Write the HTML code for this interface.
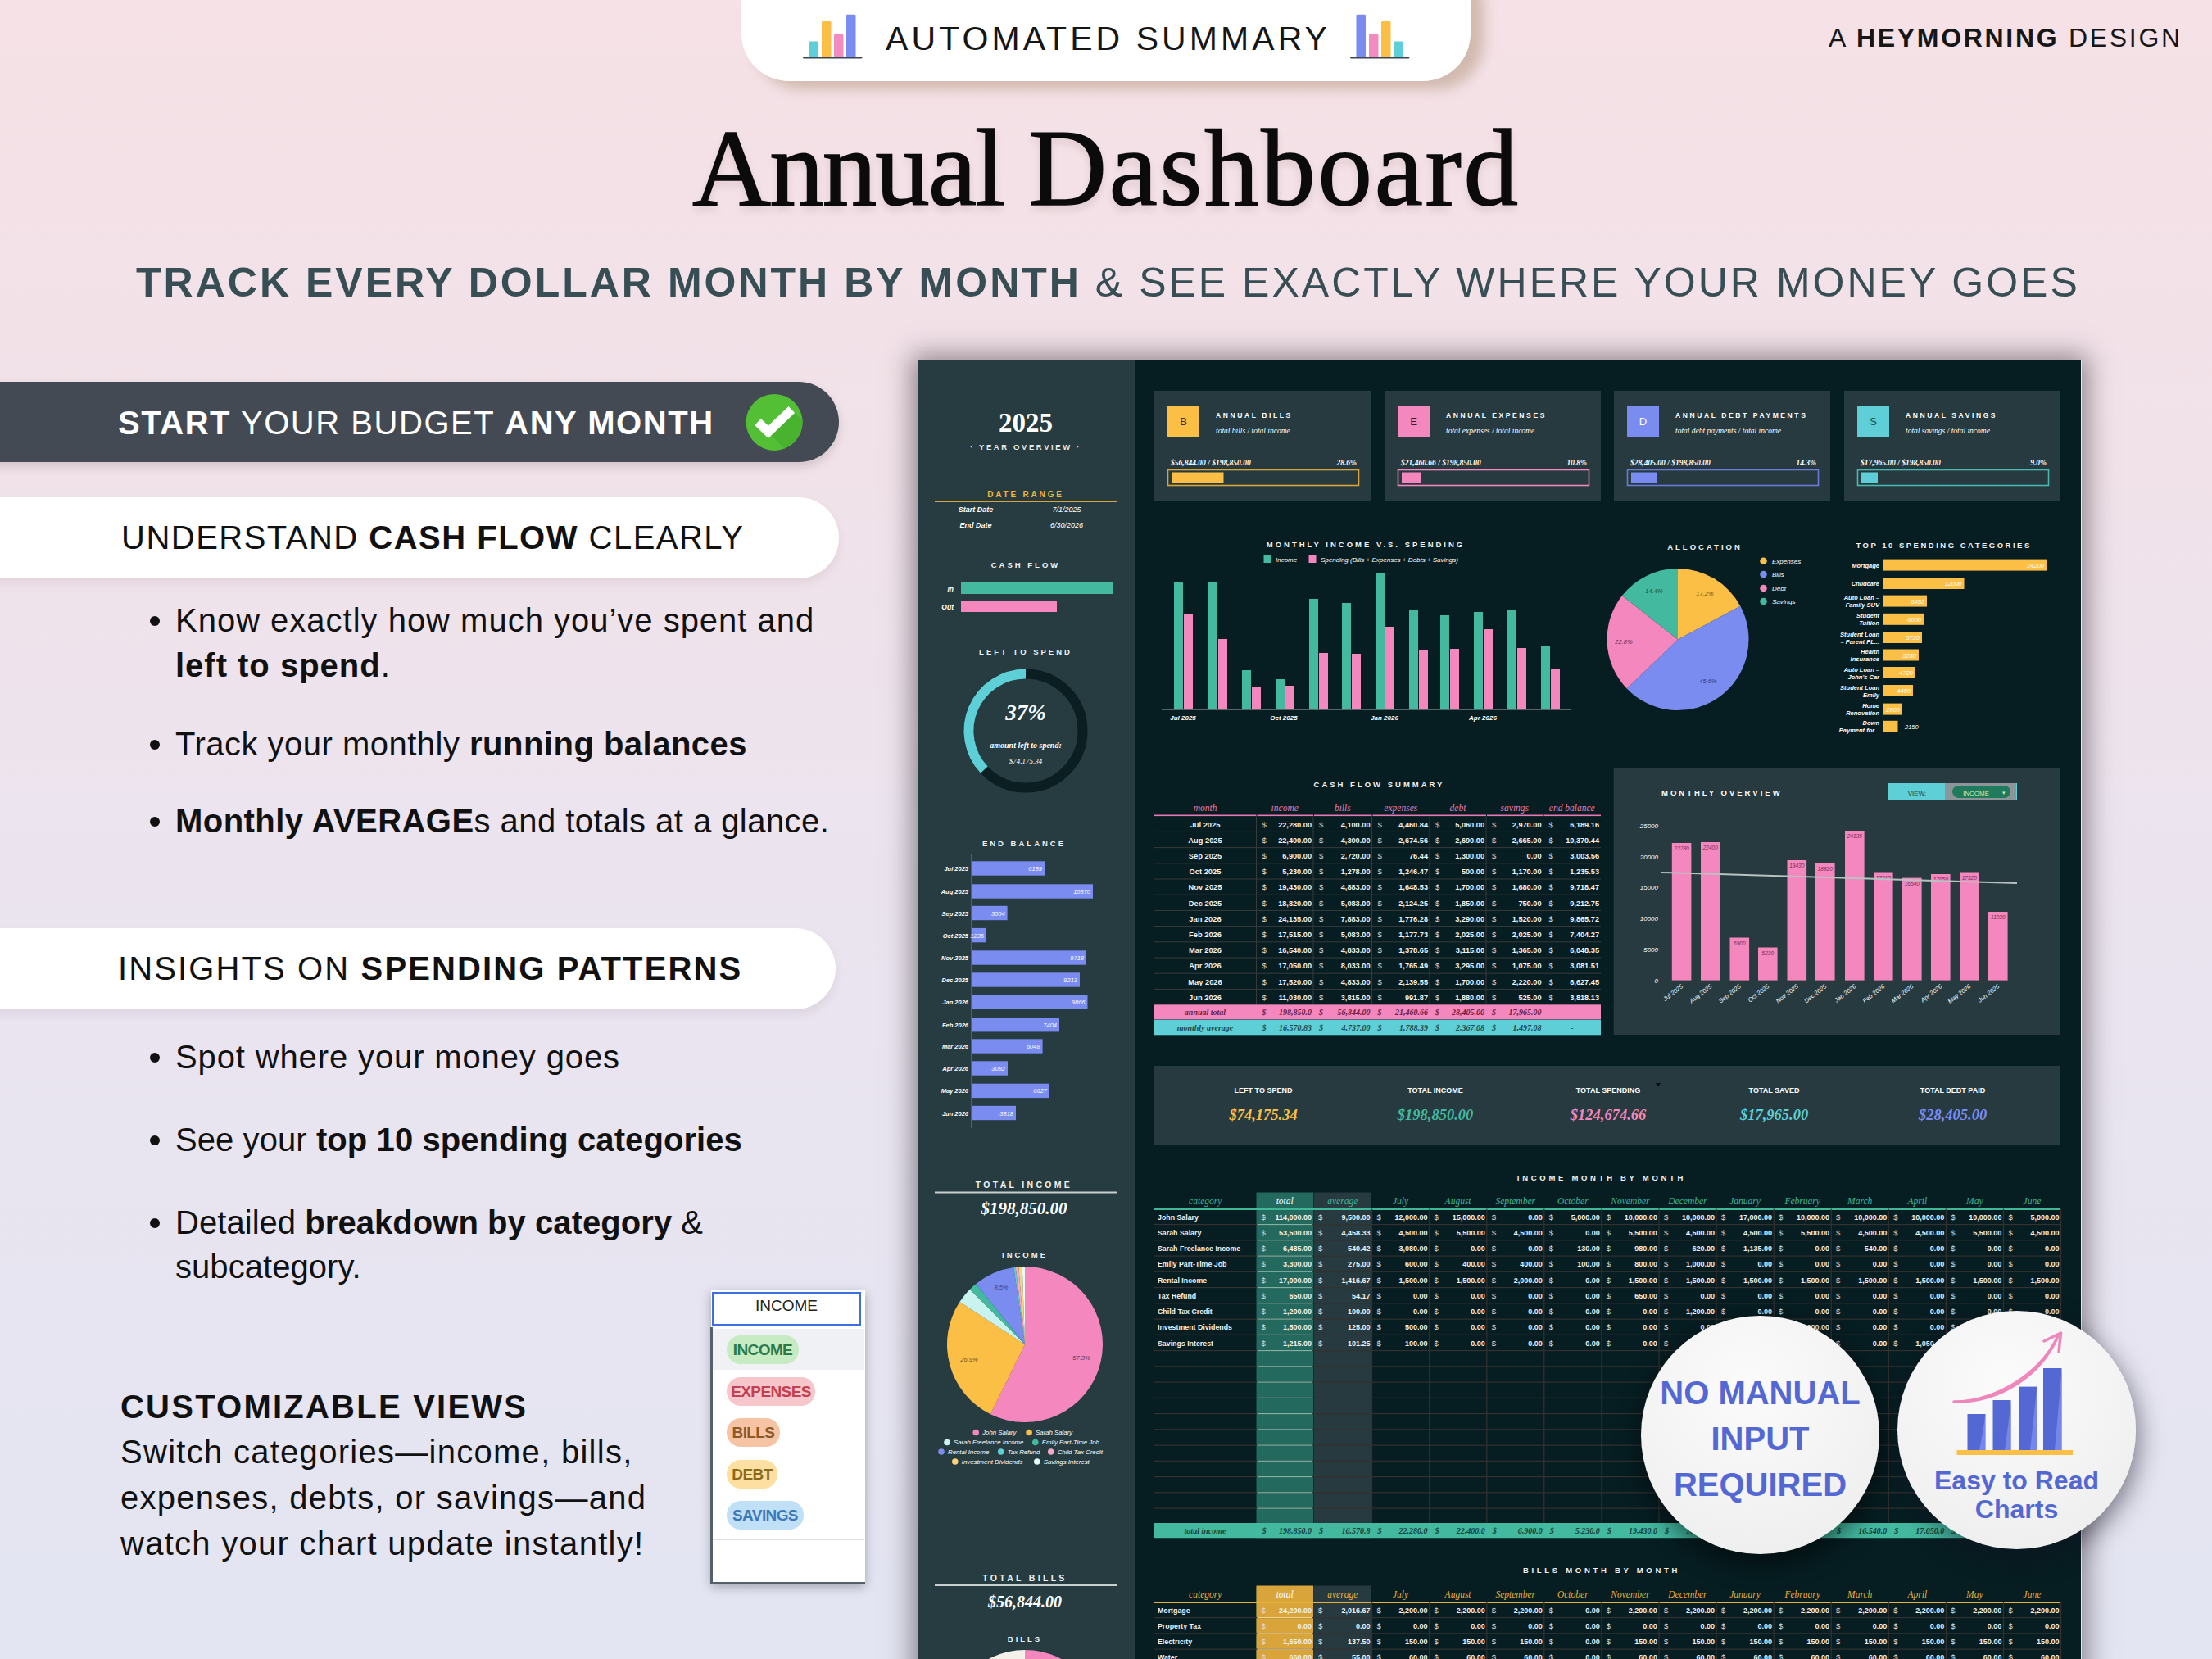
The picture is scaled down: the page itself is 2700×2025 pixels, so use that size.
<!DOCTYPE html>
<html><head><meta charset="utf-8"><title>Annual Dashboard</title>
<style>
*{margin:0;padding:0;box-sizing:border-box}
html,body{width:2700px;height:2025px;overflow:hidden}
body{position:relative;background:linear-gradient(180deg,#f5e1e6 0%,#f1e2e9 28%,#ebe4ef 52%,#e3e5f2 100%);font-family:"Liberation Sans",Arial,sans-serif;color:#111}
.a{position:absolute}
.nw{white-space:nowrap}
</style></head><body>
<div class="a" style="left:905px;top:-60px;width:890px;height:159px;background:#fff;border-radius:58px;box-shadow:16px 10px 16px rgba(160,130,95,0.42)"></div>
<svg class="a" style="left:980px;top:0px" width="74" height="74" viewBox="0 0 74 74"><rect x="7.5" y="50.6" width="11.5" height="18.9" rx="1.2" fill="#5ecfd6"/><rect x="23" y="26" width="11.5" height="43.5" rx="1.2" fill="#fbbf45"/><rect x="38" y="41.5" width="11.5" height="28.0" rx="1.2" fill="#f28cc0"/><rect x="53" y="17.7" width="11.5" height="51.8" rx="1.2" fill="#7b8cf0"/><rect x="0" y="69.2" width="72.5" height="2.2" rx="1.1" fill="#3c4654"/></svg>
<svg class="a" style="left:1648px;top:0px" width="74" height="74" viewBox="0 0 74 74"><rect x="7.5" y="17.7" width="11.5" height="51.8" rx="1.2" fill="#7b8cf0"/><rect x="23" y="41.5" width="11.5" height="28.0" rx="1.2" fill="#f28cc0"/><rect x="38" y="26" width="11.5" height="43.5" rx="1.2" fill="#fbbf45"/><rect x="53" y="50.6" width="11.5" height="18.9" rx="1.2" fill="#5ecfd6"/><rect x="0" y="69.2" width="72.5" height="2.2" rx="1.1" fill="#3c4654"/></svg>
<div id="autosum" class="a nw" style="left:1081px;top:24px;font-size:41px;letter-spacing:4.07px;color:#161616">AUTOMATED SUMMARY</div>
<div id="heym" class="a nw" style="left:2232px;top:28px;font-size:32px;letter-spacing:2.70px;color:#161616">A <b>HEYMORNING</b> DESIGN</div>
<div id="title1" class="a nw" style="left:845px;top:128px;font-family:'Liberation Serif',serif;font-size:133px;-webkit-text-stroke:1.5px #0b0b0b;letter-spacing:-1.90px;color:#0b0b0b;text-shadow:0 6px 10px rgba(120,80,80,0.18)">Annual</div>
<div id="title2" class="a nw" style="left:1255px;top:128px;font-family:'Liberation Serif',serif;font-size:133px;-webkit-text-stroke:1.5px #0b0b0b;letter-spacing:2.73px;color:#0b0b0b;text-shadow:0 6px 10px rgba(120,80,80,0.18)">Dashboard</div>
<div id="sub" class="a nw" style="left:166px;top:316px;font-size:50px;letter-spacing:3.01px;color:#374e55"><b>TRACK EVERY DOLLAR MONTH BY MONTH</b> &amp; SEE EXACTLY WHERE YOUR MONEY GOES</div>
<div class="a" style="left:-60px;top:466px;width:1084px;height:98px;background:#434a53;border-radius:49px;box-shadow:0 6px 12px rgba(80,60,70,0.18)"></div>
<div id="p1" class="a nw" style="left:144px;top:494px;font-size:40px;letter-spacing:1.54px;color:#fff"><b>START</b> YOUR BUDGET <b>ANY MONTH</b></div>
<svg class="a" style="left:910px;top:480px" width="71" height="71" viewBox="0 0 71 71"><defs><clipPath id="cc"><circle cx="35.1" cy="35.4" r="34.5"/></clipPath></defs><circle cx="35.1" cy="35.4" r="34.5" fill="#53bf35"/><polygon clip-path="url(#cc)" points="15,35 27.8,47.3 56.3,20 116,80 87.8,107.3 75,95" fill="#49b330"/><path d="M15 35 L27.8 47.3 L56.3 20" fill="none" stroke="#fff" stroke-width="11" stroke-linejoin="miter"/></svg>
<div class="a" style="left:-60px;top:607px;width:1084px;height:99px;background:#fff;border-radius:50px;box-shadow:0 6px 12px rgba(120,80,90,0.10)"></div>
<div id="p2" class="a nw" style="left:148px;top:633.5px;font-size:40px;letter-spacing:1.49px;color:#111">UNDERSTAND <b>CASH FLOW</b> CLEARLY</div>
<div class="a" style="left:-60px;top:1133px;width:1080px;height:99px;background:#fff;border-radius:50px;box-shadow:0 6px 12px rgba(120,80,90,0.10)"></div>
<div id="p3" class="a nw" style="left:144px;top:1160px;font-size:40px;letter-spacing:2.12px;color:#111">INSIGHTS ON <b>SPENDING PATTERNS</b></div>
<div class="a" style="left:182.8px;top:752.4px;width:12px;height:12px;border-radius:50%;background:#111"></div><div id="b1" class="a nw" style="left:214px;top:729.2px;font-size:40px;letter-spacing:0.99px;color:#111;line-height:56px">Know exactly how much you’ve spent and</div>
<div id="b1b" class="a nw" style="left:214px;top:790px;font-size:40px;letter-spacing:0.99px;color:#111"><b>left to spend</b>.</div>
<div class="a" style="left:182.8px;top:903.4px;width:12px;height:12px;border-radius:50%;background:#111"></div><div id="b2" class="a nw" style="left:214px;top:880.2px;font-size:40px;letter-spacing:0.49px;color:#111;line-height:56px">Track your monthly <b>running balances</b></div>
<div class="a" style="left:182.8px;top:997.4px;width:12px;height:12px;border-radius:50%;background:#111"></div><div id="b3" class="a nw" style="left:214px;top:974.2px;font-size:40px;letter-spacing:0.45px;color:#111;line-height:56px"><b>Monthly AVERAGE</b>s and totals at a glance.</div>
<div class="a" style="left:182.8px;top:1285.4px;width:12px;height:12px;border-radius:50%;background:#111"></div><div id="b4" class="a nw" style="left:214px;top:1262.2px;font-size:40px;letter-spacing:0.87px;color:#111;line-height:56px">Spot where your money goes</div>
<div class="a" style="left:182.8px;top:1386.4px;width:12px;height:12px;border-radius:50%;background:#111"></div><div id="b5" class="a nw" style="left:214px;top:1363.2px;font-size:40px;letter-spacing:0.08px;color:#111;line-height:56px">See your <b>top 10 spending categories</b></div>
<div class="a" style="left:182.8px;top:1487.4px;width:12px;height:12px;border-radius:50%;background:#111"></div><div id="b6" class="a nw" style="left:214px;top:1464.2px;font-size:40px;letter-spacing:0.05px;color:#111;line-height:56px">Detailed <b>breakdown by category</b> &amp;</div>
<div id="b6b" class="a nw" style="left:214px;top:1524px;font-size:40px;letter-spacing:0.05px;color:#111">subcategory.</div>
<div id="cv" class="a nw" style="left:147px;top:1695px;font-size:40px;font-weight:bold;letter-spacing:2.23px;color:#111">CUSTOMIZABLE VIEWS</div>
<div id="cvt" class="a" style="left:147px;top:1744px;font-size:40px;letter-spacing:1.28px;color:#111;line-height:56px;white-space:nowrap">Switch categories—income, bills,<br>expenses, debts, or savings—and<br>watch your chart update instantly!</div>
<div class="a" style="left:868px;top:1575px;width:188px;height:358px;background:#fff;box-shadow:0 4px 12px rgba(40,40,60,0.35)"></div><div class="a" style="left:869px;top:1577px;width:182px;height:42px;border:3px solid #3d6fe0;background:#fff"></div><div class="a nw" style="left:869px;top:1583px;width:182px;text-align:center;font-size:19px;color:#222">INCOME</div><div class="a" style="left:870px;top:1622px;width:185px;height:50px;background:#f0f1f4"></div><div class="a nw" style="left:887px;top:1630px;width:88px;height:35px;border-radius:17px;background:#c7ebc3;color:#2b7a4a;font-size:19px;line-height:35px;text-align:center;font-weight:bold;letter-spacing:-0.6px">INCOME</div><div class="a nw" style="left:887px;top:1681px;width:108px;height:35px;border-radius:17px;background:#f7c6cb;color:#c2404f;font-size:19px;line-height:35px;text-align:center;font-weight:bold;letter-spacing:-0.6px">EXPENSES</div><div class="a nw" style="left:887px;top:1731px;width:65px;height:35px;border-radius:17px;background:#f6c3a4;color:#8a5a2a;font-size:19px;line-height:35px;text-align:center;font-weight:bold;letter-spacing:-0.6px">BILLS</div><div class="a nw" style="left:887px;top:1782px;width:62px;height:35px;border-radius:17px;background:#fde0a1;color:#8a6a1a;font-size:19px;line-height:35px;text-align:center;font-weight:bold;letter-spacing:-0.6px">DEBT</div><div class="a nw" style="left:887px;top:1832px;width:94px;height:35px;border-radius:17px;background:#bfe0f7;color:#3f78b6;font-size:19px;line-height:35px;text-align:center;font-weight:bold;letter-spacing:-0.6px">SAVINGS</div><div class="a" style="left:870px;top:1879px;width:185px;height:1px;background:#ddd"></div><div class="a" style="left:867px;top:1620px;width:2.5px;height:313px;background:#56606a"></div><div class="a" style="left:867px;top:1931px;width:189px;height:2.5px;background:#56606a"></div>
<div class="a" style="left:1120px;top:440px;width:1421px;height:1620px;box-shadow:0 0 30px 7px rgba(50,40,50,0.5)"></div>
<svg class="a" style="left:1120px;top:440px" width="1420" height="1585" viewBox="1120 440 1420 1585">
<rect x="1120" y="440" width="266" height="1600" fill="#263c41"/>
<rect x="1386" y="440" width="1154" height="1600" fill="#061d21"/>
<text x="1252.0" y="527.0" font-size="33" fill="#fff" text-anchor="middle" font-weight="bold" font-style="normal" font-family="'Liberation Serif',serif" >2025</text>
<text x="1252.0" y="549.0" font-size="9.5" fill="#e8e8e8" text-anchor="middle" font-weight="bold" font-style="normal" font-family="'Liberation Sans',Arial,sans-serif" letter-spacing="2.6" >· YEAR OVERVIEW ·</text>
<text x="1252.0" y="607.0" font-size="10" fill="#f0b63a" text-anchor="middle" font-weight="bold" font-style="normal" font-family="'Liberation Sans',Arial,sans-serif" letter-spacing="2.8" >DATE RANGE</text>
<rect x="1141" y="611" width="222" height="2" fill="#d9a53a"/>
<text x="1191.0" y="625.0" font-size="9" fill="#fff" text-anchor="middle" font-weight="bold" font-style="italic" font-family="'Liberation Sans',Arial,sans-serif" >Start Date</text>
<text x="1302.0" y="625.0" font-size="9" fill="#fff" text-anchor="middle" font-weight="normal" font-style="italic" font-family="'Liberation Sans',Arial,sans-serif" >7/1/2025</text>
<text x="1191.0" y="644.0" font-size="9" fill="#fff" text-anchor="middle" font-weight="bold" font-style="italic" font-family="'Liberation Sans',Arial,sans-serif" >End Date</text>
<text x="1302.0" y="644.0" font-size="9" fill="#fff" text-anchor="middle" font-weight="normal" font-style="italic" font-family="'Liberation Sans',Arial,sans-serif" >6/30/2026</text>
<text x="1252.0" y="693.0" font-size="9.5" fill="#f2f2f2" text-anchor="middle" font-weight="bold" font-style="normal" font-family="'Liberation Sans',Arial,sans-serif" letter-spacing="3" >CASH FLOW</text>
<text x="1164.0" y="722.0" font-size="8.5" fill="#fff" text-anchor="end" font-weight="bold" font-style="italic" font-family="'Liberation Sans',Arial,sans-serif" >In</text>
<rect x="1173" y="710" width="186" height="15" fill="#43b9a0"/>
<text x="1164.0" y="744.0" font-size="8.5" fill="#fff" text-anchor="end" font-weight="bold" font-style="italic" font-family="'Liberation Sans',Arial,sans-serif" >Out</text>
<rect x="1173" y="733" width="117" height="14" fill="#f487bd"/>
<text x="1252.0" y="799.0" font-size="9.5" fill="#f2f2f2" text-anchor="middle" font-weight="bold" font-style="normal" font-family="'Liberation Sans',Arial,sans-serif" letter-spacing="3" >LEFT TO SPEND</text>
<circle cx="1252" cy="892" r="69.5" fill="none" stroke="#0b1e22" stroke-width="12"/>
<path d="M1252.0 822.5 A69.5 69.5 0 0 0 1201.3 939.6" fill="none" stroke="#5ecfd6" stroke-width="12"/>
<text x="1252.0" y="879.0" font-size="27" fill="#fff" text-anchor="middle" font-weight="bold" font-style="italic" font-family="'Liberation Serif',serif" >37%</text>
<text x="1252.0" y="913.0" font-size="10" fill="#fff" text-anchor="middle" font-weight="bold" font-style="italic" font-family="'Liberation Serif',serif" >amount left to spend:</text>
<text x="1252.0" y="932.0" font-size="9" fill="#fff" text-anchor="middle" font-weight="normal" font-style="italic" font-family="'Liberation Serif',serif" >$74,175.34</text>
<text x="1250.0" y="1033.0" font-size="9.5" fill="#f2f2f2" text-anchor="middle" font-weight="bold" font-style="normal" font-family="'Liberation Sans',Arial,sans-serif" letter-spacing="3" >END BALANCE</text>
<rect x="1185.5" y="1042" width="1.2" height="335" fill="#7d8a8d"/>
<rect x="1187" y="1051.3" width="88.0" height="17.4" fill="#7b8cf0"/>
<text x="1182.0" y="1063.0" font-size="7.5" fill="#fff" text-anchor="end" font-weight="bold" font-style="italic" font-family="'Liberation Sans',Arial,sans-serif" >Jul 2025</text>
<text x="1272.0" y="1063.0" font-size="7.5" fill="#fff" text-anchor="end" font-weight="normal" font-style="italic" font-family="'Liberation Sans',Arial,sans-serif" >6189</text>
<rect x="1187" y="1079.3" width="147.0" height="17.4" fill="#7b8cf0"/>
<text x="1182.0" y="1091.0" font-size="7.5" fill="#fff" text-anchor="end" font-weight="bold" font-style="italic" font-family="'Liberation Sans',Arial,sans-serif" >Aug 2025</text>
<text x="1331.0" y="1091.0" font-size="7.5" fill="#fff" text-anchor="end" font-weight="normal" font-style="italic" font-family="'Liberation Sans',Arial,sans-serif" >10370</text>
<rect x="1187" y="1105.8" width="42.6" height="17.4" fill="#7b8cf0"/>
<text x="1182.0" y="1117.5" font-size="7.5" fill="#fff" text-anchor="end" font-weight="bold" font-style="italic" font-family="'Liberation Sans',Arial,sans-serif" >Sep 2025</text>
<text x="1226.6" y="1117.5" font-size="7.5" fill="#fff" text-anchor="end" font-weight="normal" font-style="italic" font-family="'Liberation Sans',Arial,sans-serif" >3004</text>
<rect x="1187" y="1132.9" width="17.0" height="17.4" fill="#7b8cf0"/>
<text x="1182.0" y="1144.6" font-size="7.5" fill="#fff" text-anchor="end" font-weight="bold" font-style="italic" font-family="'Liberation Sans',Arial,sans-serif" >Oct 2025</text>
<text x="1201.0" y="1144.6" font-size="7.5" fill="#fff" text-anchor="end" font-weight="normal" font-style="italic" font-family="'Liberation Sans',Arial,sans-serif" >1236</text>
<rect x="1187" y="1160.3" width="139.0" height="17.4" fill="#7b8cf0"/>
<text x="1182.0" y="1172.0" font-size="7.5" fill="#fff" text-anchor="end" font-weight="bold" font-style="italic" font-family="'Liberation Sans',Arial,sans-serif" >Nov 2025</text>
<text x="1323.0" y="1172.0" font-size="7.5" fill="#fff" text-anchor="end" font-weight="normal" font-style="italic" font-family="'Liberation Sans',Arial,sans-serif" >9718</text>
<rect x="1187" y="1187.3" width="131.0" height="17.4" fill="#7b8cf0"/>
<text x="1182.0" y="1199.0" font-size="7.5" fill="#fff" text-anchor="end" font-weight="bold" font-style="italic" font-family="'Liberation Sans',Arial,sans-serif" >Dec 2025</text>
<text x="1315.0" y="1199.0" font-size="7.5" fill="#fff" text-anchor="end" font-weight="normal" font-style="italic" font-family="'Liberation Sans',Arial,sans-serif" >9213</text>
<rect x="1187" y="1214.3" width="140.5" height="17.4" fill="#7b8cf0"/>
<text x="1182.0" y="1226.0" font-size="7.5" fill="#fff" text-anchor="end" font-weight="bold" font-style="italic" font-family="'Liberation Sans',Arial,sans-serif" >Jan 2026</text>
<text x="1324.5" y="1226.0" font-size="7.5" fill="#fff" text-anchor="end" font-weight="normal" font-style="italic" font-family="'Liberation Sans',Arial,sans-serif" >9866</text>
<rect x="1187" y="1242.0" width="106.0" height="17.4" fill="#7b8cf0"/>
<text x="1182.0" y="1253.7" font-size="7.5" fill="#fff" text-anchor="end" font-weight="bold" font-style="italic" font-family="'Liberation Sans',Arial,sans-serif" >Feb 2026</text>
<text x="1290.0" y="1253.7" font-size="7.5" fill="#fff" text-anchor="end" font-weight="normal" font-style="italic" font-family="'Liberation Sans',Arial,sans-serif" >7404</text>
<rect x="1187" y="1268.3" width="85.6" height="17.4" fill="#7b8cf0"/>
<text x="1182.0" y="1280.0" font-size="7.5" fill="#fff" text-anchor="end" font-weight="bold" font-style="italic" font-family="'Liberation Sans',Arial,sans-serif" >Mar 2026</text>
<text x="1269.6" y="1280.0" font-size="7.5" fill="#fff" text-anchor="end" font-weight="normal" font-style="italic" font-family="'Liberation Sans',Arial,sans-serif" >6048</text>
<rect x="1187" y="1295.3" width="43.0" height="17.4" fill="#7b8cf0"/>
<text x="1182.0" y="1307.0" font-size="7.5" fill="#fff" text-anchor="end" font-weight="bold" font-style="italic" font-family="'Liberation Sans',Arial,sans-serif" >Apr 2026</text>
<text x="1227.0" y="1307.0" font-size="7.5" fill="#fff" text-anchor="end" font-weight="normal" font-style="italic" font-family="'Liberation Sans',Arial,sans-serif" >3082</text>
<rect x="1187" y="1322.7" width="94.0" height="17.4" fill="#7b8cf0"/>
<text x="1182.0" y="1334.4" font-size="7.5" fill="#fff" text-anchor="end" font-weight="bold" font-style="italic" font-family="'Liberation Sans',Arial,sans-serif" >May 2026</text>
<text x="1278.0" y="1334.4" font-size="7.5" fill="#fff" text-anchor="end" font-weight="normal" font-style="italic" font-family="'Liberation Sans',Arial,sans-serif" >6627</text>
<rect x="1187" y="1349.8" width="53.0" height="17.4" fill="#7b8cf0"/>
<text x="1182.0" y="1361.5" font-size="7.5" fill="#fff" text-anchor="end" font-weight="bold" font-style="italic" font-family="'Liberation Sans',Arial,sans-serif" >Jun 2026</text>
<text x="1237.0" y="1361.5" font-size="7.5" fill="#fff" text-anchor="end" font-weight="normal" font-style="italic" font-family="'Liberation Sans',Arial,sans-serif" >3818</text>
<text x="1250.0" y="1450.0" font-size="10.5" fill="#f2f2f2" text-anchor="middle" font-weight="bold" font-style="normal" font-family="'Liberation Sans',Arial,sans-serif" letter-spacing="3.3" >TOTAL INCOME</text>
<rect x="1141" y="1454.5" width="223" height="2" fill="#c9cfd0"/>
<text x="1250.0" y="1482.0" font-size="21" fill="#fff" text-anchor="middle" font-weight="bold" font-style="italic" font-family="'Liberation Serif',serif" >$198,850.00</text>
<text x="1251.0" y="1535.0" font-size="9.5" fill="#f2f2f2" text-anchor="middle" font-weight="bold" font-style="normal" font-family="'Liberation Sans',Arial,sans-serif" letter-spacing="3" >INCOME</text>
<path d="M1251 1641 L1251.00 1546.00 A95 95 0 1 1 1208.94 1726.18 Z" fill="#f487bd"/><path d="M1251 1641 L1208.94 1726.18 A95 95 0 0 1 1171.43 1589.09 Z" fill="#fbbf45"/><path d="M1251 1641 L1171.43 1589.09 A95 95 0 0 1 1183.82 1573.82 Z" fill="#c8f3ee"/><path d="M1251 1641 L1183.82 1573.82 A95 95 0 0 1 1191.37 1567.05 Z" fill="#43b9a0"/><path d="M1251 1641 L1191.37 1567.05 A95 95 0 0 1 1237.32 1546.99 Z" fill="#7b8cf0"/><path d="M1251 1641 L1237.32 1546.99 A95 95 0 0 1 1239.69 1546.68 Z" fill="#5ecfd6"/><path d="M1251 1641 L1239.69 1546.68 A95 95 0 0 1 1243.25 1546.32 Z" fill="#f6a8c8"/><path d="M1251 1641 L1243.25 1546.32 A95 95 0 0 1 1247.72 1546.06 Z" fill="#fcd27a"/><path d="M1251 1641 L1247.72 1546.06 A95 95 0 0 1 1251.00 1546.00 Z" fill="#e6fbf6"/>
<text x="1320.0" y="1660.0" font-size="7.5" fill="#5a3a4a" text-anchor="middle" font-weight="normal" font-style="italic" font-family="'Liberation Sans',Arial,sans-serif" >57.3%</text>
<text x="1183.0" y="1662.0" font-size="7.5" fill="#6a5020" text-anchor="middle" font-weight="normal" font-style="italic" font-family="'Liberation Sans',Arial,sans-serif" >26.9%</text>
<text x="1222.0" y="1574.0" font-size="7.5" fill="#3a3f70" text-anchor="middle" font-weight="normal" font-style="italic" font-family="'Liberation Sans',Arial,sans-serif" >8.5%</text>
<circle cx="1191.2" cy="1748.5" r="3.8" fill="#f487bd"/>
<text x="1199.2" y="1751.3" font-size="7.8" fill="#fff" text-anchor="start" font-weight="normal" font-style="italic" font-family="'Liberation Sans',Arial,sans-serif" >John Salary</text>
<circle cx="1256.1" cy="1748.5" r="3.8" fill="#fbbf45"/>
<text x="1264.1" y="1751.3" font-size="7.8" fill="#fff" text-anchor="start" font-weight="normal" font-style="italic" font-family="'Liberation Sans',Arial,sans-serif" >Sarah Salary</text>
<circle cx="1156.0" cy="1760.5" r="3.8" fill="#c8f3ee"/>
<text x="1164.0" y="1763.3" font-size="7.8" fill="#fff" text-anchor="start" font-weight="normal" font-style="italic" font-family="'Liberation Sans',Arial,sans-serif" >Sarah Freelance Income</text>
<circle cx="1263.8" cy="1760.5" r="3.8" fill="#43b9a0"/>
<text x="1271.8" y="1763.3" font-size="7.8" fill="#fff" text-anchor="start" font-weight="normal" font-style="italic" font-family="'Liberation Sans',Arial,sans-serif" >Emily Part-Time Job</text>
<circle cx="1149.0" cy="1772.0" r="3.8" fill="#7b8cf0"/>
<text x="1157.0" y="1774.8" font-size="7.8" fill="#fff" text-anchor="start" font-weight="normal" font-style="italic" font-family="'Liberation Sans',Arial,sans-serif" >Rental Income</text>
<circle cx="1221.7" cy="1772.0" r="3.8" fill="#5ecfd6"/>
<text x="1229.7" y="1774.8" font-size="7.8" fill="#fff" text-anchor="start" font-weight="normal" font-style="italic" font-family="'Liberation Sans',Arial,sans-serif" >Tax Refund</text>
<circle cx="1282.7" cy="1772.0" r="3.8" fill="#f6a8c8"/>
<text x="1290.7" y="1774.8" font-size="7.8" fill="#fff" text-anchor="start" font-weight="normal" font-style="italic" font-family="'Liberation Sans',Arial,sans-serif" >Child Tax Credit</text>
<circle cx="1165.8" cy="1784.0" r="3.8" fill="#fcd27a"/>
<text x="1173.8" y="1786.8" font-size="7.8" fill="#fff" text-anchor="start" font-weight="normal" font-style="italic" font-family="'Liberation Sans',Arial,sans-serif" >Investment Dividends</text>
<circle cx="1265.8" cy="1784.0" r="3.8" fill="#e6fbf6"/>
<text x="1273.8" y="1786.8" font-size="7.8" fill="#fff" text-anchor="start" font-weight="normal" font-style="italic" font-family="'Liberation Sans',Arial,sans-serif" >Savings Interest</text>
<text x="1251.0" y="1930.0" font-size="10.5" fill="#f2f2f2" text-anchor="middle" font-weight="bold" font-style="normal" font-family="'Liberation Sans',Arial,sans-serif" letter-spacing="3.3" >TOTAL BILLS</text>
<rect x="1141" y="1934" width="223" height="2" fill="#c9cfd0"/>
<text x="1251.0" y="1962.0" font-size="20" fill="#fff" text-anchor="middle" font-weight="bold" font-style="italic" font-family="'Liberation Serif',serif" >$56,844.00</text>
<text x="1251.0" y="2004.0" font-size="9.5" fill="#f2f2f2" text-anchor="middle" font-weight="bold" font-style="normal" font-family="'Liberation Sans',Arial,sans-serif" letter-spacing="3" >BILLS</text>
<path d="M1251 2109 L1251.00 2014.00 A95 95 0 0 1 1291.45 2194.96 Z" fill="#f487bd"/><path d="M1251 2109 L1291.45 2194.96 A95 95 0 0 1 1233.20 2202.32 Z" fill="#fbbf45"/><path d="M1251 2109 L1233.20 2202.32 A95 95 0 0 1 1181.75 2174.03 Z" fill="#7b8cf0"/><path d="M1251 2109 L1181.75 2174.03 A95 95 0 0 1 1210.55 2023.04 Z" fill="#f4f1ea"/><path d="M1251 2109 L1210.55 2023.04 A95 95 0 0 1 1251.00 2014.00 Z" fill="#f4f1ea"/>
<rect x="1409" y="477" width="264" height="134" fill="#263a3f"/>
<rect x="1425" y="496" width="39" height="38" fill="#fbbf45"/>
<text x="1444.5" y="519.0" font-size="13" fill="#3a2f10" text-anchor="middle" font-weight="normal" font-style="normal" font-family="'Liberation Sans',Arial,sans-serif" >B</text>
<text x="1484.0" y="510.0" font-size="8.5" fill="#fff" text-anchor="start" font-weight="bold" font-style="normal" font-family="'Liberation Sans',Arial,sans-serif" letter-spacing="2.6" >ANNUAL BILLS</text>
<text x="1484.0" y="529.0" font-size="9.5" fill="#fff" text-anchor="start" font-weight="normal" font-style="italic" font-family="'Liberation Serif',serif" >total bills / total income</text>
<text x="1429.0" y="567.5" font-size="9.5" fill="#fff" text-anchor="start" font-weight="bold" font-style="italic" font-family="'Liberation Serif',serif" >$56,844.00 / $198,850.00</text>
<text x="1656.0" y="567.5" font-size="9.5" fill="#fff" text-anchor="end" font-weight="bold" font-style="italic" font-family="'Liberation Serif',serif" >28.6%</text>
<rect x="1425.5" y="573.5" width="233" height="19" fill="none" stroke="#d9a53a" stroke-width="1.6"/>
<rect x="1430" y="576.5" width="63.5" height="13.5" fill="#fbbf45"/>
<rect x="1690" y="477" width="264" height="134" fill="#263a3f"/>
<rect x="1706" y="496" width="39" height="38" fill="#f487bd"/>
<text x="1725.5" y="519.0" font-size="13" fill="#3a1a2a" text-anchor="middle" font-weight="normal" font-style="normal" font-family="'Liberation Sans',Arial,sans-serif" >E</text>
<text x="1765.0" y="510.0" font-size="8.5" fill="#fff" text-anchor="start" font-weight="bold" font-style="normal" font-family="'Liberation Sans',Arial,sans-serif" letter-spacing="2.6" >ANNUAL EXPENSES</text>
<text x="1765.0" y="529.0" font-size="9.5" fill="#fff" text-anchor="start" font-weight="normal" font-style="italic" font-family="'Liberation Serif',serif" >total expenses / total income</text>
<text x="1710.0" y="567.5" font-size="9.5" fill="#fff" text-anchor="start" font-weight="bold" font-style="italic" font-family="'Liberation Serif',serif" >$21,460.66 / $198,850.00</text>
<text x="1937.0" y="567.5" font-size="9.5" fill="#fff" text-anchor="end" font-weight="bold" font-style="italic" font-family="'Liberation Serif',serif" >10.8%</text>
<rect x="1706.5" y="573.5" width="233" height="19" fill="none" stroke="#f487bd" stroke-width="1.6"/>
<rect x="1711" y="576.5" width="24.0" height="13.5" fill="#f487bd"/>
<rect x="1970" y="477" width="264" height="134" fill="#263a3f"/>
<rect x="1986" y="496" width="39" height="38" fill="#7b8cf0"/>
<text x="2005.5" y="519.0" font-size="13" fill="#fff" text-anchor="middle" font-weight="normal" font-style="normal" font-family="'Liberation Sans',Arial,sans-serif" >D</text>
<text x="2045.0" y="510.0" font-size="8.5" fill="#fff" text-anchor="start" font-weight="bold" font-style="normal" font-family="'Liberation Sans',Arial,sans-serif" letter-spacing="2.6" >ANNUAL DEBT PAYMENTS</text>
<text x="2045.0" y="529.0" font-size="9.5" fill="#fff" text-anchor="start" font-weight="normal" font-style="italic" font-family="'Liberation Serif',serif" >total debt payments / total income</text>
<text x="1990.0" y="567.5" font-size="9.5" fill="#fff" text-anchor="start" font-weight="bold" font-style="italic" font-family="'Liberation Serif',serif" >$28,405.00 / $198,850.00</text>
<text x="2217.0" y="567.5" font-size="9.5" fill="#fff" text-anchor="end" font-weight="bold" font-style="italic" font-family="'Liberation Serif',serif" >14.3%</text>
<rect x="1986.5" y="573.5" width="233" height="19" fill="none" stroke="#6a7ad8" stroke-width="1.6"/>
<rect x="1991" y="576.5" width="31.7" height="13.5" fill="#7b8cf0"/>
<rect x="2251" y="477" width="264" height="134" fill="#263a3f"/>
<rect x="2267" y="496" width="39" height="38" fill="#5ecfd6"/>
<text x="2286.5" y="519.0" font-size="13" fill="#1f4a4e" text-anchor="middle" font-weight="normal" font-style="normal" font-family="'Liberation Sans',Arial,sans-serif" >S</text>
<text x="2326.0" y="510.0" font-size="8.5" fill="#fff" text-anchor="start" font-weight="bold" font-style="normal" font-family="'Liberation Sans',Arial,sans-serif" letter-spacing="2.6" >ANNUAL SAVINGS</text>
<text x="2326.0" y="529.0" font-size="9.5" fill="#fff" text-anchor="start" font-weight="normal" font-style="italic" font-family="'Liberation Serif',serif" >total savings / total income</text>
<text x="2271.0" y="567.5" font-size="9.5" fill="#fff" text-anchor="start" font-weight="bold" font-style="italic" font-family="'Liberation Serif',serif" >$17,965.00 / $198,850.00</text>
<text x="2498.0" y="567.5" font-size="9.5" fill="#fff" text-anchor="end" font-weight="bold" font-style="italic" font-family="'Liberation Serif',serif" >9.0%</text>
<rect x="2267.5" y="573.5" width="233" height="19" fill="none" stroke="#4ab8b0" stroke-width="1.6"/>
<rect x="2272" y="576.5" width="20.0" height="13.5" fill="#5ecfd6"/>
<text x="1667.0" y="668.0" font-size="9.5" fill="#f2f2f2" text-anchor="middle" font-weight="bold" font-style="normal" font-family="'Liberation Sans',Arial,sans-serif" letter-spacing="3" >MONTHLY INCOME V.S. SPENDING</text>
<rect x="1542.5" y="678" width="9" height="9" fill="#43b9a0"/>
<text x="1557.0" y="686.0" font-size="8" fill="#fff" text-anchor="start" font-weight="normal" font-style="italic" font-family="'Liberation Sans',Arial,sans-serif" >Income</text>
<rect x="1597.5" y="678" width="9" height="9" fill="#f487bd"/>
<text x="1612.0" y="686.0" font-size="8" fill="#fff" text-anchor="start" font-weight="normal" font-style="italic" font-family="'Liberation Sans',Arial,sans-serif" >Spending (Bills + Expenses + Debts + Savings)</text>
<rect x="1433" y="711" width="11" height="155" fill="#43b9a0"/>
<rect x="1445" y="750" width="11" height="116" fill="#f487bd"/>
<rect x="1475" y="710" width="11" height="156" fill="#43b9a0"/>
<rect x="1487" y="780" width="11" height="86" fill="#f487bd"/>
<rect x="1516" y="818" width="11" height="48" fill="#43b9a0"/>
<rect x="1528" y="838" width="11" height="28" fill="#f487bd"/>
<rect x="1557" y="829" width="11" height="37" fill="#43b9a0"/>
<rect x="1569" y="837" width="11" height="29" fill="#f487bd"/>
<rect x="1598" y="731" width="11" height="135" fill="#43b9a0"/>
<rect x="1610" y="797" width="11" height="69" fill="#f487bd"/>
<rect x="1638" y="736" width="11" height="130" fill="#43b9a0"/>
<rect x="1650" y="798" width="11" height="68" fill="#f487bd"/>
<rect x="1679" y="699" width="11" height="167" fill="#43b9a0"/>
<rect x="1691" y="765" width="11" height="101" fill="#f487bd"/>
<rect x="1720" y="744" width="11" height="122" fill="#43b9a0"/>
<rect x="1732" y="794" width="11" height="72" fill="#f487bd"/>
<rect x="1758" y="751" width="11" height="115" fill="#43b9a0"/>
<rect x="1770" y="792" width="11" height="74" fill="#f487bd"/>
<rect x="1799" y="747" width="11" height="119" fill="#43b9a0"/>
<rect x="1811" y="768" width="11" height="98" fill="#f487bd"/>
<rect x="1840" y="744" width="11" height="122" fill="#43b9a0"/>
<rect x="1852" y="791" width="11" height="75" fill="#f487bd"/>
<rect x="1881" y="789" width="11" height="77" fill="#43b9a0"/>
<rect x="1893" y="816" width="11" height="50" fill="#f487bd"/>
<rect x="1418" y="865.5" width="500" height="1.5" fill="#55666b"/>
<text x="1444.0" y="879.0" font-size="8" fill="#fff" text-anchor="middle" font-weight="bold" font-style="italic" font-family="'Liberation Sans',Arial,sans-serif" >Jul 2025</text>
<text x="1567.0" y="879.0" font-size="8" fill="#fff" text-anchor="middle" font-weight="bold" font-style="italic" font-family="'Liberation Sans',Arial,sans-serif" >Oct 2025</text>
<text x="1690.0" y="879.0" font-size="8" fill="#fff" text-anchor="middle" font-weight="bold" font-style="italic" font-family="'Liberation Sans',Arial,sans-serif" >Jan 2026</text>
<text x="1810.0" y="879.0" font-size="8" fill="#fff" text-anchor="middle" font-weight="bold" font-style="italic" font-family="'Liberation Sans',Arial,sans-serif" >Apr 2026</text>
<text x="2081.0" y="670.5" font-size="9.5" fill="#f2f2f2" text-anchor="middle" font-weight="bold" font-style="normal" font-family="'Liberation Sans',Arial,sans-serif" letter-spacing="3" >ALLOCATION</text>
<path d="M2048 780.5 L2048.00 694.00 A86.5 86.5 0 0 1 2124.32 739.78 Z" fill="#fbbf45"/><path d="M2048 780.5 L2124.32 739.78 A86.5 86.5 0 0 1 1985.69 840.50 Z" fill="#7b8cf0"/><path d="M2048 780.5 L1985.69 840.50 A86.5 86.5 0 0 1 1979.99 727.06 Z" fill="#f487bd"/><path d="M2048 780.5 L1979.99 727.06 A86.5 86.5 0 0 1 2048.00 694.00 Z" fill="#43b9a0"/>
<text x="2081.0" y="727.0" font-size="7.5" fill="#6a5020" text-anchor="middle" font-weight="normal" font-style="italic" font-family="'Liberation Sans',Arial,sans-serif" >17.2%</text>
<text x="2085.0" y="834.0" font-size="7.5" fill="#303a80" text-anchor="middle" font-weight="normal" font-style="italic" font-family="'Liberation Sans',Arial,sans-serif" >45.6%</text>
<text x="1982.0" y="786.0" font-size="7.5" fill="#6a2a4a" text-anchor="middle" font-weight="normal" font-style="italic" font-family="'Liberation Sans',Arial,sans-serif" >22.8%</text>
<text x="2019.0" y="724.0" font-size="7.5" fill="#1a5048" text-anchor="middle" font-weight="normal" font-style="italic" font-family="'Liberation Sans',Arial,sans-serif" >14.4%</text>
<circle cx="2152.5" cy="684.7" r="4.3" fill="#fbbf45"/>
<text x="2163.0" y="687.7" font-size="8" fill="#fff" text-anchor="start" font-weight="normal" font-style="italic" font-family="'Liberation Sans',Arial,sans-serif" >Expenses</text>
<circle cx="2152.5" cy="701" r="4.3" fill="#7b8cf0"/>
<text x="2163.0" y="704.0" font-size="8" fill="#fff" text-anchor="start" font-weight="normal" font-style="italic" font-family="'Liberation Sans',Arial,sans-serif" >Bills</text>
<circle cx="2152.5" cy="718" r="4.3" fill="#f487bd"/>
<text x="2163.0" y="721.0" font-size="8" fill="#fff" text-anchor="start" font-weight="normal" font-style="italic" font-family="'Liberation Sans',Arial,sans-serif" >Debt</text>
<circle cx="2152.5" cy="734" r="4.3" fill="#43b9a0"/>
<text x="2163.0" y="737.0" font-size="8" fill="#fff" text-anchor="start" font-weight="normal" font-style="italic" font-family="'Liberation Sans',Arial,sans-serif" >Savings</text>
<text x="2372.6" y="669.0" font-size="9.5" fill="#f2f2f2" text-anchor="middle" font-weight="bold" font-style="normal" font-family="'Liberation Sans',Arial,sans-serif" letter-spacing="2.5" >TOP 10 SPENDING  CATEGORIES</text>
<rect x="2298" y="682.6" width="200.0" height="14" fill="#fbbf45"/>
<text x="2294.0" y="692.6" font-size="7.5" fill="#fff" text-anchor="end" font-weight="bold" font-style="italic" font-family="'Liberation Sans',Arial,sans-serif" >Mortgage</text>
<text x="2495.0" y="692.6" font-size="7.5" fill="#fff" text-anchor="end" font-weight="normal" font-style="italic" font-family="'Liberation Sans',Arial,sans-serif" >24200</text>
<rect x="2298" y="705" width="99.5" height="14" fill="#fbbf45"/>
<text x="2294.0" y="715.0" font-size="7.5" fill="#fff" text-anchor="end" font-weight="bold" font-style="italic" font-family="'Liberation Sans',Arial,sans-serif" >Childcare</text>
<text x="2394.5" y="715.0" font-size="7.5" fill="#fff" text-anchor="end" font-weight="normal" font-style="italic" font-family="'Liberation Sans',Arial,sans-serif" >12000</text>
<rect x="2298" y="726.6" width="54.0" height="14" fill="#fbbf45"/>
<text x="2294.0" y="732.1" font-size="7.5" fill="#fff" text-anchor="end" font-weight="bold" font-style="italic" font-family="'Liberation Sans',Arial,sans-serif" >Auto Loan –</text>
<text x="2294.0" y="741.1" font-size="7.5" fill="#fff" text-anchor="end" font-weight="bold" font-style="italic" font-family="'Liberation Sans',Arial,sans-serif" >Family SUV</text>
<text x="2349.0" y="736.6" font-size="7.5" fill="#fff" text-anchor="end" font-weight="normal" font-style="italic" font-family="'Liberation Sans',Arial,sans-serif" >6492</text>
<rect x="2298" y="748.8" width="50.0" height="14" fill="#fbbf45"/>
<text x="2294.0" y="754.3" font-size="7.5" fill="#fff" text-anchor="end" font-weight="bold" font-style="italic" font-family="'Liberation Sans',Arial,sans-serif" >Student</text>
<text x="2294.0" y="763.3" font-size="7.5" fill="#fff" text-anchor="end" font-weight="bold" font-style="italic" font-family="'Liberation Sans',Arial,sans-serif" >Tuition</text>
<text x="2345.0" y="758.8" font-size="7.5" fill="#fff" text-anchor="end" font-weight="normal" font-style="italic" font-family="'Liberation Sans',Arial,sans-serif" >6000</text>
<rect x="2298" y="771" width="48.0" height="14" fill="#fbbf45"/>
<text x="2294.0" y="776.5" font-size="7.5" fill="#fff" text-anchor="end" font-weight="bold" font-style="italic" font-family="'Liberation Sans',Arial,sans-serif" >Student Loan</text>
<text x="2294.0" y="785.5" font-size="7.5" fill="#fff" text-anchor="end" font-weight="bold" font-style="italic" font-family="'Liberation Sans',Arial,sans-serif" >– Parent PL...</text>
<text x="2343.0" y="781.0" font-size="7.5" fill="#fff" text-anchor="end" font-weight="normal" font-style="italic" font-family="'Liberation Sans',Arial,sans-serif" >5720</text>
<rect x="2298" y="792.5" width="44.0" height="14" fill="#fbbf45"/>
<text x="2294.0" y="798.0" font-size="7.5" fill="#fff" text-anchor="end" font-weight="bold" font-style="italic" font-family="'Liberation Sans',Arial,sans-serif" >Health</text>
<text x="2294.0" y="807.0" font-size="7.5" fill="#fff" text-anchor="end" font-weight="bold" font-style="italic" font-family="'Liberation Sans',Arial,sans-serif" >Insurance</text>
<text x="2339.0" y="802.5" font-size="7.5" fill="#fff" text-anchor="end" font-weight="normal" font-style="italic" font-family="'Liberation Sans',Arial,sans-serif" >5280</text>
<rect x="2298" y="814" width="40.0" height="14" fill="#fbbf45"/>
<text x="2294.0" y="819.5" font-size="7.5" fill="#fff" text-anchor="end" font-weight="bold" font-style="italic" font-family="'Liberation Sans',Arial,sans-serif" >Auto Loan –</text>
<text x="2294.0" y="828.5" font-size="7.5" fill="#fff" text-anchor="end" font-weight="bold" font-style="italic" font-family="'Liberation Sans',Arial,sans-serif" >John's Car</text>
<text x="2335.0" y="824.0" font-size="7.5" fill="#fff" text-anchor="end" font-weight="normal" font-style="italic" font-family="'Liberation Sans',Arial,sans-serif" >4720</text>
<rect x="2298" y="836" width="37.0" height="14" fill="#fbbf45"/>
<text x="2294.0" y="841.5" font-size="7.5" fill="#fff" text-anchor="end" font-weight="bold" font-style="italic" font-family="'Liberation Sans',Arial,sans-serif" >Student Loan</text>
<text x="2294.0" y="850.5" font-size="7.5" fill="#fff" text-anchor="end" font-weight="bold" font-style="italic" font-family="'Liberation Sans',Arial,sans-serif" >– Emily</text>
<text x="2332.0" y="846.0" font-size="7.5" fill="#fff" text-anchor="end" font-weight="normal" font-style="italic" font-family="'Liberation Sans',Arial,sans-serif" >4450</text>
<rect x="2298" y="858.6" width="24.0" height="14" fill="#fbbf45"/>
<text x="2294.0" y="864.1" font-size="7.5" fill="#fff" text-anchor="end" font-weight="bold" font-style="italic" font-family="'Liberation Sans',Arial,sans-serif" >Home</text>
<text x="2294.0" y="873.1" font-size="7.5" fill="#fff" text-anchor="end" font-weight="bold" font-style="italic" font-family="'Liberation Sans',Arial,sans-serif" >Renovation</text>
<text x="2319.0" y="868.6" font-size="7.5" fill="#fff" text-anchor="end" font-weight="normal" font-style="italic" font-family="'Liberation Sans',Arial,sans-serif" >2800</text>
<rect x="2298" y="879.8" width="18.5" height="14" fill="#fbbf45"/>
<text x="2294.0" y="885.3" font-size="7.5" fill="#fff" text-anchor="end" font-weight="bold" font-style="italic" font-family="'Liberation Sans',Arial,sans-serif" >Down</text>
<text x="2294.0" y="894.3" font-size="7.5" fill="#fff" text-anchor="end" font-weight="bold" font-style="italic" font-family="'Liberation Sans',Arial,sans-serif" >Payment for...</text>
<text x="2325.0" y="889.8" font-size="7.5" fill="#fff" text-anchor="start" font-weight="normal" font-style="italic" font-family="'Liberation Sans',Arial,sans-serif" >2150</text>
<text x="1683.5" y="961.0" font-size="9.5" fill="#f2f2f2" text-anchor="middle" font-weight="bold" font-style="normal" font-family="'Liberation Sans',Arial,sans-serif" letter-spacing="3" >CASH FLOW SUMMARY</text>
<text x="1471.2" y="990.0" font-size="11.5" fill="#e979b4" text-anchor="middle" font-weight="normal" font-style="italic" font-family="'Liberation Serif',serif" >month</text>
<text x="1568.2" y="990.0" font-size="11.5" fill="#e979b4" text-anchor="middle" font-weight="normal" font-style="italic" font-family="'Liberation Serif',serif" >income</text>
<text x="1638.8" y="990.0" font-size="11.5" fill="#e979b4" text-anchor="middle" font-weight="normal" font-style="italic" font-family="'Liberation Serif',serif" >bills</text>
<text x="1709.8" y="990.0" font-size="11.5" fill="#e979b4" text-anchor="middle" font-weight="normal" font-style="italic" font-family="'Liberation Serif',serif" >expenses</text>
<text x="1779.5" y="990.0" font-size="11.5" fill="#e979b4" text-anchor="middle" font-weight="normal" font-style="italic" font-family="'Liberation Serif',serif" >debt</text>
<text x="1848.8" y="990.0" font-size="11.5" fill="#e979b4" text-anchor="middle" font-weight="normal" font-style="italic" font-family="'Liberation Serif',serif" >savings</text>
<text x="1918.8" y="990.0" font-size="11.5" fill="#e979b4" text-anchor="middle" font-weight="normal" font-style="italic" font-family="'Liberation Serif',serif" >end balance</text>
<rect x="1409" y="994.5" width="124.5" height="1.6" fill="#e979b4"/>
<rect x="1534.5" y="994.5" width="68.5" height="1.6" fill="#e979b4"/>
<rect x="1604" y="994.5" width="70.5" height="1.6" fill="#e979b4"/>
<rect x="1675.5" y="994.5" width="69.5" height="1.6" fill="#e979b4"/>
<rect x="1746" y="994.5" width="68" height="1.6" fill="#e979b4"/>
<rect x="1815" y="994.5" width="68.5" height="1.6" fill="#e979b4"/>
<rect x="1884.5" y="994.5" width="69.5" height="1.6" fill="#e979b4"/>
<text x="1471.0" y="1009.6" font-size="9.3" fill="#f2f2f2" text-anchor="middle" font-weight="bold" font-style="normal" font-family="'Liberation Sans',Arial,sans-serif" >Jul 2025</text>
<text x="1540.5" y="1009.6" font-size="9.5" fill="#ddd" text-anchor="start" font-weight="normal" font-style="normal" font-family="'Liberation Sans',Arial,sans-serif" >$</text>
<text x="1601.0" y="1009.6" font-size="9.2" fill="#f2f2f2" text-anchor="end" font-weight="bold" font-style="normal" font-family="'Liberation Sans',Arial,sans-serif" >22,280.00</text>
<text x="1610.0" y="1009.6" font-size="9.5" fill="#ddd" text-anchor="start" font-weight="normal" font-style="normal" font-family="'Liberation Sans',Arial,sans-serif" >$</text>
<text x="1672.5" y="1009.6" font-size="9.2" fill="#f2f2f2" text-anchor="end" font-weight="bold" font-style="normal" font-family="'Liberation Sans',Arial,sans-serif" >4,100.00</text>
<text x="1681.5" y="1009.6" font-size="9.5" fill="#ddd" text-anchor="start" font-weight="normal" font-style="normal" font-family="'Liberation Sans',Arial,sans-serif" >$</text>
<text x="1743.0" y="1009.6" font-size="9.2" fill="#f2f2f2" text-anchor="end" font-weight="bold" font-style="normal" font-family="'Liberation Sans',Arial,sans-serif" >4,460.84</text>
<text x="1752.0" y="1009.6" font-size="9.5" fill="#ddd" text-anchor="start" font-weight="normal" font-style="normal" font-family="'Liberation Sans',Arial,sans-serif" >$</text>
<text x="1812.0" y="1009.6" font-size="9.2" fill="#f2f2f2" text-anchor="end" font-weight="bold" font-style="normal" font-family="'Liberation Sans',Arial,sans-serif" >5,060.00</text>
<text x="1821.0" y="1009.6" font-size="9.5" fill="#ddd" text-anchor="start" font-weight="normal" font-style="normal" font-family="'Liberation Sans',Arial,sans-serif" >$</text>
<text x="1881.5" y="1009.6" font-size="9.2" fill="#f2f2f2" text-anchor="end" font-weight="bold" font-style="normal" font-family="'Liberation Sans',Arial,sans-serif" >2,970.00</text>
<text x="1890.5" y="1009.6" font-size="9.5" fill="#ddd" text-anchor="start" font-weight="normal" font-style="normal" font-family="'Liberation Sans',Arial,sans-serif" >$</text>
<text x="1952.0" y="1009.6" font-size="9.2" fill="#f2f2f2" text-anchor="end" font-weight="bold" font-style="normal" font-family="'Liberation Sans',Arial,sans-serif" >6,189.16</text>
<rect x="1409" y="1014.9" width="545" height="1" fill="#3a3a3a"/>
<text x="1471.0" y="1028.8" font-size="9.3" fill="#f2f2f2" text-anchor="middle" font-weight="bold" font-style="normal" font-family="'Liberation Sans',Arial,sans-serif" >Aug 2025</text>
<text x="1540.5" y="1028.8" font-size="9.5" fill="#ddd" text-anchor="start" font-weight="normal" font-style="normal" font-family="'Liberation Sans',Arial,sans-serif" >$</text>
<text x="1601.0" y="1028.8" font-size="9.2" fill="#f2f2f2" text-anchor="end" font-weight="bold" font-style="normal" font-family="'Liberation Sans',Arial,sans-serif" >22,400.00</text>
<text x="1610.0" y="1028.8" font-size="9.5" fill="#ddd" text-anchor="start" font-weight="normal" font-style="normal" font-family="'Liberation Sans',Arial,sans-serif" >$</text>
<text x="1672.5" y="1028.8" font-size="9.2" fill="#f2f2f2" text-anchor="end" font-weight="bold" font-style="normal" font-family="'Liberation Sans',Arial,sans-serif" >4,300.00</text>
<text x="1681.5" y="1028.8" font-size="9.5" fill="#ddd" text-anchor="start" font-weight="normal" font-style="normal" font-family="'Liberation Sans',Arial,sans-serif" >$</text>
<text x="1743.0" y="1028.8" font-size="9.2" fill="#f2f2f2" text-anchor="end" font-weight="bold" font-style="normal" font-family="'Liberation Sans',Arial,sans-serif" >2,674.56</text>
<text x="1752.0" y="1028.8" font-size="9.5" fill="#ddd" text-anchor="start" font-weight="normal" font-style="normal" font-family="'Liberation Sans',Arial,sans-serif" >$</text>
<text x="1812.0" y="1028.8" font-size="9.2" fill="#f2f2f2" text-anchor="end" font-weight="bold" font-style="normal" font-family="'Liberation Sans',Arial,sans-serif" >2,690.00</text>
<text x="1821.0" y="1028.8" font-size="9.5" fill="#ddd" text-anchor="start" font-weight="normal" font-style="normal" font-family="'Liberation Sans',Arial,sans-serif" >$</text>
<text x="1881.5" y="1028.8" font-size="9.2" fill="#f2f2f2" text-anchor="end" font-weight="bold" font-style="normal" font-family="'Liberation Sans',Arial,sans-serif" >2,665.00</text>
<text x="1890.5" y="1028.8" font-size="9.5" fill="#ddd" text-anchor="start" font-weight="normal" font-style="normal" font-family="'Liberation Sans',Arial,sans-serif" >$</text>
<text x="1952.0" y="1028.8" font-size="9.2" fill="#f2f2f2" text-anchor="end" font-weight="bold" font-style="normal" font-family="'Liberation Sans',Arial,sans-serif" >10,370.44</text>
<rect x="1409" y="1034.1" width="545" height="1" fill="#3a3a3a"/>
<text x="1471.0" y="1048.0" font-size="9.3" fill="#f2f2f2" text-anchor="middle" font-weight="bold" font-style="normal" font-family="'Liberation Sans',Arial,sans-serif" >Sep 2025</text>
<text x="1540.5" y="1048.0" font-size="9.5" fill="#ddd" text-anchor="start" font-weight="normal" font-style="normal" font-family="'Liberation Sans',Arial,sans-serif" >$</text>
<text x="1601.0" y="1048.0" font-size="9.2" fill="#f2f2f2" text-anchor="end" font-weight="bold" font-style="normal" font-family="'Liberation Sans',Arial,sans-serif" >6,900.00</text>
<text x="1610.0" y="1048.0" font-size="9.5" fill="#ddd" text-anchor="start" font-weight="normal" font-style="normal" font-family="'Liberation Sans',Arial,sans-serif" >$</text>
<text x="1672.5" y="1048.0" font-size="9.2" fill="#f2f2f2" text-anchor="end" font-weight="bold" font-style="normal" font-family="'Liberation Sans',Arial,sans-serif" >2,720.00</text>
<text x="1681.5" y="1048.0" font-size="9.5" fill="#ddd" text-anchor="start" font-weight="normal" font-style="normal" font-family="'Liberation Sans',Arial,sans-serif" >$</text>
<text x="1743.0" y="1048.0" font-size="9.2" fill="#f2f2f2" text-anchor="end" font-weight="bold" font-style="normal" font-family="'Liberation Sans',Arial,sans-serif" >76.44</text>
<text x="1752.0" y="1048.0" font-size="9.5" fill="#ddd" text-anchor="start" font-weight="normal" font-style="normal" font-family="'Liberation Sans',Arial,sans-serif" >$</text>
<text x="1812.0" y="1048.0" font-size="9.2" fill="#f2f2f2" text-anchor="end" font-weight="bold" font-style="normal" font-family="'Liberation Sans',Arial,sans-serif" >1,300.00</text>
<text x="1821.0" y="1048.0" font-size="9.5" fill="#ddd" text-anchor="start" font-weight="normal" font-style="normal" font-family="'Liberation Sans',Arial,sans-serif" >$</text>
<text x="1881.5" y="1048.0" font-size="9.2" fill="#f2f2f2" text-anchor="end" font-weight="bold" font-style="normal" font-family="'Liberation Sans',Arial,sans-serif" >0.00</text>
<text x="1890.5" y="1048.0" font-size="9.5" fill="#ddd" text-anchor="start" font-weight="normal" font-style="normal" font-family="'Liberation Sans',Arial,sans-serif" >$</text>
<text x="1952.0" y="1048.0" font-size="9.2" fill="#f2f2f2" text-anchor="end" font-weight="bold" font-style="normal" font-family="'Liberation Sans',Arial,sans-serif" >3,003.56</text>
<rect x="1409" y="1053.3" width="545" height="1" fill="#3a3a3a"/>
<text x="1471.0" y="1067.2" font-size="9.3" fill="#f2f2f2" text-anchor="middle" font-weight="bold" font-style="normal" font-family="'Liberation Sans',Arial,sans-serif" >Oct 2025</text>
<text x="1540.5" y="1067.2" font-size="9.5" fill="#ddd" text-anchor="start" font-weight="normal" font-style="normal" font-family="'Liberation Sans',Arial,sans-serif" >$</text>
<text x="1601.0" y="1067.2" font-size="9.2" fill="#f2f2f2" text-anchor="end" font-weight="bold" font-style="normal" font-family="'Liberation Sans',Arial,sans-serif" >5,230.00</text>
<text x="1610.0" y="1067.2" font-size="9.5" fill="#ddd" text-anchor="start" font-weight="normal" font-style="normal" font-family="'Liberation Sans',Arial,sans-serif" >$</text>
<text x="1672.5" y="1067.2" font-size="9.2" fill="#f2f2f2" text-anchor="end" font-weight="bold" font-style="normal" font-family="'Liberation Sans',Arial,sans-serif" >1,278.00</text>
<text x="1681.5" y="1067.2" font-size="9.5" fill="#ddd" text-anchor="start" font-weight="normal" font-style="normal" font-family="'Liberation Sans',Arial,sans-serif" >$</text>
<text x="1743.0" y="1067.2" font-size="9.2" fill="#f2f2f2" text-anchor="end" font-weight="bold" font-style="normal" font-family="'Liberation Sans',Arial,sans-serif" >1,246.47</text>
<text x="1752.0" y="1067.2" font-size="9.5" fill="#ddd" text-anchor="start" font-weight="normal" font-style="normal" font-family="'Liberation Sans',Arial,sans-serif" >$</text>
<text x="1812.0" y="1067.2" font-size="9.2" fill="#f2f2f2" text-anchor="end" font-weight="bold" font-style="normal" font-family="'Liberation Sans',Arial,sans-serif" >500.00</text>
<text x="1821.0" y="1067.2" font-size="9.5" fill="#ddd" text-anchor="start" font-weight="normal" font-style="normal" font-family="'Liberation Sans',Arial,sans-serif" >$</text>
<text x="1881.5" y="1067.2" font-size="9.2" fill="#f2f2f2" text-anchor="end" font-weight="bold" font-style="normal" font-family="'Liberation Sans',Arial,sans-serif" >1,170.00</text>
<text x="1890.5" y="1067.2" font-size="9.5" fill="#ddd" text-anchor="start" font-weight="normal" font-style="normal" font-family="'Liberation Sans',Arial,sans-serif" >$</text>
<text x="1952.0" y="1067.2" font-size="9.2" fill="#f2f2f2" text-anchor="end" font-weight="bold" font-style="normal" font-family="'Liberation Sans',Arial,sans-serif" >1,235.53</text>
<rect x="1409" y="1072.5" width="545" height="1" fill="#3a3a3a"/>
<text x="1471.0" y="1086.4" font-size="9.3" fill="#f2f2f2" text-anchor="middle" font-weight="bold" font-style="normal" font-family="'Liberation Sans',Arial,sans-serif" >Nov 2025</text>
<text x="1540.5" y="1086.4" font-size="9.5" fill="#ddd" text-anchor="start" font-weight="normal" font-style="normal" font-family="'Liberation Sans',Arial,sans-serif" >$</text>
<text x="1601.0" y="1086.4" font-size="9.2" fill="#f2f2f2" text-anchor="end" font-weight="bold" font-style="normal" font-family="'Liberation Sans',Arial,sans-serif" >19,430.00</text>
<text x="1610.0" y="1086.4" font-size="9.5" fill="#ddd" text-anchor="start" font-weight="normal" font-style="normal" font-family="'Liberation Sans',Arial,sans-serif" >$</text>
<text x="1672.5" y="1086.4" font-size="9.2" fill="#f2f2f2" text-anchor="end" font-weight="bold" font-style="normal" font-family="'Liberation Sans',Arial,sans-serif" >4,883.00</text>
<text x="1681.5" y="1086.4" font-size="9.5" fill="#ddd" text-anchor="start" font-weight="normal" font-style="normal" font-family="'Liberation Sans',Arial,sans-serif" >$</text>
<text x="1743.0" y="1086.4" font-size="9.2" fill="#f2f2f2" text-anchor="end" font-weight="bold" font-style="normal" font-family="'Liberation Sans',Arial,sans-serif" >1,648.53</text>
<text x="1752.0" y="1086.4" font-size="9.5" fill="#ddd" text-anchor="start" font-weight="normal" font-style="normal" font-family="'Liberation Sans',Arial,sans-serif" >$</text>
<text x="1812.0" y="1086.4" font-size="9.2" fill="#f2f2f2" text-anchor="end" font-weight="bold" font-style="normal" font-family="'Liberation Sans',Arial,sans-serif" >1,700.00</text>
<text x="1821.0" y="1086.4" font-size="9.5" fill="#ddd" text-anchor="start" font-weight="normal" font-style="normal" font-family="'Liberation Sans',Arial,sans-serif" >$</text>
<text x="1881.5" y="1086.4" font-size="9.2" fill="#f2f2f2" text-anchor="end" font-weight="bold" font-style="normal" font-family="'Liberation Sans',Arial,sans-serif" >1,680.00</text>
<text x="1890.5" y="1086.4" font-size="9.5" fill="#ddd" text-anchor="start" font-weight="normal" font-style="normal" font-family="'Liberation Sans',Arial,sans-serif" >$</text>
<text x="1952.0" y="1086.4" font-size="9.2" fill="#f2f2f2" text-anchor="end" font-weight="bold" font-style="normal" font-family="'Liberation Sans',Arial,sans-serif" >9,718.47</text>
<rect x="1409" y="1091.7" width="545" height="1" fill="#3a3a3a"/>
<text x="1471.0" y="1105.6" font-size="9.3" fill="#f2f2f2" text-anchor="middle" font-weight="bold" font-style="normal" font-family="'Liberation Sans',Arial,sans-serif" >Dec 2025</text>
<text x="1540.5" y="1105.6" font-size="9.5" fill="#ddd" text-anchor="start" font-weight="normal" font-style="normal" font-family="'Liberation Sans',Arial,sans-serif" >$</text>
<text x="1601.0" y="1105.6" font-size="9.2" fill="#f2f2f2" text-anchor="end" font-weight="bold" font-style="normal" font-family="'Liberation Sans',Arial,sans-serif" >18,820.00</text>
<text x="1610.0" y="1105.6" font-size="9.5" fill="#ddd" text-anchor="start" font-weight="normal" font-style="normal" font-family="'Liberation Sans',Arial,sans-serif" >$</text>
<text x="1672.5" y="1105.6" font-size="9.2" fill="#f2f2f2" text-anchor="end" font-weight="bold" font-style="normal" font-family="'Liberation Sans',Arial,sans-serif" >5,083.00</text>
<text x="1681.5" y="1105.6" font-size="9.5" fill="#ddd" text-anchor="start" font-weight="normal" font-style="normal" font-family="'Liberation Sans',Arial,sans-serif" >$</text>
<text x="1743.0" y="1105.6" font-size="9.2" fill="#f2f2f2" text-anchor="end" font-weight="bold" font-style="normal" font-family="'Liberation Sans',Arial,sans-serif" >2,124.25</text>
<text x="1752.0" y="1105.6" font-size="9.5" fill="#ddd" text-anchor="start" font-weight="normal" font-style="normal" font-family="'Liberation Sans',Arial,sans-serif" >$</text>
<text x="1812.0" y="1105.6" font-size="9.2" fill="#f2f2f2" text-anchor="end" font-weight="bold" font-style="normal" font-family="'Liberation Sans',Arial,sans-serif" >1,850.00</text>
<text x="1821.0" y="1105.6" font-size="9.5" fill="#ddd" text-anchor="start" font-weight="normal" font-style="normal" font-family="'Liberation Sans',Arial,sans-serif" >$</text>
<text x="1881.5" y="1105.6" font-size="9.2" fill="#f2f2f2" text-anchor="end" font-weight="bold" font-style="normal" font-family="'Liberation Sans',Arial,sans-serif" >750.00</text>
<text x="1890.5" y="1105.6" font-size="9.5" fill="#ddd" text-anchor="start" font-weight="normal" font-style="normal" font-family="'Liberation Sans',Arial,sans-serif" >$</text>
<text x="1952.0" y="1105.6" font-size="9.2" fill="#f2f2f2" text-anchor="end" font-weight="bold" font-style="normal" font-family="'Liberation Sans',Arial,sans-serif" >9,212.75</text>
<rect x="1409" y="1110.9" width="545" height="1" fill="#3a3a3a"/>
<text x="1471.0" y="1124.8" font-size="9.3" fill="#f2f2f2" text-anchor="middle" font-weight="bold" font-style="normal" font-family="'Liberation Sans',Arial,sans-serif" >Jan 2026</text>
<text x="1540.5" y="1124.8" font-size="9.5" fill="#ddd" text-anchor="start" font-weight="normal" font-style="normal" font-family="'Liberation Sans',Arial,sans-serif" >$</text>
<text x="1601.0" y="1124.8" font-size="9.2" fill="#f2f2f2" text-anchor="end" font-weight="bold" font-style="normal" font-family="'Liberation Sans',Arial,sans-serif" >24,135.00</text>
<text x="1610.0" y="1124.8" font-size="9.5" fill="#ddd" text-anchor="start" font-weight="normal" font-style="normal" font-family="'Liberation Sans',Arial,sans-serif" >$</text>
<text x="1672.5" y="1124.8" font-size="9.2" fill="#f2f2f2" text-anchor="end" font-weight="bold" font-style="normal" font-family="'Liberation Sans',Arial,sans-serif" >7,883.00</text>
<text x="1681.5" y="1124.8" font-size="9.5" fill="#ddd" text-anchor="start" font-weight="normal" font-style="normal" font-family="'Liberation Sans',Arial,sans-serif" >$</text>
<text x="1743.0" y="1124.8" font-size="9.2" fill="#f2f2f2" text-anchor="end" font-weight="bold" font-style="normal" font-family="'Liberation Sans',Arial,sans-serif" >1,776.28</text>
<text x="1752.0" y="1124.8" font-size="9.5" fill="#ddd" text-anchor="start" font-weight="normal" font-style="normal" font-family="'Liberation Sans',Arial,sans-serif" >$</text>
<text x="1812.0" y="1124.8" font-size="9.2" fill="#f2f2f2" text-anchor="end" font-weight="bold" font-style="normal" font-family="'Liberation Sans',Arial,sans-serif" >3,290.00</text>
<text x="1821.0" y="1124.8" font-size="9.5" fill="#ddd" text-anchor="start" font-weight="normal" font-style="normal" font-family="'Liberation Sans',Arial,sans-serif" >$</text>
<text x="1881.5" y="1124.8" font-size="9.2" fill="#f2f2f2" text-anchor="end" font-weight="bold" font-style="normal" font-family="'Liberation Sans',Arial,sans-serif" >1,520.00</text>
<text x="1890.5" y="1124.8" font-size="9.5" fill="#ddd" text-anchor="start" font-weight="normal" font-style="normal" font-family="'Liberation Sans',Arial,sans-serif" >$</text>
<text x="1952.0" y="1124.8" font-size="9.2" fill="#f2f2f2" text-anchor="end" font-weight="bold" font-style="normal" font-family="'Liberation Sans',Arial,sans-serif" >9,865.72</text>
<rect x="1409" y="1130.1" width="545" height="1" fill="#3a3a3a"/>
<text x="1471.0" y="1144.0" font-size="9.3" fill="#f2f2f2" text-anchor="middle" font-weight="bold" font-style="normal" font-family="'Liberation Sans',Arial,sans-serif" >Feb 2026</text>
<text x="1540.5" y="1144.0" font-size="9.5" fill="#ddd" text-anchor="start" font-weight="normal" font-style="normal" font-family="'Liberation Sans',Arial,sans-serif" >$</text>
<text x="1601.0" y="1144.0" font-size="9.2" fill="#f2f2f2" text-anchor="end" font-weight="bold" font-style="normal" font-family="'Liberation Sans',Arial,sans-serif" >17,515.00</text>
<text x="1610.0" y="1144.0" font-size="9.5" fill="#ddd" text-anchor="start" font-weight="normal" font-style="normal" font-family="'Liberation Sans',Arial,sans-serif" >$</text>
<text x="1672.5" y="1144.0" font-size="9.2" fill="#f2f2f2" text-anchor="end" font-weight="bold" font-style="normal" font-family="'Liberation Sans',Arial,sans-serif" >5,083.00</text>
<text x="1681.5" y="1144.0" font-size="9.5" fill="#ddd" text-anchor="start" font-weight="normal" font-style="normal" font-family="'Liberation Sans',Arial,sans-serif" >$</text>
<text x="1743.0" y="1144.0" font-size="9.2" fill="#f2f2f2" text-anchor="end" font-weight="bold" font-style="normal" font-family="'Liberation Sans',Arial,sans-serif" >1,177.73</text>
<text x="1752.0" y="1144.0" font-size="9.5" fill="#ddd" text-anchor="start" font-weight="normal" font-style="normal" font-family="'Liberation Sans',Arial,sans-serif" >$</text>
<text x="1812.0" y="1144.0" font-size="9.2" fill="#f2f2f2" text-anchor="end" font-weight="bold" font-style="normal" font-family="'Liberation Sans',Arial,sans-serif" >2,025.00</text>
<text x="1821.0" y="1144.0" font-size="9.5" fill="#ddd" text-anchor="start" font-weight="normal" font-style="normal" font-family="'Liberation Sans',Arial,sans-serif" >$</text>
<text x="1881.5" y="1144.0" font-size="9.2" fill="#f2f2f2" text-anchor="end" font-weight="bold" font-style="normal" font-family="'Liberation Sans',Arial,sans-serif" >2,025.00</text>
<text x="1890.5" y="1144.0" font-size="9.5" fill="#ddd" text-anchor="start" font-weight="normal" font-style="normal" font-family="'Liberation Sans',Arial,sans-serif" >$</text>
<text x="1952.0" y="1144.0" font-size="9.2" fill="#f2f2f2" text-anchor="end" font-weight="bold" font-style="normal" font-family="'Liberation Sans',Arial,sans-serif" >7,404.27</text>
<rect x="1409" y="1149.3" width="545" height="1" fill="#3a3a3a"/>
<text x="1471.0" y="1163.2" font-size="9.3" fill="#f2f2f2" text-anchor="middle" font-weight="bold" font-style="normal" font-family="'Liberation Sans',Arial,sans-serif" >Mar 2026</text>
<text x="1540.5" y="1163.2" font-size="9.5" fill="#ddd" text-anchor="start" font-weight="normal" font-style="normal" font-family="'Liberation Sans',Arial,sans-serif" >$</text>
<text x="1601.0" y="1163.2" font-size="9.2" fill="#f2f2f2" text-anchor="end" font-weight="bold" font-style="normal" font-family="'Liberation Sans',Arial,sans-serif" >16,540.00</text>
<text x="1610.0" y="1163.2" font-size="9.5" fill="#ddd" text-anchor="start" font-weight="normal" font-style="normal" font-family="'Liberation Sans',Arial,sans-serif" >$</text>
<text x="1672.5" y="1163.2" font-size="9.2" fill="#f2f2f2" text-anchor="end" font-weight="bold" font-style="normal" font-family="'Liberation Sans',Arial,sans-serif" >4,833.00</text>
<text x="1681.5" y="1163.2" font-size="9.5" fill="#ddd" text-anchor="start" font-weight="normal" font-style="normal" font-family="'Liberation Sans',Arial,sans-serif" >$</text>
<text x="1743.0" y="1163.2" font-size="9.2" fill="#f2f2f2" text-anchor="end" font-weight="bold" font-style="normal" font-family="'Liberation Sans',Arial,sans-serif" >1,378.65</text>
<text x="1752.0" y="1163.2" font-size="9.5" fill="#ddd" text-anchor="start" font-weight="normal" font-style="normal" font-family="'Liberation Sans',Arial,sans-serif" >$</text>
<text x="1812.0" y="1163.2" font-size="9.2" fill="#f2f2f2" text-anchor="end" font-weight="bold" font-style="normal" font-family="'Liberation Sans',Arial,sans-serif" >3,115.00</text>
<text x="1821.0" y="1163.2" font-size="9.5" fill="#ddd" text-anchor="start" font-weight="normal" font-style="normal" font-family="'Liberation Sans',Arial,sans-serif" >$</text>
<text x="1881.5" y="1163.2" font-size="9.2" fill="#f2f2f2" text-anchor="end" font-weight="bold" font-style="normal" font-family="'Liberation Sans',Arial,sans-serif" >1,365.00</text>
<text x="1890.5" y="1163.2" font-size="9.5" fill="#ddd" text-anchor="start" font-weight="normal" font-style="normal" font-family="'Liberation Sans',Arial,sans-serif" >$</text>
<text x="1952.0" y="1163.2" font-size="9.2" fill="#f2f2f2" text-anchor="end" font-weight="bold" font-style="normal" font-family="'Liberation Sans',Arial,sans-serif" >6,048.35</text>
<rect x="1409" y="1168.5" width="545" height="1" fill="#3a3a3a"/>
<text x="1471.0" y="1182.4" font-size="9.3" fill="#f2f2f2" text-anchor="middle" font-weight="bold" font-style="normal" font-family="'Liberation Sans',Arial,sans-serif" >Apr 2026</text>
<text x="1540.5" y="1182.4" font-size="9.5" fill="#ddd" text-anchor="start" font-weight="normal" font-style="normal" font-family="'Liberation Sans',Arial,sans-serif" >$</text>
<text x="1601.0" y="1182.4" font-size="9.2" fill="#f2f2f2" text-anchor="end" font-weight="bold" font-style="normal" font-family="'Liberation Sans',Arial,sans-serif" >17,050.00</text>
<text x="1610.0" y="1182.4" font-size="9.5" fill="#ddd" text-anchor="start" font-weight="normal" font-style="normal" font-family="'Liberation Sans',Arial,sans-serif" >$</text>
<text x="1672.5" y="1182.4" font-size="9.2" fill="#f2f2f2" text-anchor="end" font-weight="bold" font-style="normal" font-family="'Liberation Sans',Arial,sans-serif" >8,033.00</text>
<text x="1681.5" y="1182.4" font-size="9.5" fill="#ddd" text-anchor="start" font-weight="normal" font-style="normal" font-family="'Liberation Sans',Arial,sans-serif" >$</text>
<text x="1743.0" y="1182.4" font-size="9.2" fill="#f2f2f2" text-anchor="end" font-weight="bold" font-style="normal" font-family="'Liberation Sans',Arial,sans-serif" >1,765.49</text>
<text x="1752.0" y="1182.4" font-size="9.5" fill="#ddd" text-anchor="start" font-weight="normal" font-style="normal" font-family="'Liberation Sans',Arial,sans-serif" >$</text>
<text x="1812.0" y="1182.4" font-size="9.2" fill="#f2f2f2" text-anchor="end" font-weight="bold" font-style="normal" font-family="'Liberation Sans',Arial,sans-serif" >3,295.00</text>
<text x="1821.0" y="1182.4" font-size="9.5" fill="#ddd" text-anchor="start" font-weight="normal" font-style="normal" font-family="'Liberation Sans',Arial,sans-serif" >$</text>
<text x="1881.5" y="1182.4" font-size="9.2" fill="#f2f2f2" text-anchor="end" font-weight="bold" font-style="normal" font-family="'Liberation Sans',Arial,sans-serif" >1,075.00</text>
<text x="1890.5" y="1182.4" font-size="9.5" fill="#ddd" text-anchor="start" font-weight="normal" font-style="normal" font-family="'Liberation Sans',Arial,sans-serif" >$</text>
<text x="1952.0" y="1182.4" font-size="9.2" fill="#f2f2f2" text-anchor="end" font-weight="bold" font-style="normal" font-family="'Liberation Sans',Arial,sans-serif" >3,081.51</text>
<rect x="1409" y="1187.7" width="545" height="1" fill="#3a3a3a"/>
<text x="1471.0" y="1201.6" font-size="9.3" fill="#f2f2f2" text-anchor="middle" font-weight="bold" font-style="normal" font-family="'Liberation Sans',Arial,sans-serif" >May 2026</text>
<text x="1540.5" y="1201.6" font-size="9.5" fill="#ddd" text-anchor="start" font-weight="normal" font-style="normal" font-family="'Liberation Sans',Arial,sans-serif" >$</text>
<text x="1601.0" y="1201.6" font-size="9.2" fill="#f2f2f2" text-anchor="end" font-weight="bold" font-style="normal" font-family="'Liberation Sans',Arial,sans-serif" >17,520.00</text>
<text x="1610.0" y="1201.6" font-size="9.5" fill="#ddd" text-anchor="start" font-weight="normal" font-style="normal" font-family="'Liberation Sans',Arial,sans-serif" >$</text>
<text x="1672.5" y="1201.6" font-size="9.2" fill="#f2f2f2" text-anchor="end" font-weight="bold" font-style="normal" font-family="'Liberation Sans',Arial,sans-serif" >4,833.00</text>
<text x="1681.5" y="1201.6" font-size="9.5" fill="#ddd" text-anchor="start" font-weight="normal" font-style="normal" font-family="'Liberation Sans',Arial,sans-serif" >$</text>
<text x="1743.0" y="1201.6" font-size="9.2" fill="#f2f2f2" text-anchor="end" font-weight="bold" font-style="normal" font-family="'Liberation Sans',Arial,sans-serif" >2,139.55</text>
<text x="1752.0" y="1201.6" font-size="9.5" fill="#ddd" text-anchor="start" font-weight="normal" font-style="normal" font-family="'Liberation Sans',Arial,sans-serif" >$</text>
<text x="1812.0" y="1201.6" font-size="9.2" fill="#f2f2f2" text-anchor="end" font-weight="bold" font-style="normal" font-family="'Liberation Sans',Arial,sans-serif" >1,700.00</text>
<text x="1821.0" y="1201.6" font-size="9.5" fill="#ddd" text-anchor="start" font-weight="normal" font-style="normal" font-family="'Liberation Sans',Arial,sans-serif" >$</text>
<text x="1881.5" y="1201.6" font-size="9.2" fill="#f2f2f2" text-anchor="end" font-weight="bold" font-style="normal" font-family="'Liberation Sans',Arial,sans-serif" >2,220.00</text>
<text x="1890.5" y="1201.6" font-size="9.5" fill="#ddd" text-anchor="start" font-weight="normal" font-style="normal" font-family="'Liberation Sans',Arial,sans-serif" >$</text>
<text x="1952.0" y="1201.6" font-size="9.2" fill="#f2f2f2" text-anchor="end" font-weight="bold" font-style="normal" font-family="'Liberation Sans',Arial,sans-serif" >6,627.45</text>
<rect x="1409" y="1206.9" width="545" height="1" fill="#3a3a3a"/>
<text x="1471.0" y="1220.8" font-size="9.3" fill="#f2f2f2" text-anchor="middle" font-weight="bold" font-style="normal" font-family="'Liberation Sans',Arial,sans-serif" >Jun 2026</text>
<text x="1540.5" y="1220.8" font-size="9.5" fill="#ddd" text-anchor="start" font-weight="normal" font-style="normal" font-family="'Liberation Sans',Arial,sans-serif" >$</text>
<text x="1601.0" y="1220.8" font-size="9.2" fill="#f2f2f2" text-anchor="end" font-weight="bold" font-style="normal" font-family="'Liberation Sans',Arial,sans-serif" >11,030.00</text>
<text x="1610.0" y="1220.8" font-size="9.5" fill="#ddd" text-anchor="start" font-weight="normal" font-style="normal" font-family="'Liberation Sans',Arial,sans-serif" >$</text>
<text x="1672.5" y="1220.8" font-size="9.2" fill="#f2f2f2" text-anchor="end" font-weight="bold" font-style="normal" font-family="'Liberation Sans',Arial,sans-serif" >3,815.00</text>
<text x="1681.5" y="1220.8" font-size="9.5" fill="#ddd" text-anchor="start" font-weight="normal" font-style="normal" font-family="'Liberation Sans',Arial,sans-serif" >$</text>
<text x="1743.0" y="1220.8" font-size="9.2" fill="#f2f2f2" text-anchor="end" font-weight="bold" font-style="normal" font-family="'Liberation Sans',Arial,sans-serif" >991.87</text>
<text x="1752.0" y="1220.8" font-size="9.5" fill="#ddd" text-anchor="start" font-weight="normal" font-style="normal" font-family="'Liberation Sans',Arial,sans-serif" >$</text>
<text x="1812.0" y="1220.8" font-size="9.2" fill="#f2f2f2" text-anchor="end" font-weight="bold" font-style="normal" font-family="'Liberation Sans',Arial,sans-serif" >1,880.00</text>
<text x="1821.0" y="1220.8" font-size="9.5" fill="#ddd" text-anchor="start" font-weight="normal" font-style="normal" font-family="'Liberation Sans',Arial,sans-serif" >$</text>
<text x="1881.5" y="1220.8" font-size="9.2" fill="#f2f2f2" text-anchor="end" font-weight="bold" font-style="normal" font-family="'Liberation Sans',Arial,sans-serif" >525.00</text>
<text x="1890.5" y="1220.8" font-size="9.5" fill="#ddd" text-anchor="start" font-weight="normal" font-style="normal" font-family="'Liberation Sans',Arial,sans-serif" >$</text>
<text x="1952.0" y="1220.8" font-size="9.2" fill="#f2f2f2" text-anchor="end" font-weight="bold" font-style="normal" font-family="'Liberation Sans',Arial,sans-serif" >3,818.13</text>
<rect x="1409" y="1226.1" width="545" height="1" fill="#3a3a3a"/>
<rect x="1533.0" y="996.5" width="1" height="230.39999999999998" fill="#3a3a3a"/>
<rect x="1602.5" y="996.5" width="1" height="230.39999999999998" fill="#3a3a3a"/>
<rect x="1674.0" y="996.5" width="1" height="230.39999999999998" fill="#3a3a3a"/>
<rect x="1744.5" y="996.5" width="1" height="230.39999999999998" fill="#3a3a3a"/>
<rect x="1813.5" y="996.5" width="1" height="230.39999999999998" fill="#3a3a3a"/>
<rect x="1883.0" y="996.5" width="1" height="230.39999999999998" fill="#3a3a3a"/>
<rect x="1409" y="1226.4" width="545" height="18" fill="#f487bd"/>
<rect x="1409" y="1244.8" width="545" height="18.5" fill="#5ecfd6"/>
<text x="1471.0" y="1239.0" font-size="10" fill="#6a2048" text-anchor="middle" font-weight="bold" font-style="italic" font-family="'Liberation Serif',serif" >annual total</text>
<text x="1540.5" y="1239.0" font-size="10" fill="#6a2048" text-anchor="start" font-weight="bold" font-style="italic" font-family="'Liberation Serif',serif" >$</text>
<text x="1601.0" y="1239.0" font-size="10" fill="#6a2048" text-anchor="end" font-weight="bold" font-style="italic" font-family="'Liberation Serif',serif" >198,850.0</text>
<text x="1610.0" y="1239.0" font-size="10" fill="#6a2048" text-anchor="start" font-weight="bold" font-style="italic" font-family="'Liberation Serif',serif" >$</text>
<text x="1672.5" y="1239.0" font-size="10" fill="#6a2048" text-anchor="end" font-weight="bold" font-style="italic" font-family="'Liberation Serif',serif" >56,844.00</text>
<text x="1681.5" y="1239.0" font-size="10" fill="#6a2048" text-anchor="start" font-weight="bold" font-style="italic" font-family="'Liberation Serif',serif" >$</text>
<text x="1743.0" y="1239.0" font-size="10" fill="#6a2048" text-anchor="end" font-weight="bold" font-style="italic" font-family="'Liberation Serif',serif" >21,460.66</text>
<text x="1752.0" y="1239.0" font-size="10" fill="#6a2048" text-anchor="start" font-weight="bold" font-style="italic" font-family="'Liberation Serif',serif" >$</text>
<text x="1812.0" y="1239.0" font-size="10" fill="#6a2048" text-anchor="end" font-weight="bold" font-style="italic" font-family="'Liberation Serif',serif" >28,405.00</text>
<text x="1821.0" y="1239.0" font-size="10" fill="#6a2048" text-anchor="start" font-weight="bold" font-style="italic" font-family="'Liberation Serif',serif" >$</text>
<text x="1881.5" y="1239.0" font-size="10" fill="#6a2048" text-anchor="end" font-weight="bold" font-style="italic" font-family="'Liberation Serif',serif" >17,965.00</text>
<text x="1918.8" y="1239.0" font-size="10" fill="#6a2048" text-anchor="middle" font-weight="normal" font-style="italic" font-family="'Liberation Serif',serif" >-</text>
<text x="1471.0" y="1257.5" font-size="10" fill="#1c4a4e" text-anchor="middle" font-weight="bold" font-style="italic" font-family="'Liberation Serif',serif" >monthly average</text>
<text x="1540.5" y="1257.5" font-size="10" fill="#1c4a4e" text-anchor="start" font-weight="bold" font-style="italic" font-family="'Liberation Serif',serif" >$</text>
<text x="1601.0" y="1257.5" font-size="10" fill="#1c4a4e" text-anchor="end" font-weight="bold" font-style="italic" font-family="'Liberation Serif',serif" >16,570.83</text>
<text x="1610.0" y="1257.5" font-size="10" fill="#1c4a4e" text-anchor="start" font-weight="bold" font-style="italic" font-family="'Liberation Serif',serif" >$</text>
<text x="1672.5" y="1257.5" font-size="10" fill="#1c4a4e" text-anchor="end" font-weight="bold" font-style="italic" font-family="'Liberation Serif',serif" >4,737.00</text>
<text x="1681.5" y="1257.5" font-size="10" fill="#1c4a4e" text-anchor="start" font-weight="bold" font-style="italic" font-family="'Liberation Serif',serif" >$</text>
<text x="1743.0" y="1257.5" font-size="10" fill="#1c4a4e" text-anchor="end" font-weight="bold" font-style="italic" font-family="'Liberation Serif',serif" >1,788.39</text>
<text x="1752.0" y="1257.5" font-size="10" fill="#1c4a4e" text-anchor="start" font-weight="bold" font-style="italic" font-family="'Liberation Serif',serif" >$</text>
<text x="1812.0" y="1257.5" font-size="10" fill="#1c4a4e" text-anchor="end" font-weight="bold" font-style="italic" font-family="'Liberation Serif',serif" >2,367.08</text>
<text x="1821.0" y="1257.5" font-size="10" fill="#1c4a4e" text-anchor="start" font-weight="bold" font-style="italic" font-family="'Liberation Serif',serif" >$</text>
<text x="1881.5" y="1257.5" font-size="10" fill="#1c4a4e" text-anchor="end" font-weight="bold" font-style="italic" font-family="'Liberation Serif',serif" >1,497.08</text>
<text x="1918.8" y="1257.5" font-size="10" fill="#1c4a4e" text-anchor="middle" font-weight="normal" font-style="italic" font-family="'Liberation Serif',serif" >-</text>
<rect x="1969.7" y="937" width="545" height="326" fill="#263a3f"/>
<text x="2028.0" y="970.5" font-size="9.5" fill="#fff" text-anchor="start" font-weight="bold" font-style="normal" font-family="'Liberation Sans',Arial,sans-serif" letter-spacing="3" >MONTHLY OVERVIEW</text>
<rect x="2305" y="956" width="157" height="21" fill="#5ecfd6"/>
<rect x="2374" y="956" width="87" height="21" fill="#8c9698"/>
<rect x="2383" y="959" width="71" height="15" rx="7.5" fill="#1f7a5e"/>
<text x="2340.0" y="970.5" font-size="8" fill="#1d3a3e" text-anchor="middle" font-weight="normal" font-style="normal" font-family="'Liberation Sans',Arial,sans-serif" >VIEW:</text>
<text x="2412.0" y="970.5" font-size="8" fill="#c9f2a8" text-anchor="middle" font-weight="normal" font-style="normal" font-family="'Liberation Sans',Arial,sans-serif" >INCOME</text>
<text x="2446.0" y="970.0" font-size="7" fill="#c9f2a8" text-anchor="middle" font-weight="normal" font-style="normal" font-family="'Liberation Sans',Arial,sans-serif" >▾</text>
<text x="2024.0" y="1011.0" font-size="8" fill="#fff" text-anchor="end" font-weight="normal" font-style="italic" font-family="'Liberation Sans',Arial,sans-serif" >25000</text>
<text x="2024.0" y="1048.5" font-size="8" fill="#fff" text-anchor="end" font-weight="normal" font-style="italic" font-family="'Liberation Sans',Arial,sans-serif" >20000</text>
<text x="2024.0" y="1086.0" font-size="8" fill="#fff" text-anchor="end" font-weight="normal" font-style="italic" font-family="'Liberation Sans',Arial,sans-serif" >15000</text>
<text x="2024.0" y="1124.0" font-size="8" fill="#fff" text-anchor="end" font-weight="normal" font-style="italic" font-family="'Liberation Sans',Arial,sans-serif" >10000</text>
<text x="2024.0" y="1162.0" font-size="8" fill="#fff" text-anchor="end" font-weight="normal" font-style="italic" font-family="'Liberation Sans',Arial,sans-serif" >5000</text>
<text x="2024.0" y="1199.6" font-size="8" fill="#fff" text-anchor="end" font-weight="normal" font-style="italic" font-family="'Liberation Sans',Arial,sans-serif" >0</text>
<rect x="2040.8" y="1029" width="23.6" height="167.6" fill="#f487bd"/>
<text x="2052.6" y="1038.0" font-size="6.5" fill="#7a2a55" text-anchor="middle" font-weight="normal" font-style="italic" font-family="'Liberation Sans',Arial,sans-serif" >22280</text>
<text x="2054.8" y="1205.0" font-size="7.5" fill="#fff" text-anchor="end" font-weight="normal" font-style="italic" font-family="'Liberation Sans',Arial,sans-serif" transform="rotate(-38 2054.8 1205)">Jul 2025</text>
<rect x="2076" y="1028" width="23.6" height="168.6" fill="#f487bd"/>
<text x="2087.8" y="1037.0" font-size="6.5" fill="#7a2a55" text-anchor="middle" font-weight="normal" font-style="italic" font-family="'Liberation Sans',Arial,sans-serif" >22400</text>
<text x="2090.0" y="1205.0" font-size="7.5" fill="#fff" text-anchor="end" font-weight="normal" font-style="italic" font-family="'Liberation Sans',Arial,sans-serif" transform="rotate(-38 2090 1205)">Aug 2025</text>
<rect x="2111.5" y="1144.5" width="23.6" height="52.1" fill="#f487bd"/>
<text x="2123.3" y="1153.5" font-size="6.5" fill="#7a2a55" text-anchor="middle" font-weight="normal" font-style="italic" font-family="'Liberation Sans',Arial,sans-serif" >6900</text>
<text x="2125.5" y="1205.0" font-size="7.5" fill="#fff" text-anchor="end" font-weight="normal" font-style="italic" font-family="'Liberation Sans',Arial,sans-serif" transform="rotate(-38 2125.5 1205)">Sep 2025</text>
<rect x="2146" y="1156.5" width="23.6" height="40.1" fill="#f487bd"/>
<text x="2157.8" y="1165.5" font-size="6.5" fill="#7a2a55" text-anchor="middle" font-weight="normal" font-style="italic" font-family="'Liberation Sans',Arial,sans-serif" >5230</text>
<text x="2160.0" y="1205.0" font-size="7.5" fill="#fff" text-anchor="end" font-weight="normal" font-style="italic" font-family="'Liberation Sans',Arial,sans-serif" transform="rotate(-38 2160 1205)">Oct 2025</text>
<rect x="2181.5" y="1050" width="23.6" height="146.6" fill="#f487bd"/>
<text x="2193.3" y="1059.0" font-size="6.5" fill="#7a2a55" text-anchor="middle" font-weight="normal" font-style="italic" font-family="'Liberation Sans',Arial,sans-serif" >19430</text>
<text x="2195.5" y="1205.0" font-size="7.5" fill="#fff" text-anchor="end" font-weight="normal" font-style="italic" font-family="'Liberation Sans',Arial,sans-serif" transform="rotate(-38 2195.5 1205)">Nov 2025</text>
<rect x="2216" y="1054" width="23.6" height="142.6" fill="#f487bd"/>
<text x="2227.8" y="1063.0" font-size="6.5" fill="#7a2a55" text-anchor="middle" font-weight="normal" font-style="italic" font-family="'Liberation Sans',Arial,sans-serif" >18820</text>
<text x="2230.0" y="1205.0" font-size="7.5" fill="#fff" text-anchor="end" font-weight="normal" font-style="italic" font-family="'Liberation Sans',Arial,sans-serif" transform="rotate(-38 2230 1205)">Dec 2025</text>
<rect x="2252" y="1014" width="23.6" height="182.6" fill="#f487bd"/>
<text x="2263.8" y="1023.0" font-size="6.5" fill="#7a2a55" text-anchor="middle" font-weight="normal" font-style="italic" font-family="'Liberation Sans',Arial,sans-serif" >24135</text>
<text x="2266.0" y="1205.0" font-size="7.5" fill="#fff" text-anchor="end" font-weight="normal" font-style="italic" font-family="'Liberation Sans',Arial,sans-serif" transform="rotate(-38 2266 1205)">Jan 2026</text>
<rect x="2287" y="1064.5" width="23.6" height="132.1" fill="#f487bd"/>
<text x="2298.8" y="1073.5" font-size="6.5" fill="#7a2a55" text-anchor="middle" font-weight="normal" font-style="italic" font-family="'Liberation Sans',Arial,sans-serif" >17515</text>
<text x="2301.0" y="1205.0" font-size="7.5" fill="#fff" text-anchor="end" font-weight="normal" font-style="italic" font-family="'Liberation Sans',Arial,sans-serif" transform="rotate(-38 2301 1205)">Feb 2026</text>
<rect x="2322" y="1071.6" width="23.6" height="125.0" fill="#f487bd"/>
<text x="2333.8" y="1080.6" font-size="6.5" fill="#7a2a55" text-anchor="middle" font-weight="normal" font-style="italic" font-family="'Liberation Sans',Arial,sans-serif" >16540</text>
<text x="2336.0" y="1205.0" font-size="7.5" fill="#fff" text-anchor="end" font-weight="normal" font-style="italic" font-family="'Liberation Sans',Arial,sans-serif" transform="rotate(-38 2336 1205)">Mar 2026</text>
<rect x="2357" y="1067" width="23.6" height="129.6" fill="#f487bd"/>
<text x="2368.8" y="1076.0" font-size="6.5" fill="#7a2a55" text-anchor="middle" font-weight="normal" font-style="italic" font-family="'Liberation Sans',Arial,sans-serif" >17050</text>
<text x="2371.0" y="1205.0" font-size="7.5" fill="#fff" text-anchor="end" font-weight="normal" font-style="italic" font-family="'Liberation Sans',Arial,sans-serif" transform="rotate(-38 2371 1205)">Apr 2026</text>
<rect x="2392" y="1064.5" width="23.6" height="132.1" fill="#f487bd"/>
<text x="2403.8" y="1073.5" font-size="6.5" fill="#7a2a55" text-anchor="middle" font-weight="normal" font-style="italic" font-family="'Liberation Sans',Arial,sans-serif" >17520</text>
<text x="2406.0" y="1205.0" font-size="7.5" fill="#fff" text-anchor="end" font-weight="normal" font-style="italic" font-family="'Liberation Sans',Arial,sans-serif" transform="rotate(-38 2406 1205)">May 2026</text>
<rect x="2427" y="1113" width="23.6" height="83.6" fill="#f487bd"/>
<text x="2438.8" y="1122.0" font-size="6.5" fill="#7a2a55" text-anchor="middle" font-weight="normal" font-style="italic" font-family="'Liberation Sans',Arial,sans-serif" >11030</text>
<text x="2441.0" y="1205.0" font-size="7.5" fill="#fff" text-anchor="end" font-weight="normal" font-style="italic" font-family="'Liberation Sans',Arial,sans-serif" transform="rotate(-38 2441 1205)">Jun 2026</text>
<line x1="2028" y1="1065" x2="2462" y2="1078" stroke="#b9c2c2" stroke-width="2"/>
<rect x="1409" y="1301" width="1106" height="96" fill="#263a3f"/>
<path d="M2021 1322 L2027 1322 L2024 1326 Z" fill="#0a0a0a"/>
<text x="1542.0" y="1334.0" font-size="9" fill="#fff" text-anchor="middle" font-weight="bold" font-style="normal" font-family="'Liberation Sans',Arial,sans-serif" >LEFT TO SPEND</text>
<text x="1542.0" y="1366.5" font-size="18.5" fill="#fbbf45" text-anchor="middle" font-weight="bold" font-style="italic" font-family="'Liberation Serif',serif" >$74,175.34</text>
<text x="1752.0" y="1334.0" font-size="9" fill="#fff" text-anchor="middle" font-weight="bold" font-style="normal" font-family="'Liberation Sans',Arial,sans-serif" >TOTAL INCOME</text>
<text x="1752.0" y="1366.5" font-size="18.5" fill="#43b9a0" text-anchor="middle" font-weight="bold" font-style="italic" font-family="'Liberation Serif',serif" >$198,850.00</text>
<text x="1963.0" y="1334.0" font-size="9" fill="#fff" text-anchor="middle" font-weight="bold" font-style="normal" font-family="'Liberation Sans',Arial,sans-serif" >TOTAL SPENDING</text>
<text x="1963.0" y="1366.5" font-size="18.5" fill="#f487bd" text-anchor="middle" font-weight="bold" font-style="italic" font-family="'Liberation Serif',serif" >$124,674.66</text>
<text x="2165.5" y="1334.0" font-size="9" fill="#fff" text-anchor="middle" font-weight="bold" font-style="normal" font-family="'Liberation Sans',Arial,sans-serif" >TOTAL SAVED</text>
<text x="2165.5" y="1366.5" font-size="18.5" fill="#5ecfd6" text-anchor="middle" font-weight="bold" font-style="italic" font-family="'Liberation Serif',serif" >$17,965.00</text>
<text x="2383.5" y="1334.0" font-size="9" fill="#fff" text-anchor="middle" font-weight="bold" font-style="normal" font-family="'Liberation Sans',Arial,sans-serif" >TOTAL DEBT PAID</text>
<text x="2383.5" y="1366.5" font-size="18.5" fill="#7b8cf0" text-anchor="middle" font-weight="bold" font-style="italic" font-family="'Liberation Serif',serif" >$28,405.00</text>
<g><text x="1955.0" y="1441.0" font-size="9.5" fill="#f2f2f2" text-anchor="middle" font-weight="bold" font-style="normal" font-family="'Liberation Sans',Arial,sans-serif" letter-spacing="3.7" >INCOME MONTH BY MONTH</text><rect x="1533.5" y="1455.5" width="69.5" height="1000" fill="#24695e"/><rect x="1603.5" y="1455.5" width="70.5" height="1000" fill="#263a3f"/><text x="1471.2" y="1470.0" font-size="11.5" fill="#3fb898" text-anchor="middle" font-weight="normal" font-style="italic" font-family="'Liberation Serif',serif" >category</text><text x="1568.2" y="1470.0" font-size="11.5" fill="#fff" text-anchor="middle" font-weight="normal" font-style="italic" font-family="'Liberation Serif',serif" >total</text><text x="1638.8" y="1470.0" font-size="11.5" fill="#3fb898" text-anchor="middle" font-weight="normal" font-style="italic" font-family="'Liberation Serif',serif" >average</text><text x="1709.5" y="1470.0" font-size="11.5" fill="#3fb898" text-anchor="middle" font-weight="normal" font-style="italic" font-family="'Liberation Serif',serif" >July</text><text x="1779.6" y="1470.0" font-size="11.5" fill="#3fb898" text-anchor="middle" font-weight="normal" font-style="italic" font-family="'Liberation Serif',serif" >August</text><text x="1849.7" y="1470.0" font-size="11.5" fill="#3fb898" text-anchor="middle" font-weight="normal" font-style="italic" font-family="'Liberation Serif',serif" >September</text><text x="1919.8" y="1470.0" font-size="11.5" fill="#3fb898" text-anchor="middle" font-weight="normal" font-style="italic" font-family="'Liberation Serif',serif" >October</text><text x="1989.9" y="1470.0" font-size="11.5" fill="#3fb898" text-anchor="middle" font-weight="normal" font-style="italic" font-family="'Liberation Serif',serif" >November</text><text x="2059.9" y="1470.0" font-size="11.5" fill="#3fb898" text-anchor="middle" font-weight="normal" font-style="italic" font-family="'Liberation Serif',serif" >December</text><text x="2130.0" y="1470.0" font-size="11.5" fill="#3fb898" text-anchor="middle" font-weight="normal" font-style="italic" font-family="'Liberation Serif',serif" >January</text><text x="2200.1" y="1470.0" font-size="11.5" fill="#3fb898" text-anchor="middle" font-weight="normal" font-style="italic" font-family="'Liberation Serif',serif" >February</text><text x="2270.2" y="1470.0" font-size="11.5" fill="#3fb898" text-anchor="middle" font-weight="normal" font-style="italic" font-family="'Liberation Serif',serif" >March</text><text x="2340.3" y="1470.0" font-size="11.5" fill="#3fb898" text-anchor="middle" font-weight="normal" font-style="italic" font-family="'Liberation Serif',serif" >April</text><text x="2410.3" y="1470.0" font-size="11.5" fill="#3fb898" text-anchor="middle" font-weight="normal" font-style="italic" font-family="'Liberation Serif',serif" >May</text><text x="2480.4" y="1470.0" font-size="11.5" fill="#3fb898" text-anchor="middle" font-weight="normal" font-style="italic" font-family="'Liberation Serif',serif" >June</text><rect x="1409" y="1475" width="1106" height="2" fill="#3fb898"/><text x="1413.0" y="1488.6" font-size="8.8" fill="#f2f2f2" text-anchor="start" font-weight="bold" font-style="normal" font-family="'Liberation Sans',Arial,sans-serif" >John Salary</text><text x="1539.5" y="1488.6" font-size="9.5" fill="#ddd" text-anchor="start" font-weight="normal" font-style="normal" font-family="'Liberation Sans',Arial,sans-serif" >$</text><text x="1601.0" y="1488.6" font-size="9" fill="#f2f2f2" text-anchor="end" font-weight="bold" font-style="normal" font-family="'Liberation Sans',Arial,sans-serif" >114,000.00</text><text x="1609.0" y="1488.6" font-size="9.5" fill="#ddd" text-anchor="start" font-weight="normal" font-style="normal" font-family="'Liberation Sans',Arial,sans-serif" >$</text><text x="1672.5" y="1488.6" font-size="9" fill="#f2f2f2" text-anchor="end" font-weight="bold" font-style="normal" font-family="'Liberation Sans',Arial,sans-serif" >9,500.00</text><text x="1680.5" y="1488.6" font-size="9.5" fill="#ddd" text-anchor="start" font-weight="normal" font-style="normal" font-family="'Liberation Sans',Arial,sans-serif" >$</text><text x="1742.6" y="1488.6" font-size="9" fill="#f2f2f2" text-anchor="end" font-weight="bold" font-style="normal" font-family="'Liberation Sans',Arial,sans-serif" >12,000.00</text><text x="1750.6" y="1488.6" font-size="9.5" fill="#ddd" text-anchor="start" font-weight="normal" font-style="normal" font-family="'Liberation Sans',Arial,sans-serif" >$</text><text x="1812.7" y="1488.6" font-size="9" fill="#f2f2f2" text-anchor="end" font-weight="bold" font-style="normal" font-family="'Liberation Sans',Arial,sans-serif" >15,000.00</text><text x="1820.7" y="1488.6" font-size="9.5" fill="#ddd" text-anchor="start" font-weight="normal" font-style="normal" font-family="'Liberation Sans',Arial,sans-serif" >$</text><text x="1882.7" y="1488.6" font-size="9" fill="#f2f2f2" text-anchor="end" font-weight="bold" font-style="normal" font-family="'Liberation Sans',Arial,sans-serif" >0.00</text><text x="1890.7" y="1488.6" font-size="9.5" fill="#ddd" text-anchor="start" font-weight="normal" font-style="normal" font-family="'Liberation Sans',Arial,sans-serif" >$</text><text x="1952.8" y="1488.6" font-size="9" fill="#f2f2f2" text-anchor="end" font-weight="bold" font-style="normal" font-family="'Liberation Sans',Arial,sans-serif" >5,000.00</text><text x="1960.8" y="1488.6" font-size="9.5" fill="#ddd" text-anchor="start" font-weight="normal" font-style="normal" font-family="'Liberation Sans',Arial,sans-serif" >$</text><text x="2022.9" y="1488.6" font-size="9" fill="#f2f2f2" text-anchor="end" font-weight="bold" font-style="normal" font-family="'Liberation Sans',Arial,sans-serif" >10,000.00</text><text x="2030.9" y="1488.6" font-size="9.5" fill="#ddd" text-anchor="start" font-weight="normal" font-style="normal" font-family="'Liberation Sans',Arial,sans-serif" >$</text><text x="2093.0" y="1488.6" font-size="9" fill="#f2f2f2" text-anchor="end" font-weight="bold" font-style="normal" font-family="'Liberation Sans',Arial,sans-serif" >10,000.00</text><text x="2101.0" y="1488.6" font-size="9.5" fill="#ddd" text-anchor="start" font-weight="normal" font-style="normal" font-family="'Liberation Sans',Arial,sans-serif" >$</text><text x="2163.1" y="1488.6" font-size="9" fill="#f2f2f2" text-anchor="end" font-weight="bold" font-style="normal" font-family="'Liberation Sans',Arial,sans-serif" >17,000.00</text><text x="2171.1" y="1488.6" font-size="9.5" fill="#ddd" text-anchor="start" font-weight="normal" font-style="normal" font-family="'Liberation Sans',Arial,sans-serif" >$</text><text x="2233.1" y="1488.6" font-size="9" fill="#f2f2f2" text-anchor="end" font-weight="bold" font-style="normal" font-family="'Liberation Sans',Arial,sans-serif" >10,000.00</text><text x="2241.1" y="1488.6" font-size="9.5" fill="#ddd" text-anchor="start" font-weight="normal" font-style="normal" font-family="'Liberation Sans',Arial,sans-serif" >$</text><text x="2303.2" y="1488.6" font-size="9" fill="#f2f2f2" text-anchor="end" font-weight="bold" font-style="normal" font-family="'Liberation Sans',Arial,sans-serif" >10,000.00</text><text x="2311.2" y="1488.6" font-size="9.5" fill="#ddd" text-anchor="start" font-weight="normal" font-style="normal" font-family="'Liberation Sans',Arial,sans-serif" >$</text><text x="2373.3" y="1488.6" font-size="9" fill="#f2f2f2" text-anchor="end" font-weight="bold" font-style="normal" font-family="'Liberation Sans',Arial,sans-serif" >10,000.00</text><text x="2381.3" y="1488.6" font-size="9.5" fill="#ddd" text-anchor="start" font-weight="normal" font-style="normal" font-family="'Liberation Sans',Arial,sans-serif" >$</text><text x="2443.4" y="1488.6" font-size="9" fill="#f2f2f2" text-anchor="end" font-weight="bold" font-style="normal" font-family="'Liberation Sans',Arial,sans-serif" >10,000.00</text><text x="2451.4" y="1488.6" font-size="9.5" fill="#ddd" text-anchor="start" font-weight="normal" font-style="normal" font-family="'Liberation Sans',Arial,sans-serif" >$</text><text x="2513.5" y="1488.6" font-size="9" fill="#f2f2f2" text-anchor="end" font-weight="bold" font-style="normal" font-family="'Liberation Sans',Arial,sans-serif" >5,000.00</text><rect x="1409" y="1494.0" width="1106" height="1.2" fill="#353131"/><rect x="1534.5" y="1494.0" width="67.5" height="1.2" fill="#7fb3a6"/><text x="1413.0" y="1507.8" font-size="8.8" fill="#f2f2f2" text-anchor="start" font-weight="bold" font-style="normal" font-family="'Liberation Sans',Arial,sans-serif" >Sarah Salary</text><text x="1539.5" y="1507.8" font-size="9.5" fill="#ddd" text-anchor="start" font-weight="normal" font-style="normal" font-family="'Liberation Sans',Arial,sans-serif" >$</text><text x="1601.0" y="1507.8" font-size="9" fill="#f2f2f2" text-anchor="end" font-weight="bold" font-style="normal" font-family="'Liberation Sans',Arial,sans-serif" >53,500.00</text><text x="1609.0" y="1507.8" font-size="9.5" fill="#ddd" text-anchor="start" font-weight="normal" font-style="normal" font-family="'Liberation Sans',Arial,sans-serif" >$</text><text x="1672.5" y="1507.8" font-size="9" fill="#f2f2f2" text-anchor="end" font-weight="bold" font-style="normal" font-family="'Liberation Sans',Arial,sans-serif" >4,458.33</text><text x="1680.5" y="1507.8" font-size="9.5" fill="#ddd" text-anchor="start" font-weight="normal" font-style="normal" font-family="'Liberation Sans',Arial,sans-serif" >$</text><text x="1742.6" y="1507.8" font-size="9" fill="#f2f2f2" text-anchor="end" font-weight="bold" font-style="normal" font-family="'Liberation Sans',Arial,sans-serif" >4,500.00</text><text x="1750.6" y="1507.8" font-size="9.5" fill="#ddd" text-anchor="start" font-weight="normal" font-style="normal" font-family="'Liberation Sans',Arial,sans-serif" >$</text><text x="1812.7" y="1507.8" font-size="9" fill="#f2f2f2" text-anchor="end" font-weight="bold" font-style="normal" font-family="'Liberation Sans',Arial,sans-serif" >5,500.00</text><text x="1820.7" y="1507.8" font-size="9.5" fill="#ddd" text-anchor="start" font-weight="normal" font-style="normal" font-family="'Liberation Sans',Arial,sans-serif" >$</text><text x="1882.7" y="1507.8" font-size="9" fill="#f2f2f2" text-anchor="end" font-weight="bold" font-style="normal" font-family="'Liberation Sans',Arial,sans-serif" >4,500.00</text><text x="1890.7" y="1507.8" font-size="9.5" fill="#ddd" text-anchor="start" font-weight="normal" font-style="normal" font-family="'Liberation Sans',Arial,sans-serif" >$</text><text x="1952.8" y="1507.8" font-size="9" fill="#f2f2f2" text-anchor="end" font-weight="bold" font-style="normal" font-family="'Liberation Sans',Arial,sans-serif" >0.00</text><text x="1960.8" y="1507.8" font-size="9.5" fill="#ddd" text-anchor="start" font-weight="normal" font-style="normal" font-family="'Liberation Sans',Arial,sans-serif" >$</text><text x="2022.9" y="1507.8" font-size="9" fill="#f2f2f2" text-anchor="end" font-weight="bold" font-style="normal" font-family="'Liberation Sans',Arial,sans-serif" >5,500.00</text><text x="2030.9" y="1507.8" font-size="9.5" fill="#ddd" text-anchor="start" font-weight="normal" font-style="normal" font-family="'Liberation Sans',Arial,sans-serif" >$</text><text x="2093.0" y="1507.8" font-size="9" fill="#f2f2f2" text-anchor="end" font-weight="bold" font-style="normal" font-family="'Liberation Sans',Arial,sans-serif" >4,500.00</text><text x="2101.0" y="1507.8" font-size="9.5" fill="#ddd" text-anchor="start" font-weight="normal" font-style="normal" font-family="'Liberation Sans',Arial,sans-serif" >$</text><text x="2163.1" y="1507.8" font-size="9" fill="#f2f2f2" text-anchor="end" font-weight="bold" font-style="normal" font-family="'Liberation Sans',Arial,sans-serif" >4,500.00</text><text x="2171.1" y="1507.8" font-size="9.5" fill="#ddd" text-anchor="start" font-weight="normal" font-style="normal" font-family="'Liberation Sans',Arial,sans-serif" >$</text><text x="2233.1" y="1507.8" font-size="9" fill="#f2f2f2" text-anchor="end" font-weight="bold" font-style="normal" font-family="'Liberation Sans',Arial,sans-serif" >5,500.00</text><text x="2241.1" y="1507.8" font-size="9.5" fill="#ddd" text-anchor="start" font-weight="normal" font-style="normal" font-family="'Liberation Sans',Arial,sans-serif" >$</text><text x="2303.2" y="1507.8" font-size="9" fill="#f2f2f2" text-anchor="end" font-weight="bold" font-style="normal" font-family="'Liberation Sans',Arial,sans-serif" >4,500.00</text><text x="2311.2" y="1507.8" font-size="9.5" fill="#ddd" text-anchor="start" font-weight="normal" font-style="normal" font-family="'Liberation Sans',Arial,sans-serif" >$</text><text x="2373.3" y="1507.8" font-size="9" fill="#f2f2f2" text-anchor="end" font-weight="bold" font-style="normal" font-family="'Liberation Sans',Arial,sans-serif" >4,500.00</text><text x="2381.3" y="1507.8" font-size="9.5" fill="#ddd" text-anchor="start" font-weight="normal" font-style="normal" font-family="'Liberation Sans',Arial,sans-serif" >$</text><text x="2443.4" y="1507.8" font-size="9" fill="#f2f2f2" text-anchor="end" font-weight="bold" font-style="normal" font-family="'Liberation Sans',Arial,sans-serif" >5,500.00</text><text x="2451.4" y="1507.8" font-size="9.5" fill="#ddd" text-anchor="start" font-weight="normal" font-style="normal" font-family="'Liberation Sans',Arial,sans-serif" >$</text><text x="2513.5" y="1507.8" font-size="9" fill="#f2f2f2" text-anchor="end" font-weight="bold" font-style="normal" font-family="'Liberation Sans',Arial,sans-serif" >4,500.00</text><rect x="1409" y="1513.2" width="1106" height="1.2" fill="#353131"/><rect x="1534.5" y="1513.2" width="67.5" height="1.2" fill="#7fb3a6"/><text x="1413.0" y="1527.1" font-size="8.8" fill="#f2f2f2" text-anchor="start" font-weight="bold" font-style="normal" font-family="'Liberation Sans',Arial,sans-serif" >Sarah Freelance Income</text><text x="1539.5" y="1527.1" font-size="9.5" fill="#ddd" text-anchor="start" font-weight="normal" font-style="normal" font-family="'Liberation Sans',Arial,sans-serif" >$</text><text x="1601.0" y="1527.1" font-size="9" fill="#f2f2f2" text-anchor="end" font-weight="bold" font-style="normal" font-family="'Liberation Sans',Arial,sans-serif" >6,485.00</text><text x="1609.0" y="1527.1" font-size="9.5" fill="#ddd" text-anchor="start" font-weight="normal" font-style="normal" font-family="'Liberation Sans',Arial,sans-serif" >$</text><text x="1672.5" y="1527.1" font-size="9" fill="#f2f2f2" text-anchor="end" font-weight="bold" font-style="normal" font-family="'Liberation Sans',Arial,sans-serif" >540.42</text><text x="1680.5" y="1527.1" font-size="9.5" fill="#ddd" text-anchor="start" font-weight="normal" font-style="normal" font-family="'Liberation Sans',Arial,sans-serif" >$</text><text x="1742.6" y="1527.1" font-size="9" fill="#f2f2f2" text-anchor="end" font-weight="bold" font-style="normal" font-family="'Liberation Sans',Arial,sans-serif" >3,080.00</text><text x="1750.6" y="1527.1" font-size="9.5" fill="#ddd" text-anchor="start" font-weight="normal" font-style="normal" font-family="'Liberation Sans',Arial,sans-serif" >$</text><text x="1812.7" y="1527.1" font-size="9" fill="#f2f2f2" text-anchor="end" font-weight="bold" font-style="normal" font-family="'Liberation Sans',Arial,sans-serif" >0.00</text><text x="1820.7" y="1527.1" font-size="9.5" fill="#ddd" text-anchor="start" font-weight="normal" font-style="normal" font-family="'Liberation Sans',Arial,sans-serif" >$</text><text x="1882.7" y="1527.1" font-size="9" fill="#f2f2f2" text-anchor="end" font-weight="bold" font-style="normal" font-family="'Liberation Sans',Arial,sans-serif" >0.00</text><text x="1890.7" y="1527.1" font-size="9.5" fill="#ddd" text-anchor="start" font-weight="normal" font-style="normal" font-family="'Liberation Sans',Arial,sans-serif" >$</text><text x="1952.8" y="1527.1" font-size="9" fill="#f2f2f2" text-anchor="end" font-weight="bold" font-style="normal" font-family="'Liberation Sans',Arial,sans-serif" >130.00</text><text x="1960.8" y="1527.1" font-size="9.5" fill="#ddd" text-anchor="start" font-weight="normal" font-style="normal" font-family="'Liberation Sans',Arial,sans-serif" >$</text><text x="2022.9" y="1527.1" font-size="9" fill="#f2f2f2" text-anchor="end" font-weight="bold" font-style="normal" font-family="'Liberation Sans',Arial,sans-serif" >980.00</text><text x="2030.9" y="1527.1" font-size="9.5" fill="#ddd" text-anchor="start" font-weight="normal" font-style="normal" font-family="'Liberation Sans',Arial,sans-serif" >$</text><text x="2093.0" y="1527.1" font-size="9" fill="#f2f2f2" text-anchor="end" font-weight="bold" font-style="normal" font-family="'Liberation Sans',Arial,sans-serif" >620.00</text><text x="2101.0" y="1527.1" font-size="9.5" fill="#ddd" text-anchor="start" font-weight="normal" font-style="normal" font-family="'Liberation Sans',Arial,sans-serif" >$</text><text x="2163.1" y="1527.1" font-size="9" fill="#f2f2f2" text-anchor="end" font-weight="bold" font-style="normal" font-family="'Liberation Sans',Arial,sans-serif" >1,135.00</text><text x="2171.1" y="1527.1" font-size="9.5" fill="#ddd" text-anchor="start" font-weight="normal" font-style="normal" font-family="'Liberation Sans',Arial,sans-serif" >$</text><text x="2233.1" y="1527.1" font-size="9" fill="#f2f2f2" text-anchor="end" font-weight="bold" font-style="normal" font-family="'Liberation Sans',Arial,sans-serif" >0.00</text><text x="2241.1" y="1527.1" font-size="9.5" fill="#ddd" text-anchor="start" font-weight="normal" font-style="normal" font-family="'Liberation Sans',Arial,sans-serif" >$</text><text x="2303.2" y="1527.1" font-size="9" fill="#f2f2f2" text-anchor="end" font-weight="bold" font-style="normal" font-family="'Liberation Sans',Arial,sans-serif" >540.00</text><text x="2311.2" y="1527.1" font-size="9.5" fill="#ddd" text-anchor="start" font-weight="normal" font-style="normal" font-family="'Liberation Sans',Arial,sans-serif" >$</text><text x="2373.3" y="1527.1" font-size="9" fill="#f2f2f2" text-anchor="end" font-weight="bold" font-style="normal" font-family="'Liberation Sans',Arial,sans-serif" >0.00</text><text x="2381.3" y="1527.1" font-size="9.5" fill="#ddd" text-anchor="start" font-weight="normal" font-style="normal" font-family="'Liberation Sans',Arial,sans-serif" >$</text><text x="2443.4" y="1527.1" font-size="9" fill="#f2f2f2" text-anchor="end" font-weight="bold" font-style="normal" font-family="'Liberation Sans',Arial,sans-serif" >0.00</text><text x="2451.4" y="1527.1" font-size="9.5" fill="#ddd" text-anchor="start" font-weight="normal" font-style="normal" font-family="'Liberation Sans',Arial,sans-serif" >$</text><text x="2513.5" y="1527.1" font-size="9" fill="#f2f2f2" text-anchor="end" font-weight="bold" font-style="normal" font-family="'Liberation Sans',Arial,sans-serif" >0.00</text><rect x="1409" y="1532.5" width="1106" height="1.2" fill="#353131"/><rect x="1534.5" y="1532.5" width="67.5" height="1.2" fill="#7fb3a6"/><text x="1413.0" y="1546.3" font-size="8.8" fill="#f2f2f2" text-anchor="start" font-weight="bold" font-style="normal" font-family="'Liberation Sans',Arial,sans-serif" >Emily Part-Time Job</text><text x="1539.5" y="1546.3" font-size="9.5" fill="#ddd" text-anchor="start" font-weight="normal" font-style="normal" font-family="'Liberation Sans',Arial,sans-serif" >$</text><text x="1601.0" y="1546.3" font-size="9" fill="#f2f2f2" text-anchor="end" font-weight="bold" font-style="normal" font-family="'Liberation Sans',Arial,sans-serif" >3,300.00</text><text x="1609.0" y="1546.3" font-size="9.5" fill="#ddd" text-anchor="start" font-weight="normal" font-style="normal" font-family="'Liberation Sans',Arial,sans-serif" >$</text><text x="1672.5" y="1546.3" font-size="9" fill="#f2f2f2" text-anchor="end" font-weight="bold" font-style="normal" font-family="'Liberation Sans',Arial,sans-serif" >275.00</text><text x="1680.5" y="1546.3" font-size="9.5" fill="#ddd" text-anchor="start" font-weight="normal" font-style="normal" font-family="'Liberation Sans',Arial,sans-serif" >$</text><text x="1742.6" y="1546.3" font-size="9" fill="#f2f2f2" text-anchor="end" font-weight="bold" font-style="normal" font-family="'Liberation Sans',Arial,sans-serif" >600.00</text><text x="1750.6" y="1546.3" font-size="9.5" fill="#ddd" text-anchor="start" font-weight="normal" font-style="normal" font-family="'Liberation Sans',Arial,sans-serif" >$</text><text x="1812.7" y="1546.3" font-size="9" fill="#f2f2f2" text-anchor="end" font-weight="bold" font-style="normal" font-family="'Liberation Sans',Arial,sans-serif" >400.00</text><text x="1820.7" y="1546.3" font-size="9.5" fill="#ddd" text-anchor="start" font-weight="normal" font-style="normal" font-family="'Liberation Sans',Arial,sans-serif" >$</text><text x="1882.7" y="1546.3" font-size="9" fill="#f2f2f2" text-anchor="end" font-weight="bold" font-style="normal" font-family="'Liberation Sans',Arial,sans-serif" >400.00</text><text x="1890.7" y="1546.3" font-size="9.5" fill="#ddd" text-anchor="start" font-weight="normal" font-style="normal" font-family="'Liberation Sans',Arial,sans-serif" >$</text><text x="1952.8" y="1546.3" font-size="9" fill="#f2f2f2" text-anchor="end" font-weight="bold" font-style="normal" font-family="'Liberation Sans',Arial,sans-serif" >100.00</text><text x="1960.8" y="1546.3" font-size="9.5" fill="#ddd" text-anchor="start" font-weight="normal" font-style="normal" font-family="'Liberation Sans',Arial,sans-serif" >$</text><text x="2022.9" y="1546.3" font-size="9" fill="#f2f2f2" text-anchor="end" font-weight="bold" font-style="normal" font-family="'Liberation Sans',Arial,sans-serif" >800.00</text><text x="2030.9" y="1546.3" font-size="9.5" fill="#ddd" text-anchor="start" font-weight="normal" font-style="normal" font-family="'Liberation Sans',Arial,sans-serif" >$</text><text x="2093.0" y="1546.3" font-size="9" fill="#f2f2f2" text-anchor="end" font-weight="bold" font-style="normal" font-family="'Liberation Sans',Arial,sans-serif" >1,000.00</text><text x="2101.0" y="1546.3" font-size="9.5" fill="#ddd" text-anchor="start" font-weight="normal" font-style="normal" font-family="'Liberation Sans',Arial,sans-serif" >$</text><text x="2163.1" y="1546.3" font-size="9" fill="#f2f2f2" text-anchor="end" font-weight="bold" font-style="normal" font-family="'Liberation Sans',Arial,sans-serif" >0.00</text><text x="2171.1" y="1546.3" font-size="9.5" fill="#ddd" text-anchor="start" font-weight="normal" font-style="normal" font-family="'Liberation Sans',Arial,sans-serif" >$</text><text x="2233.1" y="1546.3" font-size="9" fill="#f2f2f2" text-anchor="end" font-weight="bold" font-style="normal" font-family="'Liberation Sans',Arial,sans-serif" >0.00</text><text x="2241.1" y="1546.3" font-size="9.5" fill="#ddd" text-anchor="start" font-weight="normal" font-style="normal" font-family="'Liberation Sans',Arial,sans-serif" >$</text><text x="2303.2" y="1546.3" font-size="9" fill="#f2f2f2" text-anchor="end" font-weight="bold" font-style="normal" font-family="'Liberation Sans',Arial,sans-serif" >0.00</text><text x="2311.2" y="1546.3" font-size="9.5" fill="#ddd" text-anchor="start" font-weight="normal" font-style="normal" font-family="'Liberation Sans',Arial,sans-serif" >$</text><text x="2373.3" y="1546.3" font-size="9" fill="#f2f2f2" text-anchor="end" font-weight="bold" font-style="normal" font-family="'Liberation Sans',Arial,sans-serif" >0.00</text><text x="2381.3" y="1546.3" font-size="9.5" fill="#ddd" text-anchor="start" font-weight="normal" font-style="normal" font-family="'Liberation Sans',Arial,sans-serif" >$</text><text x="2443.4" y="1546.3" font-size="9" fill="#f2f2f2" text-anchor="end" font-weight="bold" font-style="normal" font-family="'Liberation Sans',Arial,sans-serif" >0.00</text><text x="2451.4" y="1546.3" font-size="9.5" fill="#ddd" text-anchor="start" font-weight="normal" font-style="normal" font-family="'Liberation Sans',Arial,sans-serif" >$</text><text x="2513.5" y="1546.3" font-size="9" fill="#f2f2f2" text-anchor="end" font-weight="bold" font-style="normal" font-family="'Liberation Sans',Arial,sans-serif" >0.00</text><rect x="1409" y="1551.7" width="1106" height="1.2" fill="#353131"/><rect x="1534.5" y="1551.7" width="67.5" height="1.2" fill="#7fb3a6"/><text x="1413.0" y="1565.6" font-size="8.8" fill="#f2f2f2" text-anchor="start" font-weight="bold" font-style="normal" font-family="'Liberation Sans',Arial,sans-serif" >Rental Income</text><text x="1539.5" y="1565.6" font-size="9.5" fill="#ddd" text-anchor="start" font-weight="normal" font-style="normal" font-family="'Liberation Sans',Arial,sans-serif" >$</text><text x="1601.0" y="1565.6" font-size="9" fill="#f2f2f2" text-anchor="end" font-weight="bold" font-style="normal" font-family="'Liberation Sans',Arial,sans-serif" >17,000.00</text><text x="1609.0" y="1565.6" font-size="9.5" fill="#ddd" text-anchor="start" font-weight="normal" font-style="normal" font-family="'Liberation Sans',Arial,sans-serif" >$</text><text x="1672.5" y="1565.6" font-size="9" fill="#f2f2f2" text-anchor="end" font-weight="bold" font-style="normal" font-family="'Liberation Sans',Arial,sans-serif" >1,416.67</text><text x="1680.5" y="1565.6" font-size="9.5" fill="#ddd" text-anchor="start" font-weight="normal" font-style="normal" font-family="'Liberation Sans',Arial,sans-serif" >$</text><text x="1742.6" y="1565.6" font-size="9" fill="#f2f2f2" text-anchor="end" font-weight="bold" font-style="normal" font-family="'Liberation Sans',Arial,sans-serif" >1,500.00</text><text x="1750.6" y="1565.6" font-size="9.5" fill="#ddd" text-anchor="start" font-weight="normal" font-style="normal" font-family="'Liberation Sans',Arial,sans-serif" >$</text><text x="1812.7" y="1565.6" font-size="9" fill="#f2f2f2" text-anchor="end" font-weight="bold" font-style="normal" font-family="'Liberation Sans',Arial,sans-serif" >1,500.00</text><text x="1820.7" y="1565.6" font-size="9.5" fill="#ddd" text-anchor="start" font-weight="normal" font-style="normal" font-family="'Liberation Sans',Arial,sans-serif" >$</text><text x="1882.7" y="1565.6" font-size="9" fill="#f2f2f2" text-anchor="end" font-weight="bold" font-style="normal" font-family="'Liberation Sans',Arial,sans-serif" >2,000.00</text><text x="1890.7" y="1565.6" font-size="9.5" fill="#ddd" text-anchor="start" font-weight="normal" font-style="normal" font-family="'Liberation Sans',Arial,sans-serif" >$</text><text x="1952.8" y="1565.6" font-size="9" fill="#f2f2f2" text-anchor="end" font-weight="bold" font-style="normal" font-family="'Liberation Sans',Arial,sans-serif" >0.00</text><text x="1960.8" y="1565.6" font-size="9.5" fill="#ddd" text-anchor="start" font-weight="normal" font-style="normal" font-family="'Liberation Sans',Arial,sans-serif" >$</text><text x="2022.9" y="1565.6" font-size="9" fill="#f2f2f2" text-anchor="end" font-weight="bold" font-style="normal" font-family="'Liberation Sans',Arial,sans-serif" >1,500.00</text><text x="2030.9" y="1565.6" font-size="9.5" fill="#ddd" text-anchor="start" font-weight="normal" font-style="normal" font-family="'Liberation Sans',Arial,sans-serif" >$</text><text x="2093.0" y="1565.6" font-size="9" fill="#f2f2f2" text-anchor="end" font-weight="bold" font-style="normal" font-family="'Liberation Sans',Arial,sans-serif" >1,500.00</text><text x="2101.0" y="1565.6" font-size="9.5" fill="#ddd" text-anchor="start" font-weight="normal" font-style="normal" font-family="'Liberation Sans',Arial,sans-serif" >$</text><text x="2163.1" y="1565.6" font-size="9" fill="#f2f2f2" text-anchor="end" font-weight="bold" font-style="normal" font-family="'Liberation Sans',Arial,sans-serif" >1,500.00</text><text x="2171.1" y="1565.6" font-size="9.5" fill="#ddd" text-anchor="start" font-weight="normal" font-style="normal" font-family="'Liberation Sans',Arial,sans-serif" >$</text><text x="2233.1" y="1565.6" font-size="9" fill="#f2f2f2" text-anchor="end" font-weight="bold" font-style="normal" font-family="'Liberation Sans',Arial,sans-serif" >1,500.00</text><text x="2241.1" y="1565.6" font-size="9.5" fill="#ddd" text-anchor="start" font-weight="normal" font-style="normal" font-family="'Liberation Sans',Arial,sans-serif" >$</text><text x="2303.2" y="1565.6" font-size="9" fill="#f2f2f2" text-anchor="end" font-weight="bold" font-style="normal" font-family="'Liberation Sans',Arial,sans-serif" >1,500.00</text><text x="2311.2" y="1565.6" font-size="9.5" fill="#ddd" text-anchor="start" font-weight="normal" font-style="normal" font-family="'Liberation Sans',Arial,sans-serif" >$</text><text x="2373.3" y="1565.6" font-size="9" fill="#f2f2f2" text-anchor="end" font-weight="bold" font-style="normal" font-family="'Liberation Sans',Arial,sans-serif" >1,500.00</text><text x="2381.3" y="1565.6" font-size="9.5" fill="#ddd" text-anchor="start" font-weight="normal" font-style="normal" font-family="'Liberation Sans',Arial,sans-serif" >$</text><text x="2443.4" y="1565.6" font-size="9" fill="#f2f2f2" text-anchor="end" font-weight="bold" font-style="normal" font-family="'Liberation Sans',Arial,sans-serif" >1,500.00</text><text x="2451.4" y="1565.6" font-size="9.5" fill="#ddd" text-anchor="start" font-weight="normal" font-style="normal" font-family="'Liberation Sans',Arial,sans-serif" >$</text><text x="2513.5" y="1565.6" font-size="9" fill="#f2f2f2" text-anchor="end" font-weight="bold" font-style="normal" font-family="'Liberation Sans',Arial,sans-serif" >1,500.00</text><rect x="1409" y="1571.0" width="1106" height="1.2" fill="#353131"/><rect x="1534.5" y="1571.0" width="67.5" height="1.2" fill="#7fb3a6"/><text x="1413.0" y="1584.8" font-size="8.8" fill="#f2f2f2" text-anchor="start" font-weight="bold" font-style="normal" font-family="'Liberation Sans',Arial,sans-serif" >Tax Refund</text><text x="1539.5" y="1584.8" font-size="9.5" fill="#ddd" text-anchor="start" font-weight="normal" font-style="normal" font-family="'Liberation Sans',Arial,sans-serif" >$</text><text x="1601.0" y="1584.8" font-size="9" fill="#f2f2f2" text-anchor="end" font-weight="bold" font-style="normal" font-family="'Liberation Sans',Arial,sans-serif" >650.00</text><text x="1609.0" y="1584.8" font-size="9.5" fill="#ddd" text-anchor="start" font-weight="normal" font-style="normal" font-family="'Liberation Sans',Arial,sans-serif" >$</text><text x="1672.5" y="1584.8" font-size="9" fill="#f2f2f2" text-anchor="end" font-weight="bold" font-style="normal" font-family="'Liberation Sans',Arial,sans-serif" >54.17</text><text x="1680.5" y="1584.8" font-size="9.5" fill="#ddd" text-anchor="start" font-weight="normal" font-style="normal" font-family="'Liberation Sans',Arial,sans-serif" >$</text><text x="1742.6" y="1584.8" font-size="9" fill="#f2f2f2" text-anchor="end" font-weight="bold" font-style="normal" font-family="'Liberation Sans',Arial,sans-serif" >0.00</text><text x="1750.6" y="1584.8" font-size="9.5" fill="#ddd" text-anchor="start" font-weight="normal" font-style="normal" font-family="'Liberation Sans',Arial,sans-serif" >$</text><text x="1812.7" y="1584.8" font-size="9" fill="#f2f2f2" text-anchor="end" font-weight="bold" font-style="normal" font-family="'Liberation Sans',Arial,sans-serif" >0.00</text><text x="1820.7" y="1584.8" font-size="9.5" fill="#ddd" text-anchor="start" font-weight="normal" font-style="normal" font-family="'Liberation Sans',Arial,sans-serif" >$</text><text x="1882.7" y="1584.8" font-size="9" fill="#f2f2f2" text-anchor="end" font-weight="bold" font-style="normal" font-family="'Liberation Sans',Arial,sans-serif" >0.00</text><text x="1890.7" y="1584.8" font-size="9.5" fill="#ddd" text-anchor="start" font-weight="normal" font-style="normal" font-family="'Liberation Sans',Arial,sans-serif" >$</text><text x="1952.8" y="1584.8" font-size="9" fill="#f2f2f2" text-anchor="end" font-weight="bold" font-style="normal" font-family="'Liberation Sans',Arial,sans-serif" >0.00</text><text x="1960.8" y="1584.8" font-size="9.5" fill="#ddd" text-anchor="start" font-weight="normal" font-style="normal" font-family="'Liberation Sans',Arial,sans-serif" >$</text><text x="2022.9" y="1584.8" font-size="9" fill="#f2f2f2" text-anchor="end" font-weight="bold" font-style="normal" font-family="'Liberation Sans',Arial,sans-serif" >650.00</text><text x="2030.9" y="1584.8" font-size="9.5" fill="#ddd" text-anchor="start" font-weight="normal" font-style="normal" font-family="'Liberation Sans',Arial,sans-serif" >$</text><text x="2093.0" y="1584.8" font-size="9" fill="#f2f2f2" text-anchor="end" font-weight="bold" font-style="normal" font-family="'Liberation Sans',Arial,sans-serif" >0.00</text><text x="2101.0" y="1584.8" font-size="9.5" fill="#ddd" text-anchor="start" font-weight="normal" font-style="normal" font-family="'Liberation Sans',Arial,sans-serif" >$</text><text x="2163.1" y="1584.8" font-size="9" fill="#f2f2f2" text-anchor="end" font-weight="bold" font-style="normal" font-family="'Liberation Sans',Arial,sans-serif" >0.00</text><text x="2171.1" y="1584.8" font-size="9.5" fill="#ddd" text-anchor="start" font-weight="normal" font-style="normal" font-family="'Liberation Sans',Arial,sans-serif" >$</text><text x="2233.1" y="1584.8" font-size="9" fill="#f2f2f2" text-anchor="end" font-weight="bold" font-style="normal" font-family="'Liberation Sans',Arial,sans-serif" >0.00</text><text x="2241.1" y="1584.8" font-size="9.5" fill="#ddd" text-anchor="start" font-weight="normal" font-style="normal" font-family="'Liberation Sans',Arial,sans-serif" >$</text><text x="2303.2" y="1584.8" font-size="9" fill="#f2f2f2" text-anchor="end" font-weight="bold" font-style="normal" font-family="'Liberation Sans',Arial,sans-serif" >0.00</text><text x="2311.2" y="1584.8" font-size="9.5" fill="#ddd" text-anchor="start" font-weight="normal" font-style="normal" font-family="'Liberation Sans',Arial,sans-serif" >$</text><text x="2373.3" y="1584.8" font-size="9" fill="#f2f2f2" text-anchor="end" font-weight="bold" font-style="normal" font-family="'Liberation Sans',Arial,sans-serif" >0.00</text><text x="2381.3" y="1584.8" font-size="9.5" fill="#ddd" text-anchor="start" font-weight="normal" font-style="normal" font-family="'Liberation Sans',Arial,sans-serif" >$</text><text x="2443.4" y="1584.8" font-size="9" fill="#f2f2f2" text-anchor="end" font-weight="bold" font-style="normal" font-family="'Liberation Sans',Arial,sans-serif" >0.00</text><text x="2451.4" y="1584.8" font-size="9.5" fill="#ddd" text-anchor="start" font-weight="normal" font-style="normal" font-family="'Liberation Sans',Arial,sans-serif" >$</text><text x="2513.5" y="1584.8" font-size="9" fill="#f2f2f2" text-anchor="end" font-weight="bold" font-style="normal" font-family="'Liberation Sans',Arial,sans-serif" >0.00</text><rect x="1409" y="1590.2" width="1106" height="1.2" fill="#353131"/><rect x="1534.5" y="1590.2" width="67.5" height="1.2" fill="#7fb3a6"/><text x="1413.0" y="1604.1" font-size="8.8" fill="#f2f2f2" text-anchor="start" font-weight="bold" font-style="normal" font-family="'Liberation Sans',Arial,sans-serif" >Child Tax Credit</text><text x="1539.5" y="1604.1" font-size="9.5" fill="#ddd" text-anchor="start" font-weight="normal" font-style="normal" font-family="'Liberation Sans',Arial,sans-serif" >$</text><text x="1601.0" y="1604.1" font-size="9" fill="#f2f2f2" text-anchor="end" font-weight="bold" font-style="normal" font-family="'Liberation Sans',Arial,sans-serif" >1,200.00</text><text x="1609.0" y="1604.1" font-size="9.5" fill="#ddd" text-anchor="start" font-weight="normal" font-style="normal" font-family="'Liberation Sans',Arial,sans-serif" >$</text><text x="1672.5" y="1604.1" font-size="9" fill="#f2f2f2" text-anchor="end" font-weight="bold" font-style="normal" font-family="'Liberation Sans',Arial,sans-serif" >100.00</text><text x="1680.5" y="1604.1" font-size="9.5" fill="#ddd" text-anchor="start" font-weight="normal" font-style="normal" font-family="'Liberation Sans',Arial,sans-serif" >$</text><text x="1742.6" y="1604.1" font-size="9" fill="#f2f2f2" text-anchor="end" font-weight="bold" font-style="normal" font-family="'Liberation Sans',Arial,sans-serif" >0.00</text><text x="1750.6" y="1604.1" font-size="9.5" fill="#ddd" text-anchor="start" font-weight="normal" font-style="normal" font-family="'Liberation Sans',Arial,sans-serif" >$</text><text x="1812.7" y="1604.1" font-size="9" fill="#f2f2f2" text-anchor="end" font-weight="bold" font-style="normal" font-family="'Liberation Sans',Arial,sans-serif" >0.00</text><text x="1820.7" y="1604.1" font-size="9.5" fill="#ddd" text-anchor="start" font-weight="normal" font-style="normal" font-family="'Liberation Sans',Arial,sans-serif" >$</text><text x="1882.7" y="1604.1" font-size="9" fill="#f2f2f2" text-anchor="end" font-weight="bold" font-style="normal" font-family="'Liberation Sans',Arial,sans-serif" >0.00</text><text x="1890.7" y="1604.1" font-size="9.5" fill="#ddd" text-anchor="start" font-weight="normal" font-style="normal" font-family="'Liberation Sans',Arial,sans-serif" >$</text><text x="1952.8" y="1604.1" font-size="9" fill="#f2f2f2" text-anchor="end" font-weight="bold" font-style="normal" font-family="'Liberation Sans',Arial,sans-serif" >0.00</text><text x="1960.8" y="1604.1" font-size="9.5" fill="#ddd" text-anchor="start" font-weight="normal" font-style="normal" font-family="'Liberation Sans',Arial,sans-serif" >$</text><text x="2022.9" y="1604.1" font-size="9" fill="#f2f2f2" text-anchor="end" font-weight="bold" font-style="normal" font-family="'Liberation Sans',Arial,sans-serif" >0.00</text><text x="2030.9" y="1604.1" font-size="9.5" fill="#ddd" text-anchor="start" font-weight="normal" font-style="normal" font-family="'Liberation Sans',Arial,sans-serif" >$</text><text x="2093.0" y="1604.1" font-size="9" fill="#f2f2f2" text-anchor="end" font-weight="bold" font-style="normal" font-family="'Liberation Sans',Arial,sans-serif" >1,200.00</text><text x="2101.0" y="1604.1" font-size="9.5" fill="#ddd" text-anchor="start" font-weight="normal" font-style="normal" font-family="'Liberation Sans',Arial,sans-serif" >$</text><text x="2163.1" y="1604.1" font-size="9" fill="#f2f2f2" text-anchor="end" font-weight="bold" font-style="normal" font-family="'Liberation Sans',Arial,sans-serif" >0.00</text><text x="2171.1" y="1604.1" font-size="9.5" fill="#ddd" text-anchor="start" font-weight="normal" font-style="normal" font-family="'Liberation Sans',Arial,sans-serif" >$</text><text x="2233.1" y="1604.1" font-size="9" fill="#f2f2f2" text-anchor="end" font-weight="bold" font-style="normal" font-family="'Liberation Sans',Arial,sans-serif" >0.00</text><text x="2241.1" y="1604.1" font-size="9.5" fill="#ddd" text-anchor="start" font-weight="normal" font-style="normal" font-family="'Liberation Sans',Arial,sans-serif" >$</text><text x="2303.2" y="1604.1" font-size="9" fill="#f2f2f2" text-anchor="end" font-weight="bold" font-style="normal" font-family="'Liberation Sans',Arial,sans-serif" >0.00</text><text x="2311.2" y="1604.1" font-size="9.5" fill="#ddd" text-anchor="start" font-weight="normal" font-style="normal" font-family="'Liberation Sans',Arial,sans-serif" >$</text><text x="2373.3" y="1604.1" font-size="9" fill="#f2f2f2" text-anchor="end" font-weight="bold" font-style="normal" font-family="'Liberation Sans',Arial,sans-serif" >0.00</text><text x="2381.3" y="1604.1" font-size="9.5" fill="#ddd" text-anchor="start" font-weight="normal" font-style="normal" font-family="'Liberation Sans',Arial,sans-serif" >$</text><text x="2443.4" y="1604.1" font-size="9" fill="#f2f2f2" text-anchor="end" font-weight="bold" font-style="normal" font-family="'Liberation Sans',Arial,sans-serif" >0.00</text><text x="2451.4" y="1604.1" font-size="9.5" fill="#ddd" text-anchor="start" font-weight="normal" font-style="normal" font-family="'Liberation Sans',Arial,sans-serif" >$</text><text x="2513.5" y="1604.1" font-size="9" fill="#f2f2f2" text-anchor="end" font-weight="bold" font-style="normal" font-family="'Liberation Sans',Arial,sans-serif" >0.00</text><rect x="1409" y="1609.5" width="1106" height="1.2" fill="#353131"/><rect x="1534.5" y="1609.5" width="67.5" height="1.2" fill="#7fb3a6"/><text x="1413.0" y="1623.3" font-size="8.8" fill="#f2f2f2" text-anchor="start" font-weight="bold" font-style="normal" font-family="'Liberation Sans',Arial,sans-serif" >Investment Dividends</text><text x="1539.5" y="1623.3" font-size="9.5" fill="#ddd" text-anchor="start" font-weight="normal" font-style="normal" font-family="'Liberation Sans',Arial,sans-serif" >$</text><text x="1601.0" y="1623.3" font-size="9" fill="#f2f2f2" text-anchor="end" font-weight="bold" font-style="normal" font-family="'Liberation Sans',Arial,sans-serif" >1,500.00</text><text x="1609.0" y="1623.3" font-size="9.5" fill="#ddd" text-anchor="start" font-weight="normal" font-style="normal" font-family="'Liberation Sans',Arial,sans-serif" >$</text><text x="1672.5" y="1623.3" font-size="9" fill="#f2f2f2" text-anchor="end" font-weight="bold" font-style="normal" font-family="'Liberation Sans',Arial,sans-serif" >125.00</text><text x="1680.5" y="1623.3" font-size="9.5" fill="#ddd" text-anchor="start" font-weight="normal" font-style="normal" font-family="'Liberation Sans',Arial,sans-serif" >$</text><text x="1742.6" y="1623.3" font-size="9" fill="#f2f2f2" text-anchor="end" font-weight="bold" font-style="normal" font-family="'Liberation Sans',Arial,sans-serif" >500.00</text><text x="1750.6" y="1623.3" font-size="9.5" fill="#ddd" text-anchor="start" font-weight="normal" font-style="normal" font-family="'Liberation Sans',Arial,sans-serif" >$</text><text x="1812.7" y="1623.3" font-size="9" fill="#f2f2f2" text-anchor="end" font-weight="bold" font-style="normal" font-family="'Liberation Sans',Arial,sans-serif" >0.00</text><text x="1820.7" y="1623.3" font-size="9.5" fill="#ddd" text-anchor="start" font-weight="normal" font-style="normal" font-family="'Liberation Sans',Arial,sans-serif" >$</text><text x="1882.7" y="1623.3" font-size="9" fill="#f2f2f2" text-anchor="end" font-weight="bold" font-style="normal" font-family="'Liberation Sans',Arial,sans-serif" >0.00</text><text x="1890.7" y="1623.3" font-size="9.5" fill="#ddd" text-anchor="start" font-weight="normal" font-style="normal" font-family="'Liberation Sans',Arial,sans-serif" >$</text><text x="1952.8" y="1623.3" font-size="9" fill="#f2f2f2" text-anchor="end" font-weight="bold" font-style="normal" font-family="'Liberation Sans',Arial,sans-serif" >0.00</text><text x="1960.8" y="1623.3" font-size="9.5" fill="#ddd" text-anchor="start" font-weight="normal" font-style="normal" font-family="'Liberation Sans',Arial,sans-serif" >$</text><text x="2022.9" y="1623.3" font-size="9" fill="#f2f2f2" text-anchor="end" font-weight="bold" font-style="normal" font-family="'Liberation Sans',Arial,sans-serif" >0.00</text><text x="2030.9" y="1623.3" font-size="9.5" fill="#ddd" text-anchor="start" font-weight="normal" font-style="normal" font-family="'Liberation Sans',Arial,sans-serif" >$</text><text x="2093.0" y="1623.3" font-size="9" fill="#f2f2f2" text-anchor="end" font-weight="bold" font-style="normal" font-family="'Liberation Sans',Arial,sans-serif" >0.00</text><text x="2101.0" y="1623.3" font-size="9.5" fill="#ddd" text-anchor="start" font-weight="normal" font-style="normal" font-family="'Liberation Sans',Arial,sans-serif" >$</text><text x="2163.1" y="1623.3" font-size="9" fill="#f2f2f2" text-anchor="end" font-weight="bold" font-style="normal" font-family="'Liberation Sans',Arial,sans-serif" >0.00</text><text x="2171.1" y="1623.3" font-size="9.5" fill="#ddd" text-anchor="start" font-weight="normal" font-style="normal" font-family="'Liberation Sans',Arial,sans-serif" >$</text><text x="2233.1" y="1623.3" font-size="9" fill="#f2f2f2" text-anchor="end" font-weight="bold" font-style="normal" font-family="'Liberation Sans',Arial,sans-serif" >1,000.00</text><text x="2241.1" y="1623.3" font-size="9.5" fill="#ddd" text-anchor="start" font-weight="normal" font-style="normal" font-family="'Liberation Sans',Arial,sans-serif" >$</text><text x="2303.2" y="1623.3" font-size="9" fill="#f2f2f2" text-anchor="end" font-weight="bold" font-style="normal" font-family="'Liberation Sans',Arial,sans-serif" >0.00</text><text x="2311.2" y="1623.3" font-size="9.5" fill="#ddd" text-anchor="start" font-weight="normal" font-style="normal" font-family="'Liberation Sans',Arial,sans-serif" >$</text><text x="2373.3" y="1623.3" font-size="9" fill="#f2f2f2" text-anchor="end" font-weight="bold" font-style="normal" font-family="'Liberation Sans',Arial,sans-serif" >0.00</text><text x="2381.3" y="1623.3" font-size="9.5" fill="#ddd" text-anchor="start" font-weight="normal" font-style="normal" font-family="'Liberation Sans',Arial,sans-serif" >$</text><text x="2443.4" y="1623.3" font-size="9" fill="#f2f2f2" text-anchor="end" font-weight="bold" font-style="normal" font-family="'Liberation Sans',Arial,sans-serif" >0.00</text><text x="2451.4" y="1623.3" font-size="9.5" fill="#ddd" text-anchor="start" font-weight="normal" font-style="normal" font-family="'Liberation Sans',Arial,sans-serif" >$</text><text x="2513.5" y="1623.3" font-size="9" fill="#f2f2f2" text-anchor="end" font-weight="bold" font-style="normal" font-family="'Liberation Sans',Arial,sans-serif" >0.00</text><rect x="1409" y="1628.7" width="1106" height="1.2" fill="#353131"/><rect x="1534.5" y="1628.7" width="67.5" height="1.2" fill="#7fb3a6"/><text x="1413.0" y="1642.6" font-size="8.8" fill="#f2f2f2" text-anchor="start" font-weight="bold" font-style="normal" font-family="'Liberation Sans',Arial,sans-serif" >Savings Interest</text><text x="1539.5" y="1642.6" font-size="9.5" fill="#ddd" text-anchor="start" font-weight="normal" font-style="normal" font-family="'Liberation Sans',Arial,sans-serif" >$</text><text x="1601.0" y="1642.6" font-size="9" fill="#f2f2f2" text-anchor="end" font-weight="bold" font-style="normal" font-family="'Liberation Sans',Arial,sans-serif" >1,215.00</text><text x="1609.0" y="1642.6" font-size="9.5" fill="#ddd" text-anchor="start" font-weight="normal" font-style="normal" font-family="'Liberation Sans',Arial,sans-serif" >$</text><text x="1672.5" y="1642.6" font-size="9" fill="#f2f2f2" text-anchor="end" font-weight="bold" font-style="normal" font-family="'Liberation Sans',Arial,sans-serif" >101.25</text><text x="1680.5" y="1642.6" font-size="9.5" fill="#ddd" text-anchor="start" font-weight="normal" font-style="normal" font-family="'Liberation Sans',Arial,sans-serif" >$</text><text x="1742.6" y="1642.6" font-size="9" fill="#f2f2f2" text-anchor="end" font-weight="bold" font-style="normal" font-family="'Liberation Sans',Arial,sans-serif" >100.00</text><text x="1750.6" y="1642.6" font-size="9.5" fill="#ddd" text-anchor="start" font-weight="normal" font-style="normal" font-family="'Liberation Sans',Arial,sans-serif" >$</text><text x="1812.7" y="1642.6" font-size="9" fill="#f2f2f2" text-anchor="end" font-weight="bold" font-style="normal" font-family="'Liberation Sans',Arial,sans-serif" >0.00</text><text x="1820.7" y="1642.6" font-size="9.5" fill="#ddd" text-anchor="start" font-weight="normal" font-style="normal" font-family="'Liberation Sans',Arial,sans-serif" >$</text><text x="1882.7" y="1642.6" font-size="9" fill="#f2f2f2" text-anchor="end" font-weight="bold" font-style="normal" font-family="'Liberation Sans',Arial,sans-serif" >0.00</text><text x="1890.7" y="1642.6" font-size="9.5" fill="#ddd" text-anchor="start" font-weight="normal" font-style="normal" font-family="'Liberation Sans',Arial,sans-serif" >$</text><text x="1952.8" y="1642.6" font-size="9" fill="#f2f2f2" text-anchor="end" font-weight="bold" font-style="normal" font-family="'Liberation Sans',Arial,sans-serif" >0.00</text><text x="1960.8" y="1642.6" font-size="9.5" fill="#ddd" text-anchor="start" font-weight="normal" font-style="normal" font-family="'Liberation Sans',Arial,sans-serif" >$</text><text x="2022.9" y="1642.6" font-size="9" fill="#f2f2f2" text-anchor="end" font-weight="bold" font-style="normal" font-family="'Liberation Sans',Arial,sans-serif" >0.00</text><text x="2030.9" y="1642.6" font-size="9.5" fill="#ddd" text-anchor="start" font-weight="normal" font-style="normal" font-family="'Liberation Sans',Arial,sans-serif" >$</text><text x="2093.0" y="1642.6" font-size="9" fill="#f2f2f2" text-anchor="end" font-weight="bold" font-style="normal" font-family="'Liberation Sans',Arial,sans-serif" >0.00</text><text x="2101.0" y="1642.6" font-size="9.5" fill="#ddd" text-anchor="start" font-weight="normal" font-style="normal" font-family="'Liberation Sans',Arial,sans-serif" >$</text><text x="2163.1" y="1642.6" font-size="9" fill="#f2f2f2" text-anchor="end" font-weight="bold" font-style="normal" font-family="'Liberation Sans',Arial,sans-serif" >0.00</text><text x="2171.1" y="1642.6" font-size="9.5" fill="#ddd" text-anchor="start" font-weight="normal" font-style="normal" font-family="'Liberation Sans',Arial,sans-serif" >$</text><text x="2233.1" y="1642.6" font-size="9" fill="#f2f2f2" text-anchor="end" font-weight="bold" font-style="normal" font-family="'Liberation Sans',Arial,sans-serif" >0.00</text><text x="2241.1" y="1642.6" font-size="9.5" fill="#ddd" text-anchor="start" font-weight="normal" font-style="normal" font-family="'Liberation Sans',Arial,sans-serif" >$</text><text x="2303.2" y="1642.6" font-size="9" fill="#f2f2f2" text-anchor="end" font-weight="bold" font-style="normal" font-family="'Liberation Sans',Arial,sans-serif" >0.00</text><text x="2311.2" y="1642.6" font-size="9.5" fill="#ddd" text-anchor="start" font-weight="normal" font-style="normal" font-family="'Liberation Sans',Arial,sans-serif" >$</text><text x="2373.3" y="1642.6" font-size="9" fill="#f2f2f2" text-anchor="end" font-weight="bold" font-style="normal" font-family="'Liberation Sans',Arial,sans-serif" >1,050.00</text><text x="2381.3" y="1642.6" font-size="9.5" fill="#ddd" text-anchor="start" font-weight="normal" font-style="normal" font-family="'Liberation Sans',Arial,sans-serif" >$</text><text x="2443.4" y="1642.6" font-size="9" fill="#f2f2f2" text-anchor="end" font-weight="bold" font-style="normal" font-family="'Liberation Sans',Arial,sans-serif" >0.00</text><text x="2451.4" y="1642.6" font-size="9.5" fill="#ddd" text-anchor="start" font-weight="normal" font-style="normal" font-family="'Liberation Sans',Arial,sans-serif" >$</text><text x="2513.5" y="1642.6" font-size="9" fill="#f2f2f2" text-anchor="end" font-weight="bold" font-style="normal" font-family="'Liberation Sans',Arial,sans-serif" >65.00</text><rect x="1409" y="1648.0" width="1106" height="1.2" fill="#353131"/><rect x="1534.5" y="1648.0" width="67.5" height="1.2" fill="#7fb3a6"/><rect x="1409" y="1667.2" width="1106" height="1.2" fill="#353131"/><rect x="1534.5" y="1667.2" width="67.5" height="1.2" fill="#7fb3a6"/><rect x="1409" y="1686.5" width="1106" height="1.2" fill="#353131"/><rect x="1534.5" y="1686.5" width="67.5" height="1.2" fill="#7fb3a6"/><rect x="1409" y="1705.7" width="1106" height="1.2" fill="#353131"/><rect x="1534.5" y="1705.7" width="67.5" height="1.2" fill="#7fb3a6"/><rect x="1409" y="1725.0" width="1106" height="1.2" fill="#353131"/><rect x="1534.5" y="1725.0" width="67.5" height="1.2" fill="#7fb3a6"/><rect x="1409" y="1744.2" width="1106" height="1.2" fill="#353131"/><rect x="1534.5" y="1744.2" width="67.5" height="1.2" fill="#7fb3a6"/><rect x="1409" y="1763.5" width="1106" height="1.2" fill="#353131"/><rect x="1534.5" y="1763.5" width="67.5" height="1.2" fill="#7fb3a6"/><rect x="1409" y="1782.7" width="1106" height="1.2" fill="#353131"/><rect x="1534.5" y="1782.7" width="67.5" height="1.2" fill="#7fb3a6"/><rect x="1409" y="1802.0" width="1106" height="1.2" fill="#353131"/><rect x="1534.5" y="1802.0" width="67.5" height="1.2" fill="#7fb3a6"/><rect x="1409" y="1821.2" width="1106" height="1.2" fill="#353131"/><rect x="1534.5" y="1821.2" width="67.5" height="1.2" fill="#7fb3a6"/><rect x="1409" y="1840.5" width="1106" height="1.2" fill="#353131"/><rect x="1534.5" y="1840.5" width="67.5" height="1.2" fill="#7fb3a6"/><rect x="1409" y="1859.7" width="1106" height="1.2" fill="#353131"/><rect x="1534.5" y="1859.7" width="67.5" height="1.2" fill="#7fb3a6"/><rect x="1674.0" y="1475.5" width="1.2" height="385.0" fill="#353131"/><rect x="1744.1" y="1475.5" width="1.2" height="385.0" fill="#353131"/><rect x="1814.2" y="1475.5" width="1.2" height="385.0" fill="#353131"/><rect x="1884.2" y="1475.5" width="1.2" height="385.0" fill="#353131"/><rect x="1954.3" y="1475.5" width="1.2" height="385.0" fill="#353131"/><rect x="2024.4" y="1475.5" width="1.2" height="385.0" fill="#353131"/><rect x="2094.5" y="1475.5" width="1.2" height="385.0" fill="#353131"/><rect x="2164.6" y="1475.5" width="1.2" height="385.0" fill="#353131"/><rect x="2234.6" y="1475.5" width="1.2" height="385.0" fill="#353131"/><rect x="2304.7" y="1475.5" width="1.2" height="385.0" fill="#353131"/><rect x="2374.8" y="1475.5" width="1.2" height="385.0" fill="#353131"/><rect x="2444.9" y="1475.5" width="1.2" height="385.0" fill="#353131"/><rect x="2515.0" y="1475.5" width="1.2" height="385.0" fill="#353131"/></g>
<rect x="1409" y="1859" width="1106" height="18.5" fill="#43b9a0"/>
<text x="1471.0" y="1872.0" font-size="10" fill="#14403a" text-anchor="middle" font-weight="bold" font-style="italic" font-family="'Liberation Serif',serif" >total income</text>
<text x="1540.5" y="1872.0" font-size="10" fill="#14403a" text-anchor="start" font-weight="bold" font-style="italic" font-family="'Liberation Serif',serif" >$</text>
<text x="1601.0" y="1872.0" font-size="10" fill="#14403a" text-anchor="end" font-weight="bold" font-style="italic" font-family="'Liberation Serif',serif" >198,850.0</text>
<text x="1610.0" y="1872.0" font-size="10" fill="#14403a" text-anchor="start" font-weight="bold" font-style="italic" font-family="'Liberation Serif',serif" >$</text>
<text x="1672.5" y="1872.0" font-size="10" fill="#14403a" text-anchor="end" font-weight="bold" font-style="italic" font-family="'Liberation Serif',serif" >16,570.8</text>
<text x="1681.5" y="1872.0" font-size="10" fill="#14403a" text-anchor="start" font-weight="bold" font-style="italic" font-family="'Liberation Serif',serif" >$</text>
<text x="1742.6" y="1872.0" font-size="10" fill="#14403a" text-anchor="end" font-weight="bold" font-style="italic" font-family="'Liberation Serif',serif" >22,280.0</text>
<text x="1751.6" y="1872.0" font-size="10" fill="#14403a" text-anchor="start" font-weight="bold" font-style="italic" font-family="'Liberation Serif',serif" >$</text>
<text x="1812.7" y="1872.0" font-size="10" fill="#14403a" text-anchor="end" font-weight="bold" font-style="italic" font-family="'Liberation Serif',serif" >22,400.0</text>
<text x="1821.7" y="1872.0" font-size="10" fill="#14403a" text-anchor="start" font-weight="bold" font-style="italic" font-family="'Liberation Serif',serif" >$</text>
<text x="1882.7" y="1872.0" font-size="10" fill="#14403a" text-anchor="end" font-weight="bold" font-style="italic" font-family="'Liberation Serif',serif" >6,900.0</text>
<text x="1891.7" y="1872.0" font-size="10" fill="#14403a" text-anchor="start" font-weight="bold" font-style="italic" font-family="'Liberation Serif',serif" >$</text>
<text x="1952.8" y="1872.0" font-size="10" fill="#14403a" text-anchor="end" font-weight="bold" font-style="italic" font-family="'Liberation Serif',serif" >5,230.0</text>
<text x="1961.8" y="1872.0" font-size="10" fill="#14403a" text-anchor="start" font-weight="bold" font-style="italic" font-family="'Liberation Serif',serif" >$</text>
<text x="2022.9" y="1872.0" font-size="10" fill="#14403a" text-anchor="end" font-weight="bold" font-style="italic" font-family="'Liberation Serif',serif" >19,430.0</text>
<text x="2031.9" y="1872.0" font-size="10" fill="#14403a" text-anchor="start" font-weight="bold" font-style="italic" font-family="'Liberation Serif',serif" >$</text>
<text x="2093.0" y="1872.0" font-size="10" fill="#14403a" text-anchor="end" font-weight="bold" font-style="italic" font-family="'Liberation Serif',serif" >18,820.0</text>
<text x="2102.0" y="1872.0" font-size="10" fill="#14403a" text-anchor="start" font-weight="bold" font-style="italic" font-family="'Liberation Serif',serif" >$</text>
<text x="2163.1" y="1872.0" font-size="10" fill="#14403a" text-anchor="end" font-weight="bold" font-style="italic" font-family="'Liberation Serif',serif" >24,135.0</text>
<text x="2172.1" y="1872.0" font-size="10" fill="#14403a" text-anchor="start" font-weight="bold" font-style="italic" font-family="'Liberation Serif',serif" >$</text>
<text x="2233.1" y="1872.0" font-size="10" fill="#14403a" text-anchor="end" font-weight="bold" font-style="italic" font-family="'Liberation Serif',serif" >17,515.0</text>
<text x="2242.1" y="1872.0" font-size="10" fill="#14403a" text-anchor="start" font-weight="bold" font-style="italic" font-family="'Liberation Serif',serif" >$</text>
<text x="2303.2" y="1872.0" font-size="10" fill="#14403a" text-anchor="end" font-weight="bold" font-style="italic" font-family="'Liberation Serif',serif" >16,540.0</text>
<text x="2312.2" y="1872.0" font-size="10" fill="#14403a" text-anchor="start" font-weight="bold" font-style="italic" font-family="'Liberation Serif',serif" >$</text>
<text x="2373.3" y="1872.0" font-size="10" fill="#14403a" text-anchor="end" font-weight="bold" font-style="italic" font-family="'Liberation Serif',serif" >17,050.0</text>
<text x="2382.3" y="1872.0" font-size="10" fill="#14403a" text-anchor="start" font-weight="bold" font-style="italic" font-family="'Liberation Serif',serif" >$</text>
<text x="2443.4" y="1872.0" font-size="10" fill="#14403a" text-anchor="end" font-weight="bold" font-style="italic" font-family="'Liberation Serif',serif" >17,520.0</text>
<text x="2452.4" y="1872.0" font-size="10" fill="#14403a" text-anchor="start" font-weight="bold" font-style="italic" font-family="'Liberation Serif',serif" >$</text>
<text x="2513.5" y="1872.0" font-size="10" fill="#14403a" text-anchor="end" font-weight="bold" font-style="italic" font-family="'Liberation Serif',serif" >11,030.0</text>
<rect x="1409" y="1877.5" width="1106" height="60" fill="#061d21"/>
<text x="1955.0" y="1920.0" font-size="9.5" fill="#f2f2f2" text-anchor="middle" font-weight="bold" font-style="normal" font-family="'Liberation Sans',Arial,sans-serif" letter-spacing="3.7" >BILLS MONTH BY MONTH</text><rect x="1533.5" y="1935.5" width="69.5" height="1000" fill="#d9a53a"/><rect x="1603.5" y="1935.5" width="70.5" height="1000" fill="#263a3f"/><text x="1471.2" y="1950.0" font-size="11.5" fill="#e9b13a" text-anchor="middle" font-weight="normal" font-style="italic" font-family="'Liberation Serif',serif" >category</text><text x="1568.2" y="1950.0" font-size="11.5" fill="#fff" text-anchor="middle" font-weight="normal" font-style="italic" font-family="'Liberation Serif',serif" >total</text><text x="1638.8" y="1950.0" font-size="11.5" fill="#e9b13a" text-anchor="middle" font-weight="normal" font-style="italic" font-family="'Liberation Serif',serif" >average</text><text x="1709.5" y="1950.0" font-size="11.5" fill="#e9b13a" text-anchor="middle" font-weight="normal" font-style="italic" font-family="'Liberation Serif',serif" >July</text><text x="1779.6" y="1950.0" font-size="11.5" fill="#e9b13a" text-anchor="middle" font-weight="normal" font-style="italic" font-family="'Liberation Serif',serif" >August</text><text x="1849.7" y="1950.0" font-size="11.5" fill="#e9b13a" text-anchor="middle" font-weight="normal" font-style="italic" font-family="'Liberation Serif',serif" >September</text><text x="1919.8" y="1950.0" font-size="11.5" fill="#e9b13a" text-anchor="middle" font-weight="normal" font-style="italic" font-family="'Liberation Serif',serif" >October</text><text x="1989.9" y="1950.0" font-size="11.5" fill="#e9b13a" text-anchor="middle" font-weight="normal" font-style="italic" font-family="'Liberation Serif',serif" >November</text><text x="2059.9" y="1950.0" font-size="11.5" fill="#e9b13a" text-anchor="middle" font-weight="normal" font-style="italic" font-family="'Liberation Serif',serif" >December</text><text x="2130.0" y="1950.0" font-size="11.5" fill="#e9b13a" text-anchor="middle" font-weight="normal" font-style="italic" font-family="'Liberation Serif',serif" >January</text><text x="2200.1" y="1950.0" font-size="11.5" fill="#e9b13a" text-anchor="middle" font-weight="normal" font-style="italic" font-family="'Liberation Serif',serif" >February</text><text x="2270.2" y="1950.0" font-size="11.5" fill="#e9b13a" text-anchor="middle" font-weight="normal" font-style="italic" font-family="'Liberation Serif',serif" >March</text><text x="2340.3" y="1950.0" font-size="11.5" fill="#e9b13a" text-anchor="middle" font-weight="normal" font-style="italic" font-family="'Liberation Serif',serif" >April</text><text x="2410.3" y="1950.0" font-size="11.5" fill="#e9b13a" text-anchor="middle" font-weight="normal" font-style="italic" font-family="'Liberation Serif',serif" >May</text><text x="2480.4" y="1950.0" font-size="11.5" fill="#e9b13a" text-anchor="middle" font-weight="normal" font-style="italic" font-family="'Liberation Serif',serif" >June</text><rect x="1409" y="1955" width="1106" height="2" fill="#e9b13a"/><text x="1413.0" y="1968.6" font-size="8.8" fill="#f2f2f2" text-anchor="start" font-weight="bold" font-style="normal" font-family="'Liberation Sans',Arial,sans-serif" >Mortgage</text><text x="1539.5" y="1968.6" font-size="9.5" fill="#ddd" text-anchor="start" font-weight="normal" font-style="normal" font-family="'Liberation Sans',Arial,sans-serif" >$</text><text x="1601.0" y="1968.6" font-size="9" fill="#f2f2f2" text-anchor="end" font-weight="bold" font-style="normal" font-family="'Liberation Sans',Arial,sans-serif" >24,200.00</text><text x="1609.0" y="1968.6" font-size="9.5" fill="#ddd" text-anchor="start" font-weight="normal" font-style="normal" font-family="'Liberation Sans',Arial,sans-serif" >$</text><text x="1672.5" y="1968.6" font-size="9" fill="#f2f2f2" text-anchor="end" font-weight="bold" font-style="normal" font-family="'Liberation Sans',Arial,sans-serif" >2,016.67</text><text x="1680.5" y="1968.6" font-size="9.5" fill="#ddd" text-anchor="start" font-weight="normal" font-style="normal" font-family="'Liberation Sans',Arial,sans-serif" >$</text><text x="1742.6" y="1968.6" font-size="9" fill="#f2f2f2" text-anchor="end" font-weight="bold" font-style="normal" font-family="'Liberation Sans',Arial,sans-serif" >2,200.00</text><text x="1750.6" y="1968.6" font-size="9.5" fill="#ddd" text-anchor="start" font-weight="normal" font-style="normal" font-family="'Liberation Sans',Arial,sans-serif" >$</text><text x="1812.7" y="1968.6" font-size="9" fill="#f2f2f2" text-anchor="end" font-weight="bold" font-style="normal" font-family="'Liberation Sans',Arial,sans-serif" >2,200.00</text><text x="1820.7" y="1968.6" font-size="9.5" fill="#ddd" text-anchor="start" font-weight="normal" font-style="normal" font-family="'Liberation Sans',Arial,sans-serif" >$</text><text x="1882.7" y="1968.6" font-size="9" fill="#f2f2f2" text-anchor="end" font-weight="bold" font-style="normal" font-family="'Liberation Sans',Arial,sans-serif" >2,200.00</text><text x="1890.7" y="1968.6" font-size="9.5" fill="#ddd" text-anchor="start" font-weight="normal" font-style="normal" font-family="'Liberation Sans',Arial,sans-serif" >$</text><text x="1952.8" y="1968.6" font-size="9" fill="#f2f2f2" text-anchor="end" font-weight="bold" font-style="normal" font-family="'Liberation Sans',Arial,sans-serif" >0.00</text><text x="1960.8" y="1968.6" font-size="9.5" fill="#ddd" text-anchor="start" font-weight="normal" font-style="normal" font-family="'Liberation Sans',Arial,sans-serif" >$</text><text x="2022.9" y="1968.6" font-size="9" fill="#f2f2f2" text-anchor="end" font-weight="bold" font-style="normal" font-family="'Liberation Sans',Arial,sans-serif" >2,200.00</text><text x="2030.9" y="1968.6" font-size="9.5" fill="#ddd" text-anchor="start" font-weight="normal" font-style="normal" font-family="'Liberation Sans',Arial,sans-serif" >$</text><text x="2093.0" y="1968.6" font-size="9" fill="#f2f2f2" text-anchor="end" font-weight="bold" font-style="normal" font-family="'Liberation Sans',Arial,sans-serif" >2,200.00</text><text x="2101.0" y="1968.6" font-size="9.5" fill="#ddd" text-anchor="start" font-weight="normal" font-style="normal" font-family="'Liberation Sans',Arial,sans-serif" >$</text><text x="2163.1" y="1968.6" font-size="9" fill="#f2f2f2" text-anchor="end" font-weight="bold" font-style="normal" font-family="'Liberation Sans',Arial,sans-serif" >2,200.00</text><text x="2171.1" y="1968.6" font-size="9.5" fill="#ddd" text-anchor="start" font-weight="normal" font-style="normal" font-family="'Liberation Sans',Arial,sans-serif" >$</text><text x="2233.1" y="1968.6" font-size="9" fill="#f2f2f2" text-anchor="end" font-weight="bold" font-style="normal" font-family="'Liberation Sans',Arial,sans-serif" >2,200.00</text><text x="2241.1" y="1968.6" font-size="9.5" fill="#ddd" text-anchor="start" font-weight="normal" font-style="normal" font-family="'Liberation Sans',Arial,sans-serif" >$</text><text x="2303.2" y="1968.6" font-size="9" fill="#f2f2f2" text-anchor="end" font-weight="bold" font-style="normal" font-family="'Liberation Sans',Arial,sans-serif" >2,200.00</text><text x="2311.2" y="1968.6" font-size="9.5" fill="#ddd" text-anchor="start" font-weight="normal" font-style="normal" font-family="'Liberation Sans',Arial,sans-serif" >$</text><text x="2373.3" y="1968.6" font-size="9" fill="#f2f2f2" text-anchor="end" font-weight="bold" font-style="normal" font-family="'Liberation Sans',Arial,sans-serif" >2,200.00</text><text x="2381.3" y="1968.6" font-size="9.5" fill="#ddd" text-anchor="start" font-weight="normal" font-style="normal" font-family="'Liberation Sans',Arial,sans-serif" >$</text><text x="2443.4" y="1968.6" font-size="9" fill="#f2f2f2" text-anchor="end" font-weight="bold" font-style="normal" font-family="'Liberation Sans',Arial,sans-serif" >2,200.00</text><text x="2451.4" y="1968.6" font-size="9.5" fill="#ddd" text-anchor="start" font-weight="normal" font-style="normal" font-family="'Liberation Sans',Arial,sans-serif" >$</text><text x="2513.5" y="1968.6" font-size="9" fill="#f2f2f2" text-anchor="end" font-weight="bold" font-style="normal" font-family="'Liberation Sans',Arial,sans-serif" >2,200.00</text><rect x="1409" y="1974.0" width="1106" height="1.2" fill="#353131"/><rect x="1534.5" y="1974.0" width="67.5" height="1.2" fill="#f0d08a"/><text x="1413.0" y="1987.8" font-size="8.8" fill="#f2f2f2" text-anchor="start" font-weight="bold" font-style="normal" font-family="'Liberation Sans',Arial,sans-serif" >Property Tax</text><text x="1539.5" y="1987.8" font-size="9.5" fill="#ddd" text-anchor="start" font-weight="normal" font-style="normal" font-family="'Liberation Sans',Arial,sans-serif" >$</text><text x="1601.0" y="1987.8" font-size="9" fill="#f2f2f2" text-anchor="end" font-weight="bold" font-style="normal" font-family="'Liberation Sans',Arial,sans-serif" >0.00</text><text x="1609.0" y="1987.8" font-size="9.5" fill="#ddd" text-anchor="start" font-weight="normal" font-style="normal" font-family="'Liberation Sans',Arial,sans-serif" >$</text><text x="1672.5" y="1987.8" font-size="9" fill="#f2f2f2" text-anchor="end" font-weight="bold" font-style="normal" font-family="'Liberation Sans',Arial,sans-serif" >0.00</text><text x="1680.5" y="1987.8" font-size="9.5" fill="#ddd" text-anchor="start" font-weight="normal" font-style="normal" font-family="'Liberation Sans',Arial,sans-serif" >$</text><text x="1742.6" y="1987.8" font-size="9" fill="#f2f2f2" text-anchor="end" font-weight="bold" font-style="normal" font-family="'Liberation Sans',Arial,sans-serif" >0.00</text><text x="1750.6" y="1987.8" font-size="9.5" fill="#ddd" text-anchor="start" font-weight="normal" font-style="normal" font-family="'Liberation Sans',Arial,sans-serif" >$</text><text x="1812.7" y="1987.8" font-size="9" fill="#f2f2f2" text-anchor="end" font-weight="bold" font-style="normal" font-family="'Liberation Sans',Arial,sans-serif" >0.00</text><text x="1820.7" y="1987.8" font-size="9.5" fill="#ddd" text-anchor="start" font-weight="normal" font-style="normal" font-family="'Liberation Sans',Arial,sans-serif" >$</text><text x="1882.7" y="1987.8" font-size="9" fill="#f2f2f2" text-anchor="end" font-weight="bold" font-style="normal" font-family="'Liberation Sans',Arial,sans-serif" >0.00</text><text x="1890.7" y="1987.8" font-size="9.5" fill="#ddd" text-anchor="start" font-weight="normal" font-style="normal" font-family="'Liberation Sans',Arial,sans-serif" >$</text><text x="1952.8" y="1987.8" font-size="9" fill="#f2f2f2" text-anchor="end" font-weight="bold" font-style="normal" font-family="'Liberation Sans',Arial,sans-serif" >0.00</text><text x="1960.8" y="1987.8" font-size="9.5" fill="#ddd" text-anchor="start" font-weight="normal" font-style="normal" font-family="'Liberation Sans',Arial,sans-serif" >$</text><text x="2022.9" y="1987.8" font-size="9" fill="#f2f2f2" text-anchor="end" font-weight="bold" font-style="normal" font-family="'Liberation Sans',Arial,sans-serif" >0.00</text><text x="2030.9" y="1987.8" font-size="9.5" fill="#ddd" text-anchor="start" font-weight="normal" font-style="normal" font-family="'Liberation Sans',Arial,sans-serif" >$</text><text x="2093.0" y="1987.8" font-size="9" fill="#f2f2f2" text-anchor="end" font-weight="bold" font-style="normal" font-family="'Liberation Sans',Arial,sans-serif" >0.00</text><text x="2101.0" y="1987.8" font-size="9.5" fill="#ddd" text-anchor="start" font-weight="normal" font-style="normal" font-family="'Liberation Sans',Arial,sans-serif" >$</text><text x="2163.1" y="1987.8" font-size="9" fill="#f2f2f2" text-anchor="end" font-weight="bold" font-style="normal" font-family="'Liberation Sans',Arial,sans-serif" >0.00</text><text x="2171.1" y="1987.8" font-size="9.5" fill="#ddd" text-anchor="start" font-weight="normal" font-style="normal" font-family="'Liberation Sans',Arial,sans-serif" >$</text><text x="2233.1" y="1987.8" font-size="9" fill="#f2f2f2" text-anchor="end" font-weight="bold" font-style="normal" font-family="'Liberation Sans',Arial,sans-serif" >0.00</text><text x="2241.1" y="1987.8" font-size="9.5" fill="#ddd" text-anchor="start" font-weight="normal" font-style="normal" font-family="'Liberation Sans',Arial,sans-serif" >$</text><text x="2303.2" y="1987.8" font-size="9" fill="#f2f2f2" text-anchor="end" font-weight="bold" font-style="normal" font-family="'Liberation Sans',Arial,sans-serif" >0.00</text><text x="2311.2" y="1987.8" font-size="9.5" fill="#ddd" text-anchor="start" font-weight="normal" font-style="normal" font-family="'Liberation Sans',Arial,sans-serif" >$</text><text x="2373.3" y="1987.8" font-size="9" fill="#f2f2f2" text-anchor="end" font-weight="bold" font-style="normal" font-family="'Liberation Sans',Arial,sans-serif" >0.00</text><text x="2381.3" y="1987.8" font-size="9.5" fill="#ddd" text-anchor="start" font-weight="normal" font-style="normal" font-family="'Liberation Sans',Arial,sans-serif" >$</text><text x="2443.4" y="1987.8" font-size="9" fill="#f2f2f2" text-anchor="end" font-weight="bold" font-style="normal" font-family="'Liberation Sans',Arial,sans-serif" >0.00</text><text x="2451.4" y="1987.8" font-size="9.5" fill="#ddd" text-anchor="start" font-weight="normal" font-style="normal" font-family="'Liberation Sans',Arial,sans-serif" >$</text><text x="2513.5" y="1987.8" font-size="9" fill="#f2f2f2" text-anchor="end" font-weight="bold" font-style="normal" font-family="'Liberation Sans',Arial,sans-serif" >0.00</text><rect x="1409" y="1993.2" width="1106" height="1.2" fill="#353131"/><rect x="1534.5" y="1993.2" width="67.5" height="1.2" fill="#f0d08a"/><text x="1413.0" y="2007.1" font-size="8.8" fill="#f2f2f2" text-anchor="start" font-weight="bold" font-style="normal" font-family="'Liberation Sans',Arial,sans-serif" >Electricity</text><text x="1539.5" y="2007.1" font-size="9.5" fill="#ddd" text-anchor="start" font-weight="normal" font-style="normal" font-family="'Liberation Sans',Arial,sans-serif" >$</text><text x="1601.0" y="2007.1" font-size="9" fill="#f2f2f2" text-anchor="end" font-weight="bold" font-style="normal" font-family="'Liberation Sans',Arial,sans-serif" >1,650.00</text><text x="1609.0" y="2007.1" font-size="9.5" fill="#ddd" text-anchor="start" font-weight="normal" font-style="normal" font-family="'Liberation Sans',Arial,sans-serif" >$</text><text x="1672.5" y="2007.1" font-size="9" fill="#f2f2f2" text-anchor="end" font-weight="bold" font-style="normal" font-family="'Liberation Sans',Arial,sans-serif" >137.50</text><text x="1680.5" y="2007.1" font-size="9.5" fill="#ddd" text-anchor="start" font-weight="normal" font-style="normal" font-family="'Liberation Sans',Arial,sans-serif" >$</text><text x="1742.6" y="2007.1" font-size="9" fill="#f2f2f2" text-anchor="end" font-weight="bold" font-style="normal" font-family="'Liberation Sans',Arial,sans-serif" >150.00</text><text x="1750.6" y="2007.1" font-size="9.5" fill="#ddd" text-anchor="start" font-weight="normal" font-style="normal" font-family="'Liberation Sans',Arial,sans-serif" >$</text><text x="1812.7" y="2007.1" font-size="9" fill="#f2f2f2" text-anchor="end" font-weight="bold" font-style="normal" font-family="'Liberation Sans',Arial,sans-serif" >150.00</text><text x="1820.7" y="2007.1" font-size="9.5" fill="#ddd" text-anchor="start" font-weight="normal" font-style="normal" font-family="'Liberation Sans',Arial,sans-serif" >$</text><text x="1882.7" y="2007.1" font-size="9" fill="#f2f2f2" text-anchor="end" font-weight="bold" font-style="normal" font-family="'Liberation Sans',Arial,sans-serif" >150.00</text><text x="1890.7" y="2007.1" font-size="9.5" fill="#ddd" text-anchor="start" font-weight="normal" font-style="normal" font-family="'Liberation Sans',Arial,sans-serif" >$</text><text x="1952.8" y="2007.1" font-size="9" fill="#f2f2f2" text-anchor="end" font-weight="bold" font-style="normal" font-family="'Liberation Sans',Arial,sans-serif" >0.00</text><text x="1960.8" y="2007.1" font-size="9.5" fill="#ddd" text-anchor="start" font-weight="normal" font-style="normal" font-family="'Liberation Sans',Arial,sans-serif" >$</text><text x="2022.9" y="2007.1" font-size="9" fill="#f2f2f2" text-anchor="end" font-weight="bold" font-style="normal" font-family="'Liberation Sans',Arial,sans-serif" >150.00</text><text x="2030.9" y="2007.1" font-size="9.5" fill="#ddd" text-anchor="start" font-weight="normal" font-style="normal" font-family="'Liberation Sans',Arial,sans-serif" >$</text><text x="2093.0" y="2007.1" font-size="9" fill="#f2f2f2" text-anchor="end" font-weight="bold" font-style="normal" font-family="'Liberation Sans',Arial,sans-serif" >150.00</text><text x="2101.0" y="2007.1" font-size="9.5" fill="#ddd" text-anchor="start" font-weight="normal" font-style="normal" font-family="'Liberation Sans',Arial,sans-serif" >$</text><text x="2163.1" y="2007.1" font-size="9" fill="#f2f2f2" text-anchor="end" font-weight="bold" font-style="normal" font-family="'Liberation Sans',Arial,sans-serif" >150.00</text><text x="2171.1" y="2007.1" font-size="9.5" fill="#ddd" text-anchor="start" font-weight="normal" font-style="normal" font-family="'Liberation Sans',Arial,sans-serif" >$</text><text x="2233.1" y="2007.1" font-size="9" fill="#f2f2f2" text-anchor="end" font-weight="bold" font-style="normal" font-family="'Liberation Sans',Arial,sans-serif" >150.00</text><text x="2241.1" y="2007.1" font-size="9.5" fill="#ddd" text-anchor="start" font-weight="normal" font-style="normal" font-family="'Liberation Sans',Arial,sans-serif" >$</text><text x="2303.2" y="2007.1" font-size="9" fill="#f2f2f2" text-anchor="end" font-weight="bold" font-style="normal" font-family="'Liberation Sans',Arial,sans-serif" >150.00</text><text x="2311.2" y="2007.1" font-size="9.5" fill="#ddd" text-anchor="start" font-weight="normal" font-style="normal" font-family="'Liberation Sans',Arial,sans-serif" >$</text><text x="2373.3" y="2007.1" font-size="9" fill="#f2f2f2" text-anchor="end" font-weight="bold" font-style="normal" font-family="'Liberation Sans',Arial,sans-serif" >150.00</text><text x="2381.3" y="2007.1" font-size="9.5" fill="#ddd" text-anchor="start" font-weight="normal" font-style="normal" font-family="'Liberation Sans',Arial,sans-serif" >$</text><text x="2443.4" y="2007.1" font-size="9" fill="#f2f2f2" text-anchor="end" font-weight="bold" font-style="normal" font-family="'Liberation Sans',Arial,sans-serif" >150.00</text><text x="2451.4" y="2007.1" font-size="9.5" fill="#ddd" text-anchor="start" font-weight="normal" font-style="normal" font-family="'Liberation Sans',Arial,sans-serif" >$</text><text x="2513.5" y="2007.1" font-size="9" fill="#f2f2f2" text-anchor="end" font-weight="bold" font-style="normal" font-family="'Liberation Sans',Arial,sans-serif" >150.00</text><rect x="1409" y="2012.5" width="1106" height="1.2" fill="#353131"/><rect x="1534.5" y="2012.5" width="67.5" height="1.2" fill="#f0d08a"/><text x="1413.0" y="2026.3" font-size="8.8" fill="#f2f2f2" text-anchor="start" font-weight="bold" font-style="normal" font-family="'Liberation Sans',Arial,sans-serif" >Water</text><text x="1539.5" y="2026.3" font-size="9.5" fill="#ddd" text-anchor="start" font-weight="normal" font-style="normal" font-family="'Liberation Sans',Arial,sans-serif" >$</text><text x="1601.0" y="2026.3" font-size="9" fill="#f2f2f2" text-anchor="end" font-weight="bold" font-style="normal" font-family="'Liberation Sans',Arial,sans-serif" >660.00</text><text x="1609.0" y="2026.3" font-size="9.5" fill="#ddd" text-anchor="start" font-weight="normal" font-style="normal" font-family="'Liberation Sans',Arial,sans-serif" >$</text><text x="1672.5" y="2026.3" font-size="9" fill="#f2f2f2" text-anchor="end" font-weight="bold" font-style="normal" font-family="'Liberation Sans',Arial,sans-serif" >55.00</text><text x="1680.5" y="2026.3" font-size="9.5" fill="#ddd" text-anchor="start" font-weight="normal" font-style="normal" font-family="'Liberation Sans',Arial,sans-serif" >$</text><text x="1742.6" y="2026.3" font-size="9" fill="#f2f2f2" text-anchor="end" font-weight="bold" font-style="normal" font-family="'Liberation Sans',Arial,sans-serif" >60.00</text><text x="1750.6" y="2026.3" font-size="9.5" fill="#ddd" text-anchor="start" font-weight="normal" font-style="normal" font-family="'Liberation Sans',Arial,sans-serif" >$</text><text x="1812.7" y="2026.3" font-size="9" fill="#f2f2f2" text-anchor="end" font-weight="bold" font-style="normal" font-family="'Liberation Sans',Arial,sans-serif" >60.00</text><text x="1820.7" y="2026.3" font-size="9.5" fill="#ddd" text-anchor="start" font-weight="normal" font-style="normal" font-family="'Liberation Sans',Arial,sans-serif" >$</text><text x="1882.7" y="2026.3" font-size="9" fill="#f2f2f2" text-anchor="end" font-weight="bold" font-style="normal" font-family="'Liberation Sans',Arial,sans-serif" >60.00</text><text x="1890.7" y="2026.3" font-size="9.5" fill="#ddd" text-anchor="start" font-weight="normal" font-style="normal" font-family="'Liberation Sans',Arial,sans-serif" >$</text><text x="1952.8" y="2026.3" font-size="9" fill="#f2f2f2" text-anchor="end" font-weight="bold" font-style="normal" font-family="'Liberation Sans',Arial,sans-serif" >0.00</text><text x="1960.8" y="2026.3" font-size="9.5" fill="#ddd" text-anchor="start" font-weight="normal" font-style="normal" font-family="'Liberation Sans',Arial,sans-serif" >$</text><text x="2022.9" y="2026.3" font-size="9" fill="#f2f2f2" text-anchor="end" font-weight="bold" font-style="normal" font-family="'Liberation Sans',Arial,sans-serif" >60.00</text><text x="2030.9" y="2026.3" font-size="9.5" fill="#ddd" text-anchor="start" font-weight="normal" font-style="normal" font-family="'Liberation Sans',Arial,sans-serif" >$</text><text x="2093.0" y="2026.3" font-size="9" fill="#f2f2f2" text-anchor="end" font-weight="bold" font-style="normal" font-family="'Liberation Sans',Arial,sans-serif" >60.00</text><text x="2101.0" y="2026.3" font-size="9.5" fill="#ddd" text-anchor="start" font-weight="normal" font-style="normal" font-family="'Liberation Sans',Arial,sans-serif" >$</text><text x="2163.1" y="2026.3" font-size="9" fill="#f2f2f2" text-anchor="end" font-weight="bold" font-style="normal" font-family="'Liberation Sans',Arial,sans-serif" >60.00</text><text x="2171.1" y="2026.3" font-size="9.5" fill="#ddd" text-anchor="start" font-weight="normal" font-style="normal" font-family="'Liberation Sans',Arial,sans-serif" >$</text><text x="2233.1" y="2026.3" font-size="9" fill="#f2f2f2" text-anchor="end" font-weight="bold" font-style="normal" font-family="'Liberation Sans',Arial,sans-serif" >60.00</text><text x="2241.1" y="2026.3" font-size="9.5" fill="#ddd" text-anchor="start" font-weight="normal" font-style="normal" font-family="'Liberation Sans',Arial,sans-serif" >$</text><text x="2303.2" y="2026.3" font-size="9" fill="#f2f2f2" text-anchor="end" font-weight="bold" font-style="normal" font-family="'Liberation Sans',Arial,sans-serif" >60.00</text><text x="2311.2" y="2026.3" font-size="9.5" fill="#ddd" text-anchor="start" font-weight="normal" font-style="normal" font-family="'Liberation Sans',Arial,sans-serif" >$</text><text x="2373.3" y="2026.3" font-size="9" fill="#f2f2f2" text-anchor="end" font-weight="bold" font-style="normal" font-family="'Liberation Sans',Arial,sans-serif" >60.00</text><text x="2381.3" y="2026.3" font-size="9.5" fill="#ddd" text-anchor="start" font-weight="normal" font-style="normal" font-family="'Liberation Sans',Arial,sans-serif" >$</text><text x="2443.4" y="2026.3" font-size="9" fill="#f2f2f2" text-anchor="end" font-weight="bold" font-style="normal" font-family="'Liberation Sans',Arial,sans-serif" >60.00</text><text x="2451.4" y="2026.3" font-size="9.5" fill="#ddd" text-anchor="start" font-weight="normal" font-style="normal" font-family="'Liberation Sans',Arial,sans-serif" >$</text><text x="2513.5" y="2026.3" font-size="9" fill="#f2f2f2" text-anchor="end" font-weight="bold" font-style="normal" font-family="'Liberation Sans',Arial,sans-serif" >60.00</text><rect x="1409" y="2031.7" width="1106" height="1.2" fill="#353131"/><rect x="1534.5" y="2031.7" width="67.5" height="1.2" fill="#f0d08a"/><rect x="1409" y="2050.9" width="1106" height="1.2" fill="#353131"/><rect x="1534.5" y="2050.9" width="67.5" height="1.2" fill="#f0d08a"/><rect x="1674.0" y="1955.5" width="1.2" height="96.2" fill="#353131"/><rect x="1744.1" y="1955.5" width="1.2" height="96.2" fill="#353131"/><rect x="1814.2" y="1955.5" width="1.2" height="96.2" fill="#353131"/><rect x="1884.2" y="1955.5" width="1.2" height="96.2" fill="#353131"/><rect x="1954.3" y="1955.5" width="1.2" height="96.2" fill="#353131"/><rect x="2024.4" y="1955.5" width="1.2" height="96.2" fill="#353131"/><rect x="2094.5" y="1955.5" width="1.2" height="96.2" fill="#353131"/><rect x="2164.6" y="1955.5" width="1.2" height="96.2" fill="#353131"/><rect x="2234.6" y="1955.5" width="1.2" height="96.2" fill="#353131"/><rect x="2304.7" y="1955.5" width="1.2" height="96.2" fill="#353131"/><rect x="2374.8" y="1955.5" width="1.2" height="96.2" fill="#353131"/><rect x="2444.9" y="1955.5" width="1.2" height="96.2" fill="#353131"/><rect x="2515.0" y="1955.5" width="1.2" height="96.2" fill="#353131"/>
</svg>

<div class="a" style="left:2003px;top:1606px;width:291px;height:291px;border-radius:50%;background:radial-gradient(circle at 45% 30%,#fbfbfb 0%,#f3f2f2 60%,#ecebeb 100%);box-shadow:2px 10px 30px rgba(0,0,0,0.55)"></div>
<div id="nm" class="a nw" style="left:2003px;top:1672px;width:291px;text-align:center;font-size:40px;font-weight:bold;line-height:56px;color:#5468d4">NO MANUAL<br>INPUT<br>REQUIRED</div>
<div class="a" style="left:2316px;top:1600px;width:291px;height:291px;border-radius:50%;background:radial-gradient(circle at 45% 30%,#fbfbfb 0%,#f3f2f2 60%,#ecebeb 100%);box-shadow:4px 10px 30px rgba(20,20,35,0.5)"></div>
<svg class="a" style="left:2316px;top:1600px" width="291" height="291" viewBox="2316 1600 291 291">
<rect x="2401.5" y="1726" width="22" height="44" fill="#5468d4"/>
<rect x="2432.5" y="1709" width="22" height="61" fill="#5468d4"/>
<rect x="2464" y="1692.6" width="22" height="77.4" fill="#5468d4"/>
<rect x="2494" y="1670" width="22.5" height="100" fill="#5468d4"/>
<path d="M2416 1770 Q2421 1745 2423 1728 L2423 1770Z" fill="#7d8ef0" opacity="0.8"/>
<path d="M2447 1770 Q2452 1735 2454.5 1711 L2454.5 1770Z" fill="#7d8ef0" opacity="0.8"/>
<path d="M2478 1770 Q2483 1725 2486 1695 L2486 1770Z" fill="#7d8ef0" opacity="0.8"/>
<path d="M2508 1770 Q2513 1715 2516.5 1672 L2516.5 1770Z" fill="#7d8ef0" opacity="0.8"/>
<rect x="2388.5" y="1770" width="141.5" height="6" fill="#fbbf45"/>
<path d="M2385 1711 C2440 1712 2490 1680 2512 1631" fill="none" stroke="#ef86bb" stroke-width="3.5" stroke-linecap="round"/>
<path d="M2386 1711 C2440 1708 2488 1676 2510 1634" fill="none" stroke="#ef86bb" stroke-width="2"/>
<path d="M2495 1637 L2515.5 1627 L2513 1650" fill="none" stroke="#ef86bb" stroke-width="3.5" stroke-linecap="round" stroke-linejoin="round"/>
</svg>
<div id="ez" class="a nw" style="left:2316px;top:1790px;width:291px;text-align:center;font-size:32px;font-weight:bold;line-height:35px;color:#5468d4">Easy to Read<br>Charts</div>

</body></html>
